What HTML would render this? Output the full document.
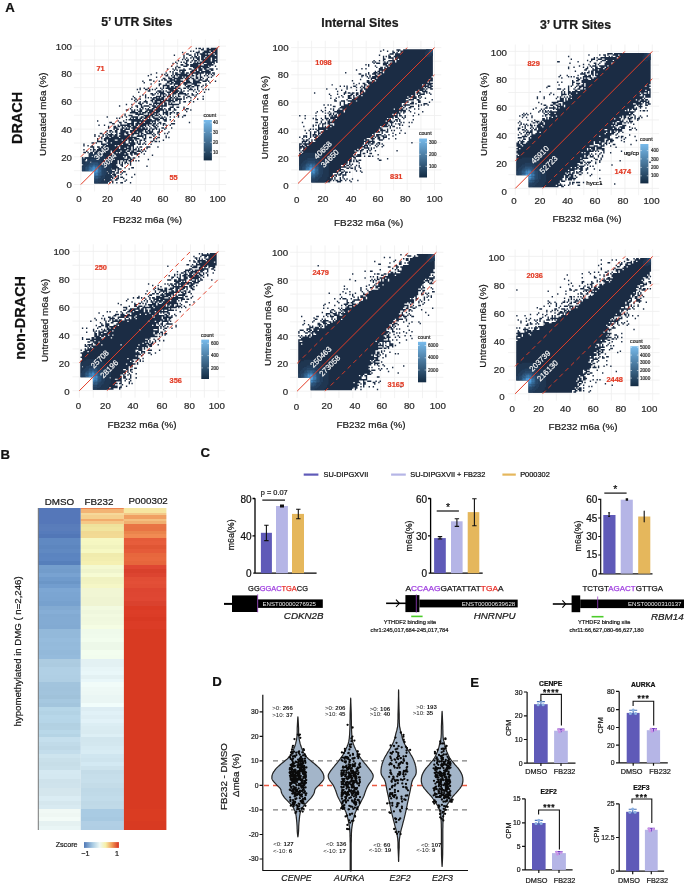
<!DOCTYPE html>
<html><head><meta charset="utf-8"><style>
html,body{margin:0;padding:0;background:#fff;}
svg{display:block;font-family:"Liberation Sans", sans-serif;will-change:transform;}
</style></head><body>
<svg width="685" height="884" viewBox="0 0 685 884">
<rect width="685" height="884" fill="#fff"/>
<defs><linearGradient id="cg" x1="0" y1="1" x2="0" y2="0"><stop offset="0" stop-color="#132B43"/><stop offset="1" stop-color="#78bbec"/></linearGradient></defs>
<path d="M80.8 39.2V191.4M73.9 184.5H226.1M94.6 39.2V191.4M73.9 170.7H226.1M108.5 39.2V191.4M73.9 156.8H226.1M122.3 39.2V191.4M73.9 143H226.1M136.2 39.2V191.4M73.9 129.1H226.1M150 39.2V191.4M73.9 115.3H226.1M163.8 39.2V191.4M73.9 101.5H226.1M177.7 39.2V191.4M73.9 87.6H226.1M191.5 39.2V191.4M73.9 73.8H226.1M205.4 39.2V191.4M73.9 59.9H226.1M219.2 39.2V191.4M73.9 46.1H226.1" stroke="#efefef" stroke-width="0.8" fill="none"/>
<path transform="matrix(1.3702 0 0 1.3702 80.54 47.06)" d="M10 99h10M21 99h1M23 99h1M26 99h1M29 99h2M36 99h1M10 98h11M23 98h1M32 98h1M10 97h7M18 97h5M25 97h2M33 97h1M10 96h12M23 96h1M26 96h2M31 96h1M10 95h14M25 95h1M27 95h1M29 95h2M37 95h1M10 94h13M24 94h2M27 94h1M10 93h12M23 93h3M29 93h1M33 93h1M39 93h1M10 92h10M21 92h2M24 92h1M26 92h2M30 92h1M10 91h9M20 91h5M27 91h1M29 91h1M31 91h2M1 90h22M25 90h1M27 90h1M1 89h11M13 89h9M23 89h3M27 89h3M35 89h1M1 88h27M32 88h1M37 88h2M1 87h26M30 87h1M48 87h1M2 86h24M29 86h2M36 86h1M1 85h26M28 85h1M30 85h1M32 85h1M34 85h1M36 85h1M1 84h6M8 84h11M20 84h2M23 84h4M28 84h1M30 84h1M32 84h2M36 84h1M1 83h2M5 83h22M28 83h1M31 83h1M33 83h1M35 83h2M38 83h1M40 83h1M42 83h1M1 82h3M5 82h12M18 82h6M25 82h10M36 82h2M49 82h1M1 81h1M3 81h29M34 81h3M38 81h2M6 80h2M9 80h3M13 80h18M32 80h1M34 80h2M42 80h1M6 79h9M16 79h19M37 79h1M41 79h1M52 79h1M6 78h3M10 78h3M14 78h18M33 78h2M36 78h2M39 78h4M46 78h1M2 77h2M5 77h1M7 77h2M10 77h5M16 77h6M23 77h3M27 77h1M29 77h5M36 77h5M44 77h1M4 76h1M9 76h1M11 76h11M23 76h6M30 76h3M34 76h2M37 76h2M41 76h3M45 76h1M47 76h1M2 75h1M7 75h1M9 75h2M12 75h22M35 75h2M38 75h3M42 75h1M44 75h1M46 75h1M9 74h1M13 74h15M29 74h3M33 74h4M38 74h1M40 74h1M42 74h1M48 74h1M7 73h3M12 73h2M15 73h13M29 73h5M35 73h2M38 73h1M41 73h1M43 73h2M48 73h3M56 73h1M2 72h1M5 72h1M8 72h1M16 72h9M26 72h1M28 72h11M2 71h1M15 71h4M20 71h10M31 71h4M36 71h4M42 71h2M45 71h1M47 71h1M51 71h1M8 70h2M11 70h1M15 70h1M19 70h3M23 70h10M35 70h5M41 70h1M43 70h1M46 70h1M12 69h4M18 69h1M20 69h13M35 69h1M37 69h2M41 69h1M43 69h1M47 69h1M51 69h2M54 69h2M57 69h1M12 68h1M17 68h2M20 68h5M27 68h3M31 68h3M35 68h4M40 68h1M43 68h2M46 68h1M53 68h1M60 68h1M12 67h1M15 67h1M17 67h21M39 67h4M46 67h2M53 67h1M55 67h1M15 66h1M18 66h3M22 66h6M29 66h12M45 66h1M47 66h1M50 66h2M54 66h1M56 66h2M62 66h1M64 66h1M10 65h1M13 65h1M16 65h1M19 65h1M21 65h2M24 65h3M28 65h8M37 65h1M41 65h5M47 65h1M53 65h1M62 65h1M10 64h1M16 64h1M18 64h1M20 64h4M25 64h2M29 64h3M34 64h2M37 64h2M42 64h1M44 64h1M46 64h2M52 64h1M54 64h1M57 64h1M14 63h2M19 63h1M22 63h1M26 63h1M28 63h4M33 63h2M37 63h6M44 63h2M48 63h4M53 63h1M56 63h1M61 63h1M63 63h1M18 62h1M21 62h1M23 62h1M25 62h2M29 62h6M36 62h2M39 62h2M42 62h3M47 62h2M50 62h3M56 62h2M64 62h1M19 61h1M21 61h2M25 61h2M29 61h4M36 61h10M47 61h1M49 61h2M52 61h1M57 61h1M59 61h1M24 60h1M26 60h2M29 60h2M32 60h4M38 60h2M41 60h8M50 60h1M52 60h2M55 60h1M57 60h1M61 60h1M20 59h1M24 59h3M30 59h2M33 59h1M35 59h1M37 59h7M45 59h2M48 59h1M51 59h1M54 59h2M59 59h2M62 59h1M66 59h1M20 58h1M24 58h2M27 58h2M30 58h1M32 58h1M34 58h3M38 58h3M43 58h3M47 58h1M50 58h1M53 58h2M56 58h1M13 57h1M17 57h1M27 57h1M29 57h7M37 57h2M40 57h2M43 57h5M49 57h1M52 57h2M55 57h1M60 57h1M62 57h1M65 57h1M23 56h2M29 56h1M34 56h5M40 56h12M53 56h2M56 56h1M58 56h1M60 56h2M66 56h3M21 55h2M28 55h2M32 55h2M37 55h2M41 55h2M44 55h2M47 55h4M52 55h1M54 55h1M57 55h2M79 55h1M12 54h1M27 54h1M31 54h1M37 54h18M56 54h1M61 54h2M68 54h1M33 53h1M35 53h9M45 53h1M48 53h4M54 53h4M60 53h3M65 53h1M26 52h1M28 52h1M36 52h1M38 52h1M40 52h2M43 52h2M46 52h3M50 52h1M53 52h4M58 52h3M62 52h1M19 51h1M30 51h1M33 51h1M37 51h5M44 51h2M47 51h4M52 51h2M57 51h1M59 51h1M61 51h1M65 51h1M68 51h1M71 51h1M74 51h1M32 50h1M35 50h3M42 50h1M46 50h7M54 50h3M58 50h1M63 50h1M71 50h1M75 50h2M32 49h1M40 49h6M49 49h1M51 49h3M55 49h1M57 49h1M60 49h1M62 49h2M65 49h1M70 49h1M36 48h6M43 48h1M45 48h3M49 48h3M53 48h4M60 48h4M65 48h2M68 48h1M70 48h2M37 47h3M42 47h3M47 47h2M50 47h4M55 47h3M60 47h1M62 47h2M67 47h1M77 47h1M33 46h2M37 46h1M39 46h1M41 46h1M43 46h2M48 46h5M54 46h7M62 46h1M64 46h2M68 46h2M76 46h1M80 46h1M36 45h1M43 45h1M45 45h1M47 45h1M49 45h1M52 45h2M55 45h5M61 45h1M64 45h2M68 45h1M75 45h1M77 45h2M37 44h1M41 44h1M44 44h2M50 44h1M53 44h5M59 44h1M65 44h3M70 44h2M75 44h1M28 43h1M40 43h2M44 43h1M46 43h4M52 43h3M56 43h7M67 43h1M33 42h1M37 42h1M43 42h2M50 42h2M53 42h1M55 42h1M57 42h1M59 42h1M61 42h2M64 42h8M42 41h2M45 41h1M48 41h1M53 41h7M61 41h2M64 41h1M66 41h1M72 41h1M40 40h1M43 40h1M46 40h3M52 40h1M54 40h2M58 40h4M64 40h2M67 40h2M72 40h1M75 40h2M79 40h1M82 40h1M39 39h1M41 39h1M47 39h1M51 39h2M54 39h5M60 39h8M69 39h2M72 39h1M80 39h1M37 38h1M40 38h1M43 38h1M52 38h2M55 38h6M62 38h1M64 38h2M67 38h1M69 38h5M75 38h1M85 38h1M89 38h1M39 37h1M47 37h1M49 37h1M51 37h1M53 37h3M57 37h1M59 37h2M65 37h2M68 37h1M70 37h1M75 37h1M77 37h1M80 37h1M38 36h1M43 36h1M47 36h1M55 36h4M60 36h2M63 36h3M67 36h1M69 36h1M71 36h2M75 36h1M78 36h2M83 36h1M89 36h1M45 35h1M47 35h1M52 35h2M58 35h1M60 35h1M62 35h1M64 35h2M67 35h1M71 35h1M76 35h2M81 35h2M84 35h1M51 34h2M54 34h1M56 34h1M58 34h4M64 34h1M67 34h3M71 34h6M78 34h1M81 34h1M85 34h1M42 33h1M55 33h1M57 33h4M63 33h3M67 33h4M72 33h3M84 33h1M90 33h1M49 32h2M56 32h3M60 32h1M62 32h1M65 32h7M73 32h1M75 32h1M78 32h1M82 32h1M86 32h1M41 31h1M43 31h1M47 31h2M50 31h1M52 31h1M54 31h1M59 31h1M64 31h4M69 31h2M73 31h1M79 31h3M83 31h1M85 31h1M89 31h1M91 31h1M93 31h1M43 30h1M46 30h1M49 30h1M55 30h1M58 30h1M60 30h1M62 30h8M71 30h2M75 30h2M78 30h1M80 30h1M85 30h1M60 29h1M63 29h2M66 29h2M69 29h2M77 29h3M81 29h2M85 29h1M88 29h1M57 28h1M60 28h5M68 28h1M71 28h2M76 28h1M78 28h3M83 28h4M89 28h1M91 28h1M51 27h1M57 27h2M62 27h1M65 27h2M68 27h5M75 27h3M81 27h4M91 27h1M46 26h1M63 26h2M66 26h2M69 26h4M75 26h6M82 26h6M94 26h1M45 25h1M53 25h1M57 25h1M63 25h4M68 25h7M77 25h3M82 25h5M89 25h3M93 25h1M98 25h1M50 24h2M59 24h1M61 24h2M65 24h4M70 24h3M77 24h2M82 24h2M86 24h3M91 24h2M60 23h2M64 23h3M68 23h7M76 23h4M81 23h2M84 23h2M87 23h1M89 23h1M92 23h1M55 22h1M64 22h1M67 22h2M71 22h3M75 22h1M77 22h2M80 22h1M84 22h2M87 22h2M93 22h1M95 22h1M49 21h1M62 21h2M66 21h1M68 21h1M70 21h1M72 21h8M81 21h2M84 21h1M87 21h1M90 21h1M92 21h1M96 21h1M51 20h1M59 20h1M61 20h1M63 20h1M67 20h1M69 20h9M79 20h1M81 20h1M84 20h2M87 20h1M91 20h1M93 20h1M95 20h1M97 20h1M55 19h1M62 19h1M67 19h1M69 19h2M73 19h3M77 19h2M80 19h10M91 19h4M96 19h2M65 18h1M67 18h1M72 18h1M74 18h2M80 18h3M84 18h3M88 18h7M68 17h1M70 17h1M72 17h5M81 17h4M86 17h3M91 17h3M95 17h2M63 16h1M67 16h1M69 16h1M75 16h1M79 16h2M83 16h2M86 16h3M90 16h2M94 16h3M99 16h1M69 15h1M71 15h2M82 15h6M89 15h5M66 14h1M70 14h1M75 14h3M80 14h13M94 14h1M98 14h1M73 13h2M77 13h2M80 13h6M87 13h1M90 13h7M67 12h1M70 12h1M76 12h2M82 12h6M89 12h1M92 12h4M97 12h1M69 11h1M73 11h1M75 11h1M77 11h1M80 11h1M83 11h1M85 11h1M87 11h11M99 11h1M71 10h1M77 10h2M81 10h1M83 10h2M86 10h1M89 10h6M96 10h4M74 9h1M76 9h1M78 9h1M82 9h1M85 9h2M88 9h7M96 9h2M99 9h1M75 8h1M77 8h1M80 8h1M82 8h1M84 8h3M88 8h2M91 8h4M96 8h4M75 7h1M81 7h1M83 7h2M86 7h1M88 7h3M92 7h8M68 6h1M75 6h1M79 6h2M83 6h1M85 6h1M88 6h10M99 6h1M77 5h2M83 5h1M85 5h1M87 5h4M92 5h1M95 5h2M98 5h2M74 4h1M84 4h3M89 4h6M96 4h4M80 3h1M82 3h1M86 3h1M90 3h4M95 3h2M98 3h2M88 2h2M92 2h8M84 1h1M86 1h2M89 1h1M92 1h2M95 1h5" stroke="#1b2c44" stroke-width="1.1" fill="none"/>
<path transform="matrix(1.3702 0 0 1.3702 80.54 47.06)" d="M13 99h7M15 98h6M16 97h1M18 97h4M17 96h5M18 95h5M18 94h5M19 93h3M19 92h1M21 92h2M20 91h3M19 90h4M19 89h3M19 88h4M1 87h1M18 87h5M18 86h5M1 85h2M17 85h5M1 84h3M16 84h3M20 84h2M1 83h2M15 83h6M1 82h3M5 82h2M13 82h4M18 82h2M1 81h1M3 81h16M6 80h2M9 80h3M13 80h5M6 79h9M16 79h1M6 78h3M10 78h3M14 78h1" stroke="#1f3651" stroke-width="1.1" fill="none"/>
<path transform="matrix(1.3702 0 0 1.3702 80.54 47.06)" d="M10 99h3M10 98h5M13 97h3M14 96h3M15 95h3M16 94h2M17 93h2M17 92h2M17 91h2M1 90h2M17 90h2M1 89h2M17 89h2M1 88h2M17 88h2M2 87h2M16 87h2M2 86h3M15 86h3M3 85h3M14 85h3M4 84h3M13 84h3M5 83h10M7 82h6" stroke="#233f5e" stroke-width="1.1" fill="none"/>
<path transform="matrix(1.3702 0 0 1.3702 80.54 47.06)" d="M10 97h3M13 96h1M14 95h1M15 94h1M16 93h1M16 92h1M16 91h1M3 90h1M16 90h1M3 89h1M16 89h1M3 88h1M16 88h1M4 87h1M15 87h1M5 86h1M14 86h1M6 85h1M13 85h1M8 84h5" stroke="#28486a" stroke-width="1.1" fill="none"/>
<path transform="matrix(1.3702 0 0 1.3702 80.54 47.06)" d="M10 96h3M13 95h1M14 94h1M15 93h1M15 92h1M15 91h1M4 90h1M15 90h1M4 89h1M15 89h1M4 88h1M15 88h1M5 87h1M14 87h1M6 86h1M13 86h1M7 85h6" stroke="#2c5277" stroke-width="1.1" fill="none"/>
<path transform="matrix(1.3702 0 0 1.3702 80.54 47.06)" d="M11 95h2M13 94h1M14 93h1M14 92h1M5 89h1M14 89h1M5 88h1M14 88h1M6 87h1M13 87h1M7 86h2M11 86h2" stroke="#305c84" stroke-width="1.1" fill="none"/>
<path transform="matrix(1.3702 0 0 1.3702 80.54 47.06)" d="M10 95h1M12 94h1M13 93h1M14 91h1M5 90h1M14 90h1M6 88h1M13 88h1M7 87h1M12 87h1M9 86h2" stroke="#346591" stroke-width="1.1" fill="none"/>
<path transform="matrix(1.3702 0 0 1.3702 80.54 47.06)" d="M11 94h1M13 92h1M6 89h1M13 89h1M8 87h1M11 87h1" stroke="#386e9e" stroke-width="1.1" fill="none"/>
<path transform="matrix(1.3702 0 0 1.3702 80.54 47.06)" d="M10 94h1M12 93h1M13 91h1M6 90h1M13 90h1M7 88h1M12 88h1M9 87h2" stroke="#3d78aa" stroke-width="1.1" fill="none"/>
<path transform="matrix(1.3702 0 0 1.3702 80.54 47.06)" d="M11 93h1M12 92h1M7 89h1M8 88h1M11 88h1" stroke="#4182b7" stroke-width="1.1" fill="none"/>
<path transform="matrix(1.3702 0 0 1.3702 80.54 47.06)" d="M10 93h1M12 91h1M7 90h1M12 90h1M9 88h2" stroke="#458bc4" stroke-width="1.1" fill="none"/>
<path transform="matrix(1.3702 0 0 1.3702 80.54 47.06)" d="M11 92h1M8 89h1M11 89h1" stroke="#4994d1" stroke-width="1.1" fill="none"/>
<path transform="matrix(1.3702 0 0 1.3702 80.54 47.06)" d="M10 92h1M11 91h1M8 90h1M11 90h1M9 89h2" stroke="#4e9edd" stroke-width="1.1" fill="none"/>
<path transform="matrix(1.3702 0 0 1.3702 80.54 47.06)" d="M10 91h1M9 90h2" stroke="#52a8ea" stroke-width="1.1" fill="none"/>
<path d="M80.8 184.5L219.2 46.1" stroke="#e23c26" stroke-width="1" fill="none"/>
<path d="M80.8 156.8L191.5 46.1M108.5 184.5L219.2 73.8" stroke="#e23c26" stroke-width="0.95" fill="none" stroke-dasharray="4.5 3.5"/>
<text x="72" y="188.4" font-size="9.7" text-anchor="end" fill="#2a2a2a" stroke="#2a2a2a" stroke-width="0.22">0</text>
<text x="78.9" y="202.3" font-size="9.7" text-anchor="middle" fill="#2a2a2a" stroke="#2a2a2a" stroke-width="0.22">0</text>
<text x="72" y="160.6" font-size="9.7" text-anchor="end" fill="#2a2a2a" stroke="#2a2a2a" stroke-width="0.22">20</text>
<text x="107.4" y="202.3" font-size="9.7" text-anchor="middle" fill="#2a2a2a" stroke="#2a2a2a" stroke-width="0.22">20</text>
<text x="72" y="132.9" font-size="9.7" text-anchor="end" fill="#2a2a2a" stroke="#2a2a2a" stroke-width="0.22">40</text>
<text x="136.1" y="202.3" font-size="9.7" text-anchor="middle" fill="#2a2a2a" stroke="#2a2a2a" stroke-width="0.22">40</text>
<text x="72" y="105.1" font-size="9.7" text-anchor="end" fill="#2a2a2a" stroke="#2a2a2a" stroke-width="0.22">60</text>
<text x="163" y="202.3" font-size="9.7" text-anchor="middle" fill="#2a2a2a" stroke="#2a2a2a" stroke-width="0.22">60</text>
<text x="72" y="77.4" font-size="9.7" text-anchor="end" fill="#2a2a2a" stroke="#2a2a2a" stroke-width="0.22">80</text>
<text x="190.3" y="202.3" font-size="9.7" text-anchor="middle" fill="#2a2a2a" stroke="#2a2a2a" stroke-width="0.22">80</text>
<text x="72" y="49.6" font-size="9.7" text-anchor="end" fill="#2a2a2a" stroke="#2a2a2a" stroke-width="0.22">100</text>
<text x="217.6" y="202.3" font-size="9.7" text-anchor="middle" fill="#2a2a2a" stroke="#2a2a2a" stroke-width="0.22">100</text>
<text x="136.7" y="26.1" font-size="12.3" text-anchor="middle" font-weight="bold" fill="#1a1a1a" stroke="#1a1a1a" stroke-width="0.22">5’ UTR Sites</text>
<text x="46" y="114.2" font-size="9.9" text-anchor="middle" fill="#1a1a1a" transform="rotate(-90 46 114.2)" stroke="#1a1a1a" stroke-width="0.22">Untreated m6a (%)</text>
<text x="147.5" y="222.7" font-size="9.9" text-anchor="middle" fill="#1a1a1a" stroke="#1a1a1a" stroke-width="0.22">FB232 m6a (%)</text>
<text x="100.6" y="70.6" font-size="7.4" text-anchor="middle" font-weight="bold" fill="#e23c26" stroke="#e23c26" stroke-width="0.22">71</text>
<text x="173.5" y="179.5" font-size="7.4" text-anchor="middle" font-weight="bold" fill="#e23c26" stroke="#e23c26" stroke-width="0.22">55</text>
<text x="103.5" y="154.5" font-size="7.8" text-anchor="middle" fill="#f4f4f4" transform="rotate(-45 103.5 154.5)" stroke="#f4f4f4" stroke-width="0.22">3045</text>
<text x="111" y="162.1" font-size="7.8" text-anchor="middle" fill="#f4f4f4" transform="rotate(-45 111 162.1)" stroke="#f4f4f4" stroke-width="0.22">3094</text>
<rect x="203.7" y="120" width="8.2" height="40.4" fill="url(#cg)" />
<text x="203.4" y="117.1" font-size="5.2" fill="#333" stroke="#333" stroke-width="0.22">count</text>
<text x="213" y="124.4" font-size="4.6" fill="#333" stroke="#333" stroke-width="0.22">40</text>
<text x="213" y="134" font-size="4.6" fill="#333" stroke="#333" stroke-width="0.22">30</text>
<text x="213" y="143.9" font-size="4.6" fill="#333" stroke="#333" stroke-width="0.22">20</text>
<text x="213" y="153.7" font-size="4.6" fill="#333" stroke="#333" stroke-width="0.22">10</text>
<path d="M203.7 122.8h1.6M211.9 122.8h-1.6M203.7 132.4h1.6M211.9 132.4h-1.6M203.7 142.3h1.6M211.9 142.3h-1.6M203.7 152.1h1.6M211.9 152.1h-1.6" stroke="#fff" stroke-width="0.5"/>
<path d="M298 40.8V190.3M291.2 183.5H441.3M311.6 40.8V190.3M291.2 169.9H441.3M325.3 40.8V190.3M291.2 156.3H441.3M338.9 40.8V190.3M291.2 142.7H441.3M352.6 40.8V190.3M291.2 129.1H441.3M366.2 40.8V190.3M291.2 115.5H441.3M379.9 40.8V190.3M291.2 102H441.3M393.6 40.8V190.3M291.2 88.4H441.3M407.2 40.8V190.3M291.2 74.8H441.3M420.9 40.8V190.3M291.2 61.2H441.3M434.5 40.8V190.3M291.2 47.6H441.3" stroke="#efefef" stroke-width="0.8" fill="none"/>
<path transform="matrix(1.3514 0 0 1.3454 297.74 48.54)" d="M10 99h14M29 99h3M39 99h1M10 98h15M26 98h1M28 98h2M31 98h2M35 98h1M38 98h1M44 98h1M10 97h16M27 97h1M31 97h1M34 97h1M36 97h1M40 97h1M10 96h14M25 96h1M27 96h1M31 96h1M33 96h1M10 95h17M28 95h1M33 95h1M10 94h16M27 94h2M30 94h2M33 94h3M10 93h16M29 93h1M31 93h2M35 93h1M10 92h20M32 92h2M35 92h2M38 92h1M47 92h1M10 91h19M30 91h2M34 91h1M43 91h1M46 91h1M1 90h33M42 90h1M1 89h31M36 89h2M39 89h2M42 89h1M46 89h1M1 88h35M38 88h1M42 88h1M45 88h1M1 87h31M34 87h1M36 87h2M39 87h1M43 87h1M45 87h1M1 86h35M38 86h1M40 86h1M1 85h36M38 85h1M45 85h1M1 84h36M38 84h2M41 84h1M43 84h2M1 83h39M41 83h1M43 83h1M45 83h2M60 83h2M1 82h39M42 82h1M59 82h1M66 82h1M1 81h39M41 81h2M1 80h41M43 80h4M49 80h1M52 80h2M55 80h1M1 79h40M42 79h1M44 79h3M59 79h1M1 78h1M3 78h39M46 78h1M48 78h2M53 78h2M2 77h1M4 77h39M46 77h1M51 77h1M1 76h1M3 76h39M43 76h2M46 76h2M51 76h1M53 76h1M57 76h1M73 76h1M1 75h1M4 75h40M45 75h1M47 75h2M52 75h1M54 75h1M1 74h2M4 74h43M49 74h4M54 74h1M56 74h1M1 73h4M6 73h44M51 73h1M58 73h1M62 73h1M1 72h1M3 72h1M5 72h2M8 72h40M49 72h3M53 72h1M57 72h1M59 72h1M63 72h1M1 71h2M4 71h45M50 71h1M52 71h1M54 71h2M58 71h1M60 71h1M62 71h1M3 70h1M5 70h1M8 70h41M50 70h4M55 70h2M59 70h2M84 70h1M3 69h4M8 69h1M10 69h1M13 69h38M52 69h5M4 68h1M6 68h2M10 68h1M12 68h37M50 68h3M55 68h1M60 68h3M3 67h1M8 67h1M13 67h38M54 67h3M59 67h2M63 67h1M67 67h1M72 67h1M1 66h1M4 66h1M6 66h1M9 66h1M12 66h2M15 66h39M55 66h1M57 66h1M59 66h2M63 66h3M4 65h3M9 65h1M11 65h1M13 65h2M16 65h41M58 65h2M62 65h2M65 65h1M70 65h1M9 64h1M11 64h3M15 64h1M17 64h38M56 64h1M58 64h4M64 64h1M67 64h1M72 64h1M6 63h1M9 63h1M12 63h1M15 63h2M18 63h39M62 63h1M70 63h1M75 63h1M79 63h1M9 62h1M12 62h2M15 62h1M17 62h44M62 62h1M65 62h2M5 61h1M8 61h1M14 61h2M19 61h41M61 61h4M66 61h1M69 61h1M71 61h1M76 61h1M9 60h1M11 60h1M13 60h1M15 60h6M22 60h38M61 60h2M66 60h1M15 59h47M68 59h1M73 59h1M75 59h1M4 58h1M11 58h1M15 58h1M18 58h1M20 58h1M22 58h2M25 58h36M62 58h5M68 58h1M70 58h2M82 58h1M11 57h1M13 57h1M15 57h1M18 57h1M23 57h3M27 57h39M67 57h1M69 57h1M75 57h1M77 57h1M16 56h1M18 56h3M22 56h2M27 56h40M69 56h1M72 56h1M74 56h2M3 55h1M13 55h2M17 55h1M20 55h1M22 55h45M68 55h3M76 55h1M78 55h1M82 55h1M84 55h1M17 54h1M22 54h2M25 54h40M66 54h4M71 54h1M73 54h1M75 54h1M13 53h2M18 53h1M21 53h1M23 53h1M26 53h43M72 53h2M75 53h1M85 53h1M5 52h1M11 52h1M13 52h1M17 52h1M20 52h3M24 52h4M29 52h37M67 52h1M70 52h1M74 52h1M78 52h1M20 51h1M24 51h47M72 51h2M77 51h1M79 51h1M1 50h1M5 50h1M13 50h1M20 50h1M23 50h1M25 50h1M27 50h2M30 50h44M75 50h2M79 50h1M85 50h1M23 49h2M26 49h1M28 49h1M30 49h40M71 49h1M73 49h1M75 49h1M89 49h1M13 48h1M20 48h1M22 48h1M24 48h1M26 48h1M29 48h47M78 48h1M86 48h1M14 47h1M18 47h1M23 47h1M27 47h7M35 47h40M76 47h1M78 47h2M83 47h1M92 47h1M17 46h1M20 46h1M26 46h1M29 46h5M35 46h45M82 46h1M24 45h1M26 45h1M30 45h1M33 45h38M72 45h3M76 45h2M80 45h1M86 45h1M89 45h1M20 44h1M31 44h45M78 44h1M82 44h2M26 43h2M32 43h46M79 43h1M83 43h3M89 43h1M19 42h1M22 42h1M24 42h1M31 42h1M34 42h43M78 42h5M89 42h1M91 42h1M93 42h1M96 42h1M31 41h1M34 41h1M37 41h40M79 41h1M83 41h3M87 41h1M93 41h3M31 40h1M34 40h1M39 40h41M81 40h1M84 40h2M89 40h2M97 40h1M27 39h2M32 39h3M37 39h6M44 39h38M89 39h2M27 38h1M36 38h1M40 38h40M82 38h4M88 38h2M99 38h1M24 37h1M28 37h1M37 37h3M41 37h41M85 37h3M90 37h1M94 37h1M30 36h1M33 36h1M37 36h2M41 36h1M44 36h37M82 36h6M89 36h1M91 36h1M24 35h1M32 35h1M37 35h3M41 35h1M43 35h1M45 35h2M48 35h36M85 35h2M89 35h2M23 34h1M29 34h1M34 34h1M39 34h2M43 34h2M46 34h41M88 34h1M90 34h4M98 34h1M12 33h1M34 33h2M37 33h2M40 33h2M43 33h2M46 33h1M48 33h39M88 33h3M93 33h1M95 33h1M97 33h1M29 32h1M35 32h1M46 32h3M50 32h37M88 32h2M92 32h4M32 31h1M43 31h1M46 31h2M50 31h39M90 31h3M94 31h1M21 30h1M28 30h1M36 30h1M47 30h1M49 30h45M95 30h1M98 30h2M36 29h1M39 29h1M43 29h1M46 29h1M48 29h2M52 29h41M94 29h1M96 29h3M31 28h1M34 28h1M36 28h1M41 28h2M47 28h1M49 28h1M51 28h46M98 28h2M25 27h1M43 27h1M49 27h2M53 27h39M93 27h2M96 27h3M41 26h1M45 26h1M48 26h2M52 26h48M51 25h45M97 25h1M40 24h1M51 24h2M55 24h2M58 24h42M46 23h1M54 23h1M57 23h40M98 23h2M52 22h1M54 22h4M59 22h41M47 21h1M51 21h1M53 21h1M55 21h44M47 20h2M50 20h1M53 20h1M57 20h2M61 20h39M45 19h2M50 19h1M52 19h1M55 19h3M59 19h2M62 19h38M35 18h1M52 18h1M56 18h3M60 18h3M64 18h36M57 17h1M59 17h2M62 17h1M64 17h36M43 16h1M60 16h40M47 15h1M50 15h1M60 15h3M64 15h36M58 14h1M61 14h2M64 14h1M66 14h34M52 13h1M57 13h1M65 13h2M68 13h32M50 12h1M52 12h1M63 12h3M67 12h33M56 11h1M58 11h3M63 11h4M68 11h32M55 10h1M57 10h1M64 10h1M66 10h1M70 10h2M73 10h27M56 9h1M60 9h1M63 9h1M67 9h5M73 9h27M63 8h2M70 8h1M72 8h2M75 8h25M63 7h1M67 7h4M72 7h28M63 6h1M65 6h1M67 6h2M71 6h29M60 5h1M67 5h1M72 5h28M68 4h3M72 4h28M70 3h2M73 3h1M76 3h24M61 2h1M66 2h1M70 2h1M74 2h1M76 2h24M63 1h1M73 1h3M78 1h22" stroke="#1b2c44" stroke-width="1.1" fill="none"/>
<path transform="matrix(1.3514 0 0 1.3454 297.74 48.54)" d="M13 99h7M15 98h6M16 97h6M17 96h5M18 95h5M18 94h5M19 93h4M19 92h4M19 91h4M19 90h4M19 89h4M19 88h4M1 87h1M18 87h5M1 86h1M18 86h5M1 85h2M17 85h5M1 84h3M16 84h6M1 83h4M15 83h6M1 82h6M13 82h7M1 81h18M2 80h16M3 79h14M5 78h10M95 6h3M94 5h6M94 4h2M99 4h1M94 3h2M95 2h1M95 1h2" stroke="#1f3651" stroke-width="1.1" fill="none"/>
<path transform="matrix(1.3514 0 0 1.3454 297.74 48.54)" d="M10 99h3M10 98h5M13 97h3M14 96h3M15 95h3M16 94h2M17 93h2M17 92h2M17 91h2M1 90h2M17 90h2M1 89h2M17 89h2M1 88h2M17 88h2M2 87h2M16 87h2M2 86h3M15 86h3M3 85h3M14 85h3M4 84h3M13 84h3M5 83h10M7 82h6M96 4h3M96 3h1M96 2h1" stroke="#233f5e" stroke-width="1.1" fill="none"/>
<path transform="matrix(1.3514 0 0 1.3454 297.74 48.54)" d="M10 97h3M13 96h1M14 95h1M15 94h1M16 93h1M16 92h1M16 91h1M3 90h1M16 90h1M3 89h1M16 89h1M3 88h1M16 88h1M4 87h1M15 87h1M5 86h1M14 86h1M6 85h1M13 85h1M7 84h6M97 3h3M97 2h1M97 1h1" stroke="#28486a" stroke-width="1.1" fill="none"/>
<path transform="matrix(1.3514 0 0 1.3454 297.74 48.54)" d="M10 96h3M13 95h1M14 94h1M15 93h1M15 92h1M15 91h1M4 90h1M15 90h1M4 89h1M15 89h1M4 88h1M15 88h1M5 87h1M14 87h1M6 86h1M13 86h1M7 85h6M98 2h2M98 1h2" stroke="#2c5277" stroke-width="1.1" fill="none"/>
<path transform="matrix(1.3514 0 0 1.3454 297.74 48.54)" d="M11 95h2M13 94h1M14 93h1M14 92h1M5 89h1M14 89h1M5 88h1M14 88h1M6 87h1M13 87h1M7 86h2M11 86h2" stroke="#305c84" stroke-width="1.1" fill="none"/>
<path transform="matrix(1.3514 0 0 1.3454 297.74 48.54)" d="M10 95h1M12 94h1M13 93h1M14 91h1M5 90h1M14 90h1M6 88h1M13 88h1M7 87h1M12 87h1M9 86h2" stroke="#346591" stroke-width="1.1" fill="none"/>
<path transform="matrix(1.3514 0 0 1.3454 297.74 48.54)" d="M11 94h1M13 92h1M6 89h1M13 89h1M8 87h1M11 87h1" stroke="#386e9e" stroke-width="1.1" fill="none"/>
<path transform="matrix(1.3514 0 0 1.3454 297.74 48.54)" d="M10 94h1M12 93h1M13 91h1M6 90h1M13 90h1M7 88h1M12 88h1M9 87h2" stroke="#3d78aa" stroke-width="1.1" fill="none"/>
<path transform="matrix(1.3514 0 0 1.3454 297.74 48.54)" d="M11 93h1M12 92h1M7 89h1M12 89h1M8 88h1M11 88h1" stroke="#4182b7" stroke-width="1.1" fill="none"/>
<path transform="matrix(1.3514 0 0 1.3454 297.74 48.54)" d="M10 93h1M12 91h1M7 90h1M12 90h1M9 88h2" stroke="#458bc4" stroke-width="1.1" fill="none"/>
<path transform="matrix(1.3514 0 0 1.3454 297.74 48.54)" d="M11 92h1M8 89h1M11 89h1" stroke="#4994d1" stroke-width="1.1" fill="none"/>
<path transform="matrix(1.3514 0 0 1.3454 297.74 48.54)" d="M10 92h1M11 91h1M8 90h1M11 90h1M9 89h2" stroke="#4e9edd" stroke-width="1.1" fill="none"/>
<path transform="matrix(1.3514 0 0 1.3454 297.74 48.54)" d="M10 91h1M9 90h2" stroke="#52a8ea" stroke-width="1.1" fill="none"/>
<path d="M298 183.5L434.5 47.6" stroke="#e23c26" stroke-width="1" fill="none"/>
<path d="M298 156.3L407.2 47.6M325.3 183.5L434.5 74.8" stroke="#e23c26" stroke-width="0.95" fill="none" stroke-dasharray="4.5 3.5"/>
<text x="288.6" y="189.3" font-size="9.7" text-anchor="end" fill="#2a2a2a" stroke="#2a2a2a" stroke-width="0.22">0</text>
<text x="296.6" y="203.2" font-size="9.7" text-anchor="middle" fill="#2a2a2a" stroke="#2a2a2a" stroke-width="0.22">0</text>
<text x="288.6" y="161.5" font-size="9.7" text-anchor="end" fill="#2a2a2a" stroke="#2a2a2a" stroke-width="0.22">20</text>
<text x="323" y="201.8" font-size="9.7" text-anchor="middle" fill="#2a2a2a" stroke="#2a2a2a" stroke-width="0.22">20</text>
<text x="288.6" y="133.8" font-size="9.7" text-anchor="end" fill="#2a2a2a" stroke="#2a2a2a" stroke-width="0.22">40</text>
<text x="351.1" y="201.8" font-size="9.7" text-anchor="middle" fill="#2a2a2a" stroke="#2a2a2a" stroke-width="0.22">40</text>
<text x="288.6" y="106" font-size="9.7" text-anchor="end" fill="#2a2a2a" stroke="#2a2a2a" stroke-width="0.22">60</text>
<text x="377.9" y="201.8" font-size="9.7" text-anchor="middle" fill="#2a2a2a" stroke="#2a2a2a" stroke-width="0.22">60</text>
<text x="288.6" y="78.3" font-size="9.7" text-anchor="end" fill="#2a2a2a" stroke="#2a2a2a" stroke-width="0.22">80</text>
<text x="405.3" y="201.8" font-size="9.7" text-anchor="middle" fill="#2a2a2a" stroke="#2a2a2a" stroke-width="0.22">80</text>
<text x="288.6" y="50.5" font-size="9.7" text-anchor="end" fill="#2a2a2a" stroke="#2a2a2a" stroke-width="0.22">100</text>
<text x="434.5" y="201.8" font-size="9.7" text-anchor="middle" fill="#2a2a2a" stroke="#2a2a2a" stroke-width="0.22">100</text>
<text x="359.9" y="26.8" font-size="12.3" text-anchor="middle" font-weight="bold" fill="#1a1a1a" stroke="#1a1a1a" stroke-width="0.22">Internal Sites</text>
<text x="268" y="117.5" font-size="9.9" text-anchor="middle" fill="#1a1a1a" transform="rotate(-90 268 117.5)" stroke="#1a1a1a" stroke-width="0.22">Untreated m6a (%)</text>
<text x="368.6" y="226" font-size="9.9" text-anchor="middle" fill="#1a1a1a" stroke="#1a1a1a" stroke-width="0.22">FB232 m6a (%)</text>
<text x="323.5" y="64.9" font-size="7.4" text-anchor="middle" font-weight="bold" fill="#e23c26" stroke="#e23c26" stroke-width="0.22">1098</text>
<text x="396.2" y="179.4" font-size="7.4" text-anchor="middle" font-weight="bold" fill="#e23c26" stroke="#e23c26" stroke-width="0.22">831</text>
<text x="324.7" y="152" font-size="7.8" text-anchor="middle" fill="#f4f4f4" transform="rotate(-45 324.7 152)" stroke="#f4f4f4" stroke-width="0.22">40658</text>
<text x="331.7" y="160.3" font-size="7.8" text-anchor="middle" fill="#f4f4f4" transform="rotate(-45 331.7 160.3)" stroke="#f4f4f4" stroke-width="0.22">34650</text>
<rect x="419.2" y="138.5" width="7.8" height="39" fill="url(#cg)" />
<text x="418.9" y="135.3" font-size="5.2" fill="#333" stroke="#333" stroke-width="0.22">count</text>
<text x="429" y="143.9" font-size="4.6" fill="#333" stroke="#333" stroke-width="0.22">300</text>
<text x="429" y="155.9" font-size="4.6" fill="#333" stroke="#333" stroke-width="0.22">200</text>
<text x="429" y="167.9" font-size="4.6" fill="#333" stroke="#333" stroke-width="0.22">100</text>
<path d="M419.2 142.3h1.6M427 142.3h-1.6M419.2 154.3h1.6M427 154.3h-1.6M419.2 166.3h1.6M427 166.3h-1.6" stroke="#fff" stroke-width="0.5"/>
<path d="M515.3 44.5V195.2M508.4 188.4H659.1M529 44.5V195.2M508.4 174.7H659.1M542.7 44.5V195.2M508.4 161H659.1M556.4 44.5V195.2M508.4 147.3H659.1M570.1 44.5V195.2M508.4 133.6H659.1M583.8 44.5V195.2M508.4 119.9H659.1M597.5 44.5V195.2M508.4 106.2H659.1M611.2 44.5V195.2M508.4 92.5H659.1M624.9 44.5V195.2M508.4 78.8H659.1M638.6 44.5V195.2M508.4 65.1H659.1M652.3 44.5V195.2M508.4 51.4H659.1" stroke="#efefef" stroke-width="0.8" fill="none"/>
<path transform="matrix(1.3563 0 0 1.3563 515.04 52.35)" d="M10 99h22M34 99h2M10 98h20M31 98h4M36 98h1M39 98h1M46 98h2M10 97h22M33 97h1M40 97h1M42 97h1M63 97h1M73 97h1M10 96h23M40 96h1M42 96h2M45 96h3M50 96h1M10 95h23M34 95h3M10 94h25M37 94h1M39 94h3M43 94h1M10 93h25M37 93h1M39 93h6M62 93h1M10 92h26M37 92h2M40 92h3M45 92h1M10 91h26M37 91h3M41 91h2M44 91h1M55 91h1M1 90h37M39 90h4M47 90h2M56 90h1M1 89h36M38 89h1M40 89h1M42 89h2M45 89h2M49 89h1M53 89h1M1 88h40M43 88h1M45 88h1M47 88h2M1 87h38M40 87h4M48 87h2M52 87h1M62 87h1M1 86h45M47 86h3M52 86h2M58 86h1M1 85h40M42 85h2M45 85h2M48 85h2M53 85h1M1 84h45M47 84h4M55 84h1M57 84h1M1 83h46M51 83h1M53 83h1M71 83h1M1 82h45M48 82h2M52 82h1M54 82h1M59 82h1M1 81h49M51 81h1M53 81h3M59 81h1M62 81h1M99 81h1M1 80h47M50 80h1M56 80h1M62 80h1M77 80h1M1 79h49M59 79h2M63 79h1M1 78h47M49 78h5M58 78h1M63 78h1M1 77h50M52 77h1M55 77h3M61 77h1M64 77h1M1 76h1M3 76h48M52 76h2M55 76h1M57 76h1M61 76h1M64 76h1M2 75h53M56 75h1M59 75h1M62 75h1M1 74h48M50 74h1M52 74h3M63 74h1M65 74h1M70 74h1M82 74h1M1 73h57M59 73h1M61 73h1M65 73h1M78 73h1M2 72h51M54 72h2M57 72h2M60 72h1M64 72h2M1 71h2M4 71h49M54 71h1M56 71h3M60 71h6M2 70h57M60 70h4M74 70h1M1 69h4M6 69h49M58 69h3M63 69h3M70 69h1M1 68h3M5 68h53M62 68h2M65 68h1M67 68h1M72 68h2M85 68h1M1 67h2M4 67h2M8 67h50M59 67h5M66 67h2M69 67h1M2 66h1M4 66h3M9 66h49M59 66h3M63 66h3M67 66h1M70 66h2M80 66h1M3 65h1M5 65h1M10 65h56M67 65h2M70 65h3M78 65h1M89 65h1M6 64h2M10 64h56M68 64h4M80 64h1M2 63h3M6 63h1M10 63h1M12 63h58M74 63h2M78 63h1M81 63h1M5 62h4M11 62h51M63 62h7M76 62h1M78 62h2M88 62h1M2 61h1M7 61h1M9 61h1M12 61h59M74 61h1M84 61h1M4 60h1M8 60h1M10 60h1M12 60h1M15 60h51M67 60h6M75 60h1M3 59h1M6 59h1M8 59h5M16 59h2M19 59h48M68 59h2M71 59h3M76 59h1M79 59h1M7 58h1M9 58h1M11 58h2M16 58h54M71 58h2M74 58h1M76 58h3M2 57h1M5 57h2M8 57h1M12 57h1M14 57h2M17 57h49M68 57h11M84 57h2M89 57h1M2 56h2M7 56h1M11 56h1M13 56h1M15 56h1M17 56h55M73 56h2M76 56h1M78 56h3M86 56h1M88 56h1M5 55h1M7 55h1M12 55h1M16 55h4M21 55h53M77 55h4M84 55h1M3 54h1M7 54h1M9 54h1M11 54h2M14 54h1M16 54h3M20 54h51M72 54h1M74 54h2M79 54h3M4 53h1M6 53h1M8 53h1M11 53h1M17 53h4M22 53h52M75 53h4M87 53h1M2 52h1M4 52h1M13 52h2M16 52h1M18 52h3M22 52h50M73 52h1M75 52h4M80 52h2M83 52h1M85 52h1M3 51h1M12 51h1M15 51h3M19 51h1M21 51h54M77 51h3M82 51h1M84 51h3M9 50h1M14 50h1M20 50h58M79 50h1M84 50h1M90 50h1M20 49h2M23 49h1M25 49h48M74 49h4M80 49h1M83 49h3M88 49h1M90 49h2M5 48h1M8 48h1M12 48h1M23 48h1M25 48h2M28 48h49M78 48h1M80 48h2M83 48h1M85 48h2M88 48h1M91 48h1M93 48h1M3 47h1M6 47h1M12 47h1M20 47h1M22 47h1M26 47h4M31 47h48M80 47h2M84 47h1M88 47h1M92 47h1M97 47h1M5 46h1M7 46h1M9 46h1M22 46h2M25 46h61M87 46h1M6 45h1M8 45h1M11 45h1M21 45h1M24 45h1M26 45h3M30 45h54M85 45h2M17 44h1M20 44h1M22 44h2M25 44h63M18 43h1M20 43h1M22 43h1M24 43h1M26 43h1M31 43h50M82 43h1M84 43h1M88 43h1M92 43h1M94 43h2M97 43h1M13 42h1M19 42h1M21 42h1M28 42h1M30 42h53M84 42h2M87 42h3M15 41h1M22 41h2M25 41h5M31 41h1M33 41h55M89 41h1M92 41h1M96 41h1M23 40h1M28 40h1M31 40h5M37 40h51M91 40h3M21 39h2M26 39h2M30 39h2M33 39h1M35 39h1M37 39h52M90 39h1M92 39h1M96 39h2M19 38h1M28 38h2M32 38h2M35 38h52M89 38h5M96 38h1M98 38h2M17 37h1M27 37h5M35 37h58M94 37h1M96 37h3M31 36h5M37 36h54M92 36h5M98 36h1M33 35h3M37 35h1M39 35h50M90 35h2M93 35h2M96 35h2M16 34h1M21 34h1M30 34h1M33 34h3M37 34h1M39 34h2M42 34h52M95 34h1M16 33h1M21 33h1M31 33h1M33 33h1M36 33h1M38 33h1M40 33h55M96 33h4M34 32h1M40 32h1M42 32h50M94 32h1M96 32h4M25 31h1M28 31h1M34 31h4M39 31h1M41 31h52M94 31h6M26 30h1M34 30h1M36 30h1M39 30h6M46 30h46M93 30h2M97 30h1M99 30h1M18 29h1M34 29h1M36 29h1M39 29h2M42 29h56M99 29h1M35 28h1M39 28h1M44 28h2M48 28h48M97 28h3M31 27h3M36 27h1M39 27h1M43 27h1M46 27h2M50 27h1M52 27h48M23 26h1M39 26h1M44 26h1M47 26h2M50 26h49M24 25h2M39 25h1M41 25h1M45 25h1M47 25h4M52 25h44M97 25h3M32 24h1M42 24h1M46 24h1M49 24h2M52 24h47M42 23h1M45 23h3M50 23h1M52 23h48M31 22h1M34 22h1M42 22h2M49 22h51M42 21h1M45 21h2M49 21h51M46 20h2M50 20h4M56 20h44M34 19h1M45 19h2M48 19h1M50 19h1M52 19h1M55 19h2M58 19h42M32 18h1M39 18h1M41 18h1M43 18h1M50 18h6M60 18h40M33 17h1M38 17h1M46 17h1M51 17h2M54 17h2M57 17h1M59 17h41M48 16h4M56 16h2M59 16h1M61 16h39M49 15h1M51 15h1M53 15h2M56 15h2M59 15h41M44 14h1M54 14h1M56 14h2M59 14h41M51 13h2M57 13h4M62 13h38M39 12h1M52 12h2M57 12h1M59 12h6M66 12h34M39 11h1M43 11h1M50 11h1M53 11h1M56 11h1M59 11h2M63 11h3M67 11h33M47 10h1M55 10h1M57 10h3M62 10h6M69 10h31M50 9h1M54 9h1M59 9h1M61 9h1M66 9h34M40 8h1M58 8h2M62 8h1M66 8h5M72 8h28M31 7h2M46 7h1M55 7h1M63 7h1M67 7h33M53 6h1M56 6h1M60 6h1M64 6h3M68 6h4M73 6h27M41 5h1M56 5h3M61 5h3M66 5h34M58 4h1M60 4h1M63 4h12M76 4h24M39 3h1M66 3h1M69 3h1M71 3h1M74 3h26M54 2h1M62 2h1M65 2h2M68 2h1M72 2h4M77 2h23M68 1h4M73 1h27" stroke="#1b2c44" stroke-width="1.1" fill="none"/>
<path transform="matrix(1.3563 0 0 1.3563 515.04 52.35)" d="M13 99h7M15 98h6M16 97h6M17 96h5M18 95h5M18 94h5M19 93h4M19 92h4M19 91h4M19 90h4M19 89h4M19 88h4M1 87h1M18 87h5M1 86h1M18 86h5M1 85h2M17 85h5M1 84h3M16 84h6M1 83h4M15 83h6M1 82h6M13 82h7M1 81h18M2 80h16M3 79h14M5 78h10M95 6h3M94 5h6M94 4h2M99 4h1M94 3h2M95 2h1M95 1h2" stroke="#1f3651" stroke-width="1.1" fill="none"/>
<path transform="matrix(1.3563 0 0 1.3563 515.04 52.35)" d="M10 99h3M10 98h5M13 97h3M14 96h3M15 95h3M16 94h2M17 93h2M17 92h2M17 91h2M1 90h2M17 90h2M1 89h2M17 89h2M1 88h2M17 88h2M2 87h2M16 87h2M2 86h3M15 86h3M3 85h3M14 85h3M4 84h3M13 84h3M5 83h10M7 82h6M96 4h3M96 3h1M96 2h1" stroke="#233f5e" stroke-width="1.1" fill="none"/>
<path transform="matrix(1.3563 0 0 1.3563 515.04 52.35)" d="M10 97h3M13 96h1M14 95h1M15 94h1M16 93h1M16 92h1M16 91h1M3 90h1M16 90h1M3 89h1M16 89h1M3 88h1M16 88h1M4 87h1M15 87h1M5 86h1M14 86h1M6 85h1M13 85h1M7 84h6M97 3h3M97 2h1M97 1h1" stroke="#28486a" stroke-width="1.1" fill="none"/>
<path transform="matrix(1.3563 0 0 1.3563 515.04 52.35)" d="M10 96h3M13 95h1M14 94h1M15 93h1M15 92h1M15 91h1M4 90h1M15 90h1M4 89h1M15 89h1M4 88h1M15 88h1M5 87h1M14 87h1M6 86h1M13 86h1M7 85h6M98 2h2M98 1h2" stroke="#2c5277" stroke-width="1.1" fill="none"/>
<path transform="matrix(1.3563 0 0 1.3563 515.04 52.35)" d="M11 95h2M13 94h1M14 93h1M14 92h1M5 89h1M14 89h1M5 88h1M14 88h1M6 87h1M13 87h1M7 86h2M11 86h2" stroke="#305c84" stroke-width="1.1" fill="none"/>
<path transform="matrix(1.3563 0 0 1.3563 515.04 52.35)" d="M10 95h1M12 94h1M13 93h1M14 91h1M5 90h1M14 90h1M6 88h1M13 88h1M7 87h1M12 87h1M9 86h2" stroke="#346591" stroke-width="1.1" fill="none"/>
<path transform="matrix(1.3563 0 0 1.3563 515.04 52.35)" d="M11 94h1M13 92h1M6 89h1M13 89h1M8 87h1M11 87h1" stroke="#386e9e" stroke-width="1.1" fill="none"/>
<path transform="matrix(1.3563 0 0 1.3563 515.04 52.35)" d="M10 94h1M12 93h1M13 91h1M6 90h1M13 90h1M7 88h1M12 88h1M9 87h2" stroke="#3d78aa" stroke-width="1.1" fill="none"/>
<path transform="matrix(1.3563 0 0 1.3563 515.04 52.35)" d="M11 93h1M12 92h1M7 89h1M12 89h1M8 88h1M11 88h1" stroke="#4182b7" stroke-width="1.1" fill="none"/>
<path transform="matrix(1.3563 0 0 1.3563 515.04 52.35)" d="M10 93h1M12 91h1M7 90h1M12 90h1M9 88h2" stroke="#458bc4" stroke-width="1.1" fill="none"/>
<path transform="matrix(1.3563 0 0 1.3563 515.04 52.35)" d="M11 92h1M8 89h1M11 89h1" stroke="#4994d1" stroke-width="1.1" fill="none"/>
<path transform="matrix(1.3563 0 0 1.3563 515.04 52.35)" d="M10 92h1M11 91h1M8 90h1M11 90h1M9 89h2" stroke="#4e9edd" stroke-width="1.1" fill="none"/>
<path transform="matrix(1.3563 0 0 1.3563 515.04 52.35)" d="M10 91h1M9 90h2" stroke="#52a8ea" stroke-width="1.1" fill="none"/>
<path d="M515.3 188.4L652.3 51.4" stroke="#e23c26" stroke-width="1" fill="none"/>
<path d="M515.3 161L624.9 51.4M542.7 188.4L652.3 78.8" stroke="#e23c26" stroke-width="0.95" fill="none" stroke-dasharray="4.5 3.5"/>
<text x="507" y="194.7" font-size="9.7" text-anchor="end" fill="#2a2a2a" stroke="#2a2a2a" stroke-width="0.22">0</text>
<text x="513.9" y="204.3" font-size="9.7" text-anchor="middle" fill="#2a2a2a" stroke="#2a2a2a" stroke-width="0.22">0</text>
<text x="507" y="166.9" font-size="9.7" text-anchor="end" fill="#2a2a2a" stroke="#2a2a2a" stroke-width="0.22">20</text>
<text x="540" y="204.3" font-size="9.7" text-anchor="middle" fill="#2a2a2a" stroke="#2a2a2a" stroke-width="0.22">20</text>
<text x="507" y="139" font-size="9.7" text-anchor="end" fill="#2a2a2a" stroke="#2a2a2a" stroke-width="0.22">40</text>
<text x="567.6" y="204.3" font-size="9.7" text-anchor="middle" fill="#2a2a2a" stroke="#2a2a2a" stroke-width="0.22">40</text>
<text x="507" y="111.2" font-size="9.7" text-anchor="end" fill="#2a2a2a" stroke="#2a2a2a" stroke-width="0.22">60</text>
<text x="594.9" y="204.3" font-size="9.7" text-anchor="middle" fill="#2a2a2a" stroke="#2a2a2a" stroke-width="0.22">60</text>
<text x="507" y="83.3" font-size="9.7" text-anchor="end" fill="#2a2a2a" stroke="#2a2a2a" stroke-width="0.22">80</text>
<text x="623" y="204.3" font-size="9.7" text-anchor="middle" fill="#2a2a2a" stroke="#2a2a2a" stroke-width="0.22">80</text>
<text x="507" y="55.5" font-size="9.7" text-anchor="end" fill="#2a2a2a" stroke="#2a2a2a" stroke-width="0.22">100</text>
<text x="651.5" y="204.3" font-size="9.7" text-anchor="middle" fill="#2a2a2a" stroke="#2a2a2a" stroke-width="0.22">100</text>
<text x="575.5" y="29" font-size="12.3" text-anchor="middle" font-weight="bold" fill="#1a1a1a" stroke="#1a1a1a" stroke-width="0.22">3’ UTR Sites</text>
<text x="487" y="114.2" font-size="9.9" text-anchor="middle" fill="#1a1a1a" transform="rotate(-90 487 114.2)" stroke="#1a1a1a" stroke-width="0.22">Untreated m6a (%)</text>
<text x="587" y="222" font-size="9.9" text-anchor="middle" fill="#1a1a1a" stroke="#1a1a1a" stroke-width="0.22">FB232 m6a (%)</text>
<text x="533.6" y="66.2" font-size="7.4" text-anchor="middle" font-weight="bold" fill="#e23c26" stroke="#e23c26" stroke-width="0.22">829</text>
<text x="622.8" y="174" font-size="7.4" text-anchor="middle" font-weight="bold" fill="#e23c26" stroke="#e23c26" stroke-width="0.22">1474</text>
<text x="541.8" y="156.7" font-size="7.8" text-anchor="middle" fill="#f4f4f4" transform="rotate(-45 541.8 156.7)" stroke="#f4f4f4" stroke-width="0.22">45910</text>
<text x="550.5" y="166.5" font-size="7.8" text-anchor="middle" fill="#f4f4f4" transform="rotate(-45 550.5 166.5)" stroke="#f4f4f4" stroke-width="0.22">52723</text>
<rect x="640.3" y="144" width="8.1" height="39.4" fill="url(#cg)" />
<text x="640" y="141.2" font-size="5.2" fill="#333" stroke="#333" stroke-width="0.22">count</text>
<text x="651" y="152.2" font-size="4.6" fill="#333" stroke="#333" stroke-width="0.22">400</text>
<text x="651" y="160.5" font-size="4.6" fill="#333" stroke="#333" stroke-width="0.22">300</text>
<text x="651" y="169" font-size="4.6" fill="#333" stroke="#333" stroke-width="0.22">200</text>
<text x="651" y="177.4" font-size="4.6" fill="#333" stroke="#333" stroke-width="0.22">100</text>
<path d="M640.3 150.6h1.6M648.4 150.6h-1.6M640.3 158.9h1.6M648.4 158.9h-1.6M640.3 167.4h1.6M648.4 167.4h-1.6M640.3 175.8h1.6M648.4 175.8h-1.6" stroke="#fff" stroke-width="0.5"/>
<path d="M79.4 244.4V397.7M72.5 390.7H225.2M93.3 244.4V397.7M72.5 376.8H225.2M107.2 244.4V397.7M72.5 362.8H225.2M121.1 244.4V397.7M72.5 348.9H225.2M135 244.4V397.7M72.5 335H225.2M148.9 244.4V397.7M72.5 321.1H225.2M162.7 244.4V397.7M72.5 307.1H225.2M176.6 244.4V397.7M72.5 293.2H225.2M190.5 244.4V397.7M72.5 279.3H225.2M204.4 244.4V397.7M72.5 265.3H225.2M218.3 244.4V397.7M72.5 251.4H225.2" stroke="#efefef" stroke-width="0.8" fill="none"/>
<path transform="matrix(1.3751 0 0 1.3791 79.14 252.37)" d="M10 99h15M29 99h1M10 98h12M23 98h5M29 98h2M10 97h18M30 97h1M34 97h1M10 96h16M31 96h1M10 95h18M29 95h2M36 95h1M38 95h1M10 94h17M30 94h1M36 94h1M10 93h21M33 93h1M37 93h1M10 92h16M28 92h3M34 92h1M36 92h1M10 91h12M23 91h8M32 91h2M37 91h1M41 91h1M1 90h30M32 90h2M37 90h1M1 89h29M32 89h1M35 89h1M37 89h1M1 88h31M33 88h1M36 88h1M41 88h1M1 87h33M35 87h1M38 87h1M1 86h33M35 86h1M37 86h1M1 85h31M34 85h2M37 85h2M1 84h35M40 84h2M1 83h1M3 83h33M37 83h2M1 82h38M1 81h33M35 81h6M42 81h1M1 80h38M42 80h1M1 79h36M38 79h2M41 79h1M44 79h1M46 79h1M2 78h37M42 78h1M44 78h1M2 77h33M36 77h8M46 77h1M1 76h42M2 75h39M42 75h1M45 75h1M2 74h43M46 74h1M52 74h1M1 73h43M45 73h1M47 73h1M50 73h2M55 73h1M3 72h3M7 72h34M42 72h1M45 72h3M1 71h1M4 71h37M43 71h3M50 71h3M58 71h1M4 70h1M6 70h40M47 70h1M6 69h1M8 69h1M10 69h32M43 69h3M47 69h1M49 69h1M4 68h2M7 68h1M9 68h41M51 68h2M4 67h1M6 67h4M12 67h4M17 67h13M31 67h12M44 67h5M50 67h3M57 67h1M9 66h1M11 66h35M47 66h4M52 66h2M6 65h2M10 65h4M15 65h33M49 65h1M51 65h1M53 65h1M55 65h1M8 64h3M12 64h38M51 64h1M55 64h1M58 64h1M61 64h1M2 63h1M5 63h3M9 63h39M50 63h1M54 63h1M57 63h1M2 62h1M9 62h2M12 62h4M18 62h5M24 62h28M11 61h4M16 61h2M19 61h38M58 61h1M11 60h2M14 60h7M22 60h2M25 60h30M60 60h1M62 60h1M11 59h2M14 59h2M17 59h37M55 59h2M58 59h1M60 59h1M62 59h2M5 58h1M11 58h1M14 58h4M20 58h34M55 58h3M59 58h2M10 57h1M12 57h1M14 57h1M17 57h3M21 57h3M25 57h33M62 57h1M10 56h1M16 56h1M18 56h1M20 56h24M45 56h9M57 56h1M61 56h1M2 55h1M5 55h1M13 55h1M20 55h2M23 55h2M26 55h32M59 55h1M62 55h2M67 55h1M14 54h2M19 54h2M22 54h36M59 54h1M61 54h1M64 54h1M70 54h1M12 53h1M16 53h2M19 53h3M25 53h3M29 53h24M54 53h2M58 53h1M60 53h1M62 53h1M70 53h1M16 52h1M19 52h3M27 52h29M57 52h1M59 52h2M63 52h5M15 51h1M19 51h1M23 51h2M28 51h30M60 51h1M64 51h1M8 50h1M19 50h1M21 50h1M24 50h11M36 50h14M51 50h4M56 50h3M60 50h5M66 50h1M12 49h1M18 49h1M22 49h1M24 49h1M26 49h2M29 49h2M33 49h28M62 49h2M65 49h1M11 48h1M16 48h1M18 48h1M22 48h4M28 48h1M33 48h1M36 48h1M38 48h3M42 48h18M61 48h3M65 48h2M21 47h2M24 47h1M28 47h5M34 47h2M38 47h2M41 47h13M55 47h5M61 47h7M17 46h1M25 46h2M30 46h11M42 46h11M54 46h8M63 46h2M67 46h1M70 46h1M26 45h3M30 45h3M35 45h2M38 45h6M45 45h3M49 45h6M56 45h2M62 45h2M65 45h1M69 45h1M14 44h1M31 44h1M34 44h1M38 44h13M52 44h6M59 44h1M61 44h1M64 44h2M20 43h1M22 43h1M27 43h1M30 43h1M35 43h4M40 43h7M48 43h2M51 43h4M56 43h9M73 43h1M32 42h2M36 42h5M43 42h4M48 42h2M51 42h9M61 42h1M64 42h5M70 42h1M34 41h1M37 41h7M45 41h2M48 41h1M52 41h13M66 41h1M32 40h3M42 40h2M46 40h8M55 40h16M72 40h1M74 40h1M77 40h1M36 39h1M40 39h2M43 39h3M47 39h1M51 39h2M54 39h9M64 39h1M66 39h3M70 39h4M76 39h1M30 38h1M40 38h2M48 38h1M50 38h6M57 38h6M64 38h2M67 38h2M71 38h1M74 38h1M80 38h1M28 37h1M40 37h1M43 37h2M46 37h1M48 37h1M53 37h3M57 37h1M60 37h12M73 37h1M38 36h1M45 36h1M49 36h1M52 36h2M55 36h2M58 36h2M61 36h10M77 36h2M83 36h1M34 35h1M47 35h1M49 35h1M52 35h1M54 35h1M56 35h5M62 35h4M67 35h4M72 35h1M74 35h1M35 34h1M48 34h1M51 34h1M54 34h4M59 34h13M74 34h3M78 34h2M39 33h1M42 33h2M45 33h1M47 33h1M51 33h1M53 33h2M56 33h6M65 33h1M67 33h9M81 33h1M43 32h1M50 32h1M56 32h3M60 32h5M66 32h1M70 32h2M75 32h1M77 32h2M82 32h1M51 31h2M59 31h3M63 31h4M68 31h1M70 31h1M72 31h5M48 30h1M53 30h2M56 30h2M60 30h1M62 30h7M75 30h3M81 30h1M55 29h1M58 29h1M61 29h1M63 29h1M65 29h8M74 29h2M77 29h1M79 29h2M49 28h1M55 28h1M59 28h5M67 28h2M70 28h2M73 28h1M76 28h2M80 28h1M54 27h1M57 27h4M62 27h2M65 27h3M70 27h2M73 27h3M78 27h1M82 27h2M55 26h1M57 26h1M62 26h2M66 26h3M70 26h3M75 26h2M78 26h1M81 26h2M59 25h1M68 25h11M80 25h2M83 25h1M53 24h1M57 24h1M65 24h1M67 24h2M70 24h1M72 24h1M74 24h2M80 24h3M85 24h1M50 23h1M62 23h1M64 23h1M66 23h2M69 23h2M72 23h5M78 23h2M81 23h3M70 22h3M74 22h8M83 22h4M69 21h5M75 21h1M77 21h1M82 21h3M86 21h2M64 20h3M69 20h2M72 20h6M80 20h2M84 20h1M86 20h1M88 20h2M96 20h1M67 19h1M72 19h2M76 19h3M81 19h6M88 19h1M67 18h2M71 18h1M73 18h1M76 18h3M80 18h8M90 18h1M65 17h1M69 17h1M73 17h1M75 17h3M79 17h4M84 17h3M88 17h2M93 17h1M69 16h1M71 16h1M73 16h1M76 16h3M80 16h2M83 16h1M85 16h1M87 16h2M90 16h1M93 16h1M74 15h2M77 15h1M80 15h3M84 15h4M90 15h1M92 15h1M97 15h1M71 14h1M76 14h2M79 14h1M81 14h5M88 14h2M93 14h1M77 13h4M82 13h1M84 13h7M93 13h1M98 13h1M80 12h2M87 12h7M96 12h2M82 11h4M87 11h3M91 11h1M94 11h1M97 11h2M64 10h1M81 10h1M83 10h3M88 10h5M94 10h5M78 9h2M82 9h1M85 9h15M85 8h1M87 8h13M83 7h2M86 7h2M89 7h9M99 7h1M80 6h1M83 6h1M86 6h6M93 6h7M85 5h1M87 5h1M89 5h1M92 5h8M84 4h2M87 4h1M91 4h1M94 4h6M83 3h1M88 3h1M91 3h2M94 3h6M89 2h11M87 1h1M89 1h1M93 1h1M95 1h5" stroke="#1b2c44" stroke-width="1.1" fill="none"/>
<path transform="matrix(1.3751 0 0 1.3791 79.14 252.37)" d="M13 99h7M15 98h6M16 97h6M17 96h5M18 95h5M18 94h5M19 93h4M19 92h4M19 91h3M19 90h4M19 89h4M19 88h4M1 87h1M18 87h5M1 86h1M18 86h5M1 85h2M17 85h5M1 84h3M16 84h6M1 83h1M3 83h2M15 83h6M1 82h6M13 82h7M1 81h18M2 80h16M3 79h14M5 78h10" stroke="#1f3651" stroke-width="1.1" fill="none"/>
<path transform="matrix(1.3751 0 0 1.3791 79.14 252.37)" d="M10 99h3M10 98h5M13 97h3M14 96h3M15 95h3M16 94h2M17 93h2M17 92h2M17 91h2M1 90h2M17 90h2M1 89h2M17 89h2M1 88h2M17 88h2M2 87h2M16 87h2M2 86h3M15 86h3M3 85h3M14 85h3M4 84h3M13 84h3M5 83h10M7 82h6" stroke="#233f5e" stroke-width="1.1" fill="none"/>
<path transform="matrix(1.3751 0 0 1.3791 79.14 252.37)" d="M10 97h3M13 96h1M14 95h1M15 94h1M16 93h1M16 92h1M16 91h1M3 90h1M16 90h1M3 89h1M16 89h1M3 88h1M16 88h1M4 87h1M15 87h1M5 86h1M14 86h1M6 85h1M13 85h1M7 84h6" stroke="#28486a" stroke-width="1.1" fill="none"/>
<path transform="matrix(1.3751 0 0 1.3791 79.14 252.37)" d="M10 96h3M13 95h1M14 94h1M15 93h1M15 92h1M15 91h1M4 90h1M15 90h1M4 89h1M15 89h1M4 88h1M15 88h1M5 87h1M14 87h1M6 86h1M13 86h1M7 85h6" stroke="#2c5277" stroke-width="1.1" fill="none"/>
<path transform="matrix(1.3751 0 0 1.3791 79.14 252.37)" d="M11 95h2M13 94h1M14 93h1M14 92h1M5 89h1M14 89h1M5 88h1M14 88h1M6 87h1M13 87h1M7 86h2M11 86h2" stroke="#305c84" stroke-width="1.1" fill="none"/>
<path transform="matrix(1.3751 0 0 1.3791 79.14 252.37)" d="M10 95h1M12 94h1M13 93h1M14 91h1M5 90h1M14 90h1M6 88h1M13 88h1M7 87h1M12 87h1M9 86h2" stroke="#346591" stroke-width="1.1" fill="none"/>
<path transform="matrix(1.3751 0 0 1.3791 79.14 252.37)" d="M11 94h1M13 92h1M6 89h1M13 89h1M8 87h1M11 87h1" stroke="#386e9e" stroke-width="1.1" fill="none"/>
<path transform="matrix(1.3751 0 0 1.3791 79.14 252.37)" d="M10 94h1M12 93h1M13 91h1M6 90h1M13 90h1M7 88h1M12 88h1M9 87h2" stroke="#3d78aa" stroke-width="1.1" fill="none"/>
<path transform="matrix(1.3751 0 0 1.3791 79.14 252.37)" d="M11 93h1M12 92h1M7 89h1M12 89h1M8 88h1M11 88h1" stroke="#4182b7" stroke-width="1.1" fill="none"/>
<path transform="matrix(1.3751 0 0 1.3791 79.14 252.37)" d="M10 93h1M12 91h1M7 90h1M12 90h1M9 88h2" stroke="#458bc4" stroke-width="1.1" fill="none"/>
<path transform="matrix(1.3751 0 0 1.3791 79.14 252.37)" d="M11 92h1M8 89h1M11 89h1" stroke="#4994d1" stroke-width="1.1" fill="none"/>
<path transform="matrix(1.3751 0 0 1.3791 79.14 252.37)" d="M10 92h1M11 91h1M8 90h1M11 90h1M9 89h2" stroke="#4e9edd" stroke-width="1.1" fill="none"/>
<path transform="matrix(1.3751 0 0 1.3791 79.14 252.37)" d="M10 91h1M9 90h2" stroke="#52a8ea" stroke-width="1.1" fill="none"/>
<path d="M79.4 390.7L218.3 251.4" stroke="#e23c26" stroke-width="1" fill="none"/>
<path d="M79.4 362.8L190.5 251.4M107.2 390.7L218.3 279.3" stroke="#e23c26" stroke-width="0.95" fill="none" stroke-dasharray="4.5 3.5"/>
<text x="69.6" y="394.5" font-size="9.7" text-anchor="end" fill="#2a2a2a" stroke="#2a2a2a" stroke-width="0.22">0</text>
<text x="78.5" y="409.2" font-size="9.7" text-anchor="middle" fill="#2a2a2a" stroke="#2a2a2a" stroke-width="0.22">0</text>
<text x="69.6" y="366.6" font-size="9.7" text-anchor="end" fill="#2a2a2a" stroke="#2a2a2a" stroke-width="0.22">20</text>
<text x="105.4" y="409.2" font-size="9.7" text-anchor="middle" fill="#2a2a2a" stroke="#2a2a2a" stroke-width="0.22">20</text>
<text x="69.6" y="338.7" font-size="9.7" text-anchor="end" fill="#2a2a2a" stroke="#2a2a2a" stroke-width="0.22">40</text>
<text x="132.9" y="409.2" font-size="9.7" text-anchor="middle" fill="#2a2a2a" stroke="#2a2a2a" stroke-width="0.22">40</text>
<text x="69.6" y="310.9" font-size="9.7" text-anchor="end" fill="#2a2a2a" stroke="#2a2a2a" stroke-width="0.22">60</text>
<text x="161.9" y="409.2" font-size="9.7" text-anchor="middle" fill="#2a2a2a" stroke="#2a2a2a" stroke-width="0.22">60</text>
<text x="69.6" y="283" font-size="9.7" text-anchor="end" fill="#2a2a2a" stroke="#2a2a2a" stroke-width="0.22">80</text>
<text x="189.5" y="409.2" font-size="9.7" text-anchor="middle" fill="#2a2a2a" stroke="#2a2a2a" stroke-width="0.22">80</text>
<text x="69.6" y="255.1" font-size="9.7" text-anchor="end" fill="#2a2a2a" stroke="#2a2a2a" stroke-width="0.22">100</text>
<text x="216.8" y="409.2" font-size="9.7" text-anchor="middle" fill="#2a2a2a" stroke="#2a2a2a" stroke-width="0.22">100</text>
<text x="48.5" y="320.4" font-size="9.9" text-anchor="middle" fill="#1a1a1a" transform="rotate(-90 48.5 320.4)" stroke="#1a1a1a" stroke-width="0.22">Untreated m6a (%)</text>
<text x="142" y="428.3" font-size="9.9" text-anchor="middle" fill="#1a1a1a" stroke="#1a1a1a" stroke-width="0.22">FB232 m6a (%)</text>
<text x="100.8" y="269.6" font-size="7.4" text-anchor="middle" font-weight="bold" fill="#e23c26" stroke="#e23c26" stroke-width="0.22">250</text>
<text x="175.7" y="383.4" font-size="7.4" text-anchor="middle" font-weight="bold" fill="#e23c26" stroke="#e23c26" stroke-width="0.22">356</text>
<text x="101.7" y="361" font-size="7.8" text-anchor="middle" fill="#f4f4f4" transform="rotate(-45 101.7 361)" stroke="#f4f4f4" stroke-width="0.22">25708</text>
<text x="111.1" y="370.9" font-size="7.8" text-anchor="middle" fill="#f4f4f4" transform="rotate(-45 111.1 370.9)" stroke="#f4f4f4" stroke-width="0.22">28196</text>
<rect x="201.3" y="339.6" width="7.7" height="39.4" fill="url(#cg)" />
<text x="201" y="336.8" font-size="5.2" fill="#333" stroke="#333" stroke-width="0.22">count</text>
<text x="211" y="344.9" font-size="4.6" fill="#333" stroke="#333" stroke-width="0.22">600</text>
<text x="211" y="357.2" font-size="4.6" fill="#333" stroke="#333" stroke-width="0.22">400</text>
<text x="211" y="369.5" font-size="4.6" fill="#333" stroke="#333" stroke-width="0.22">200</text>
<path d="M201.3 343.3h1.6M209 343.3h-1.6M201.3 355.6h1.6M209 355.6h-1.6M201.3 367.9h1.6M209 367.9h-1.6" stroke="#fff" stroke-width="0.5"/>
<path d="M297.1 245.4V398.1M290.1 391.2H443.4M311 245.4V398.1M290.1 377.3H443.4M325 245.4V398.1M290.1 363.4H443.4M338.9 245.4V398.1M290.1 349.5H443.4M352.8 245.4V398.1M290.1 335.6H443.4M366.8 245.4V398.1M290.1 321.8H443.4M380.7 245.4V398.1M290.1 307.9H443.4M394.6 245.4V398.1M290.1 294H443.4M408.5 245.4V398.1M290.1 280.1H443.4M422.5 245.4V398.1M290.1 266.2H443.4M436.4 245.4V398.1M290.1 252.3H443.4" stroke="#efefef" stroke-width="0.8" fill="none"/>
<path transform="matrix(1.3791 0 0 1.3751 296.84 253.27)" d="M10 99h30M42 99h1M46 99h1M58 99h1M10 98h31M42 98h2M10 97h34M46 97h1M48 97h1M52 97h1M55 97h1M75 97h1M10 96h35M48 96h1M10 95h34M46 95h1M48 95h2M56 95h1M10 94h31M42 94h4M48 94h2M55 94h2M59 94h1M10 93h35M48 93h1M51 93h3M57 93h1M60 93h1M10 92h41M10 91h37M50 91h1M1 90h46M50 90h1M58 90h2M1 89h44M46 89h2M49 89h2M1 88h48M51 88h3M1 87h52M54 87h1M73 87h1M1 86h53M66 86h1M1 85h52M54 85h3M60 85h1M1 84h51M59 84h1M61 84h1M65 84h1M1 83h52M54 83h1M69 83h1M1 82h51M59 82h1M63 82h1M77 82h1M1 81h53M56 81h1M58 81h1M62 81h1M1 80h54M56 80h4M1 79h53M55 79h2M61 79h1M1 78h52M54 78h1M56 78h4M1 77h55M57 77h2M1 76h58M62 76h1M1 75h55M58 75h2M64 75h1M1 74h53M55 74h1M57 74h2M60 74h1M64 74h1M1 73h56M58 73h2M62 73h1M71 73h1M73 73h1M1 72h56M58 72h2M61 72h1M67 72h1M1 71h56M61 71h1M63 71h1M1 70h58M1 69h61M63 69h2M66 69h1M1 68h58M62 68h1M65 68h2M69 68h1M1 67h62M64 67h1M67 67h3M71 67h1M1 66h2M4 66h55M60 66h1M62 66h1M67 66h3M1 65h59M62 65h1M64 65h1M67 65h1M74 65h1M1 64h1M4 64h53M58 64h10M1 63h62M66 63h1M69 63h1M72 63h1M79 63h1M3 62h62M66 62h1M83 62h1M2 61h1M4 61h5M10 61h54M65 61h3M71 61h1M74 61h1M1 60h1M3 60h1M6 60h1M8 60h2M11 60h52M65 60h2M73 60h1M78 60h1M82 60h1M9 59h1M11 59h1M14 59h51M66 59h1M70 59h1M1 58h1M6 58h2M10 58h2M13 58h53M67 58h1M72 58h1M74 58h1M79 58h1M1 57h1M5 57h1M8 57h2M11 57h56M69 57h2M77 57h1M83 57h1M2 56h3M7 56h1M9 56h2M12 56h3M16 56h49M69 56h1M81 56h1M7 55h3M12 55h53M66 55h1M68 55h2M72 55h1M74 55h1M9 54h3M13 54h3M17 54h1M20 54h49M70 54h1M9 53h1M11 53h1M16 53h1M18 53h1M20 53h48M69 53h1M71 53h1M80 53h1M4 52h1M8 52h1M15 52h3M20 52h1M22 52h45M69 52h2M73 52h1M5 51h1M15 51h2M19 51h3M24 51h45M70 51h3M81 51h1M89 51h1M11 50h1M18 50h3M23 50h2M26 50h45M77 50h1M83 50h1M88 50h1M5 49h1M12 49h1M17 49h1M19 49h4M26 49h1M28 49h42M72 49h2M79 49h1M13 48h2M18 48h1M20 48h1M25 48h1M27 48h1M29 48h3M33 48h38M72 48h5M79 48h1M12 47h1M25 47h1M29 47h45M78 47h1M3 46h1M14 46h2M19 46h1M22 46h1M24 46h3M29 46h47M77 46h3M83 46h2M21 45h1M24 45h1M27 45h4M33 45h45M80 45h1M82 45h1M95 45h1M21 44h3M26 44h3M30 44h1M32 44h42M76 44h1M81 44h1M18 43h1M24 43h2M28 43h1M30 43h2M33 43h1M35 43h40M76 43h1M79 43h1M93 43h1M24 42h1M27 42h1M32 42h1M34 42h3M38 42h37M77 42h1M81 42h1M83 42h1M25 41h2M31 41h1M33 41h46M81 41h2M90 41h1M19 40h1M22 40h1M30 40h1M32 40h1M35 40h42M79 40h2M84 40h2M98 40h1M36 39h2M40 39h38M80 39h1M82 39h2M86 39h1M19 38h1M27 38h1M32 38h1M35 38h1M37 38h4M42 38h39M84 38h1M88 38h2M20 37h1M34 37h3M40 37h3M44 37h34M82 37h1M91 37h1M23 36h1M30 36h1M36 36h2M39 36h2M45 36h35M81 36h1M83 36h2M88 36h1M92 36h1M29 35h1M36 35h1M40 35h2M46 35h39M88 35h1M90 35h1M36 34h1M41 34h5M48 34h37M86 34h1M89 34h1M92 34h1M95 34h1M27 33h1M31 33h1M33 33h3M39 33h1M44 33h1M48 33h2M51 33h31M83 33h1M86 33h2M92 33h1M32 32h1M41 32h1M44 32h1M46 32h4M51 32h34M86 32h1M92 32h1M94 32h1M97 32h1M40 31h1M46 31h2M50 31h37M95 31h1M97 31h1M31 30h1M38 30h1M40 30h1M48 30h40M90 30h2M94 30h1M23 29h1M35 29h1M42 29h1M48 29h1M52 29h36M90 29h1M93 29h1M95 29h1M33 28h1M38 28h1M47 28h1M52 28h36M91 28h1M98 28h2M46 27h1M51 27h1M54 27h36M91 27h2M34 26h1M36 26h1M46 26h1M50 26h1M59 26h29M90 26h1M98 26h1M46 25h1M53 25h2M57 25h2M60 25h30M91 25h2M97 25h1M34 24h1M50 24h1M55 24h1M57 24h33M91 24h1M52 23h1M56 23h1M59 23h3M63 23h28M57 22h1M59 22h33M96 22h3M55 21h1M59 21h34M95 21h1M97 21h1M42 20h1M53 20h1M55 20h1M57 20h1M61 20h1M63 20h3M67 20h25M93 20h3M98 20h1M38 19h1M54 19h1M56 19h1M58 19h2M61 19h1M63 19h3M67 19h26M94 19h1M96 19h3M49 18h1M58 18h1M60 18h4M65 18h35M53 17h1M55 17h1M58 17h1M63 17h33M99 17h1M61 16h2M66 16h5M72 16h25M98 16h1M40 15h1M56 15h1M58 15h2M63 15h2M66 15h31M68 14h2M71 14h1M75 14h25M49 13h1M53 13h2M67 13h1M73 13h26M60 12h1M71 12h1M73 12h1M76 12h23M69 11h1M72 11h1M76 11h24M66 10h2M72 10h2M75 10h25M15 9h1M71 9h2M77 9h23M59 8h2M74 8h2M81 8h19M67 7h1M74 7h2M78 7h1M80 7h20M56 6h1M70 6h1M75 6h1M81 6h19M71 5h1M79 5h2M82 5h18M77 4h1M79 4h2M82 4h18M63 3h1M67 3h1M84 3h16M80 2h3M85 2h1M88 2h12M75 1h1M79 1h1M87 1h13" stroke="#1b2c44" stroke-width="1.1" fill="none"/>
<path transform="matrix(1.3791 0 0 1.3751 296.84 253.27)" d="M13 99h7M15 98h6M16 97h6M17 96h5M18 95h5M18 94h5M19 93h4M19 92h4M19 91h4M19 90h4M19 89h4M19 88h4M1 87h1M18 87h5M1 86h1M18 86h5M1 85h2M17 85h5M1 84h3M16 84h6M1 83h4M15 83h6M1 82h6M13 82h7M1 81h18M2 80h16M3 79h14M5 78h10M95 6h3M94 5h6M94 4h2M99 4h1M94 3h2M95 2h1M95 1h2" stroke="#1f3651" stroke-width="1.1" fill="none"/>
<path transform="matrix(1.3791 0 0 1.3751 296.84 253.27)" d="M10 99h3M10 98h5M13 97h3M14 96h3M15 95h3M16 94h2M17 93h2M17 92h2M17 91h2M1 90h2M17 90h2M1 89h2M17 89h2M1 88h2M17 88h2M2 87h2M16 87h2M2 86h3M15 86h3M3 85h3M14 85h3M4 84h3M13 84h3M5 83h10M7 82h6M96 4h3M96 3h1M96 2h1" stroke="#233f5e" stroke-width="1.1" fill="none"/>
<path transform="matrix(1.3791 0 0 1.3751 296.84 253.27)" d="M10 97h3M13 96h1M14 95h1M15 94h1M16 93h1M16 92h1M16 91h1M3 90h1M16 90h1M3 89h1M16 89h1M3 88h1M16 88h1M4 87h1M15 87h1M5 86h1M14 86h1M6 85h1M13 85h1M7 84h6M97 3h3M97 2h1M97 1h1" stroke="#28486a" stroke-width="1.1" fill="none"/>
<path transform="matrix(1.3791 0 0 1.3751 296.84 253.27)" d="M10 96h3M13 95h1M14 94h1M15 93h1M15 92h1M15 91h1M4 90h1M15 90h1M4 89h1M15 89h1M4 88h1M15 88h1M5 87h1M14 87h1M6 86h1M13 86h1M7 85h6M98 2h2M98 1h2" stroke="#2c5277" stroke-width="1.1" fill="none"/>
<path transform="matrix(1.3791 0 0 1.3751 296.84 253.27)" d="M11 95h2M13 94h1M14 93h1M14 92h1M5 89h1M14 89h1M5 88h1M14 88h1M6 87h1M13 87h1M7 86h2M11 86h2" stroke="#305c84" stroke-width="1.1" fill="none"/>
<path transform="matrix(1.3791 0 0 1.3751 296.84 253.27)" d="M10 95h1M12 94h1M13 93h1M14 91h1M5 90h1M14 90h1M6 88h1M13 88h1M7 87h1M12 87h1M9 86h2" stroke="#346591" stroke-width="1.1" fill="none"/>
<path transform="matrix(1.3791 0 0 1.3751 296.84 253.27)" d="M11 94h1M13 92h1M6 89h1M13 89h1M8 87h1M11 87h1" stroke="#386e9e" stroke-width="1.1" fill="none"/>
<path transform="matrix(1.3791 0 0 1.3751 296.84 253.27)" d="M10 94h1M12 93h1M13 91h1M6 90h1M13 90h1M7 88h1M12 88h1M9 87h2" stroke="#3d78aa" stroke-width="1.1" fill="none"/>
<path transform="matrix(1.3791 0 0 1.3751 296.84 253.27)" d="M11 93h1M12 92h1M7 89h1M12 89h1M8 88h1M11 88h1" stroke="#4182b7" stroke-width="1.1" fill="none"/>
<path transform="matrix(1.3791 0 0 1.3751 296.84 253.27)" d="M10 93h1M12 91h1M7 90h1M12 90h1M9 88h2" stroke="#458bc4" stroke-width="1.1" fill="none"/>
<path transform="matrix(1.3791 0 0 1.3751 296.84 253.27)" d="M11 92h1M8 89h1M11 89h1" stroke="#4994d1" stroke-width="1.1" fill="none"/>
<path transform="matrix(1.3791 0 0 1.3751 296.84 253.27)" d="M10 92h1M11 91h1M8 90h1M11 90h1M9 89h2" stroke="#4e9edd" stroke-width="1.1" fill="none"/>
<path transform="matrix(1.3791 0 0 1.3751 296.84 253.27)" d="M10 91h1M9 90h2" stroke="#52a8ea" stroke-width="1.1" fill="none"/>
<path d="M297.1 391.2L436.4 252.3" stroke="#e23c26" stroke-width="1" fill="none"/>
<path d="M297.1 363.4L408.5 252.3M325 391.2L436.4 280.1" stroke="#e23c26" stroke-width="0.95" fill="none" stroke-dasharray="4.5 3.5"/>
<text x="288.1" y="395.4" font-size="9.7" text-anchor="end" fill="#2a2a2a" stroke="#2a2a2a" stroke-width="0.22">0</text>
<text x="296.5" y="409.9" font-size="9.7" text-anchor="middle" fill="#2a2a2a" stroke="#2a2a2a" stroke-width="0.22">0</text>
<text x="288.1" y="367.4" font-size="9.7" text-anchor="end" fill="#2a2a2a" stroke="#2a2a2a" stroke-width="0.22">20</text>
<text x="326.9" y="408.7" font-size="9.7" text-anchor="middle" fill="#2a2a2a" stroke="#2a2a2a" stroke-width="0.22">20</text>
<text x="288.1" y="339.5" font-size="9.7" text-anchor="end" fill="#2a2a2a" stroke="#2a2a2a" stroke-width="0.22">40</text>
<text x="354.9" y="408.7" font-size="9.7" text-anchor="middle" fill="#2a2a2a" stroke="#2a2a2a" stroke-width="0.22">40</text>
<text x="288.1" y="311.5" font-size="9.7" text-anchor="end" fill="#2a2a2a" stroke="#2a2a2a" stroke-width="0.22">60</text>
<text x="381.8" y="408.7" font-size="9.7" text-anchor="middle" fill="#2a2a2a" stroke="#2a2a2a" stroke-width="0.22">60</text>
<text x="288.1" y="283.6" font-size="9.7" text-anchor="end" fill="#2a2a2a" stroke="#2a2a2a" stroke-width="0.22">80</text>
<text x="409.3" y="408.7" font-size="9.7" text-anchor="middle" fill="#2a2a2a" stroke="#2a2a2a" stroke-width="0.22">80</text>
<text x="288.1" y="255.6" font-size="9.7" text-anchor="end" fill="#2a2a2a" stroke="#2a2a2a" stroke-width="0.22">100</text>
<text x="437.8" y="408.7" font-size="9.7" text-anchor="middle" fill="#2a2a2a" stroke="#2a2a2a" stroke-width="0.22">100</text>
<text x="271" y="324.3" font-size="9.9" text-anchor="middle" fill="#1a1a1a" transform="rotate(-90 271 324.3)" stroke="#1a1a1a" stroke-width="0.22">Untreated m6a (%)</text>
<text x="371" y="427.7" font-size="9.9" text-anchor="middle" fill="#1a1a1a" stroke="#1a1a1a" stroke-width="0.22">FB232 m6a (%)</text>
<text x="320.7" y="275.4" font-size="7.4" text-anchor="middle" font-weight="bold" fill="#e23c26" stroke="#e23c26" stroke-width="0.22">2479</text>
<text x="395.8" y="387.1" font-size="7.4" text-anchor="middle" font-weight="bold" fill="#e23c26" stroke="#e23c26" stroke-width="0.22">3165</text>
<text x="322.8" y="358.8" font-size="7.8" text-anchor="middle" fill="#f4f4f4" transform="rotate(-45 322.8 358.8)" stroke="#f4f4f4" stroke-width="0.22">250463</text>
<text x="331.6" y="367.6" font-size="7.8" text-anchor="middle" fill="#f4f4f4" transform="rotate(-45 331.6 367.6)" stroke="#f4f4f4" stroke-width="0.22">273058</text>
<rect x="418" y="341.8" width="8.2" height="40.5" fill="url(#cg)" />
<text x="417.7" y="339" font-size="5.2" fill="#333" stroke="#333" stroke-width="0.22">count</text>
<text x="428" y="347.1" font-size="4.6" fill="#333" stroke="#333" stroke-width="0.22">6000</text>
<text x="428" y="359.4" font-size="4.6" fill="#333" stroke="#333" stroke-width="0.22">4000</text>
<text x="428" y="371.6" font-size="4.6" fill="#333" stroke="#333" stroke-width="0.22">2000</text>
<path d="M418 345.5h1.6M426.2 345.5h-1.6M418 357.8h1.6M426.2 357.8h-1.6M418 370h1.6M426.2 370h-1.6" stroke="#fff" stroke-width="0.5"/>
<path d="M515.1 249.5V400.7M508.2 393.8H659.6M528.9 249.5V400.7M508.2 380.1H659.6M542.6 249.5V400.7M508.2 366.3H659.6M556.4 249.5V400.7M508.2 352.6H659.6M570.1 249.5V400.7M508.2 338.8H659.6M583.9 249.5V400.7M508.2 325.1H659.6M597.7 249.5V400.7M508.2 311.4H659.6M611.4 249.5V400.7M508.2 297.6H659.6M625.2 249.5V400.7M508.2 283.9H659.6M638.9 249.5V400.7M508.2 270.1H659.6M652.7 249.5V400.7M508.2 256.4H659.6" stroke="#efefef" stroke-width="0.8" fill="none"/>
<path transform="matrix(1.3622 0 0 1.3603 514.84 257.35)" d="M10 99h32M43 99h2M54 99h1M10 98h32M44 98h2M47 98h2M50 98h1M55 98h1M10 97h35M46 97h3M10 96h34M45 96h1M47 96h2M50 96h1M10 95h37M54 95h1M56 95h1M10 94h36M47 94h1M50 94h1M71 94h1M10 93h36M47 93h2M66 93h1M10 92h37M49 92h1M51 92h1M59 92h1M10 91h35M46 91h4M55 91h1M1 90h45M47 90h2M50 90h2M57 90h1M60 90h1M62 90h1M1 89h45M47 89h2M50 89h3M1 88h47M50 88h2M1 87h46M48 87h3M57 87h1M1 86h51M53 86h2M1 85h49M51 85h2M55 85h2M64 85h1M1 84h49M52 84h3M74 84h1M1 83h49M51 83h2M60 83h1M1 82h54M1 81h55M57 81h3M61 81h1M1 80h55M58 80h1M61 80h1M65 80h1M70 80h1M1 79h56M67 79h1M1 78h55M57 78h2M1 77h53M56 77h1M60 77h1M1 76h54M56 76h2M61 76h1M67 76h1M1 75h54M57 75h4M1 74h57M59 74h1M61 74h1M64 74h2M1 73h54M56 73h2M62 73h1M64 73h1M67 73h2M1 72h59M61 72h1M1 71h59M61 71h2M66 71h1M1 70h57M60 70h2M63 70h2M75 70h1M1 69h59M61 69h2M64 69h1M77 69h1M1 68h61M63 68h3M69 68h1M1 67h62M70 67h2M1 66h58M60 66h6M1 65h60M62 65h1M64 65h1M67 65h1M70 65h1M72 65h1M1 64h59M62 64h1M64 64h1M68 64h1M1 63h63M69 63h1M1 62h66M71 62h1M78 62h1M2 61h61M64 61h2M68 61h2M1 60h67M71 60h2M74 60h1M1 59h1M4 59h67M73 59h1M75 59h1M78 59h1M1 58h4M6 58h61M68 58h1M75 58h1M2 57h3M6 57h5M12 57h56M69 57h1M73 57h2M1 56h9M11 56h60M78 56h1M2 55h2M7 55h58M66 55h2M2 54h1M7 54h1M9 54h3M13 54h55M69 54h1M6 53h4M14 53h2M18 53h53M87 53h1M1 52h1M3 52h1M7 52h1M10 52h1M12 52h1M14 52h3M18 52h51M71 52h3M15 51h1M17 51h51M72 51h1M8 50h2M21 50h46M68 50h2M71 50h1M76 50h1M82 50h1M9 49h1M11 49h2M15 49h1M17 49h1M22 49h51M75 49h1M79 49h1M83 49h1M4 48h1M11 48h1M16 48h1M21 48h4M27 48h42M70 48h1M73 48h1M75 48h1M78 48h1M80 48h1M4 47h1M8 47h1M15 47h1M18 47h1M21 47h1M30 47h46M82 47h1M2 46h1M10 46h1M14 46h1M16 46h1M18 46h1M23 46h3M27 46h1M29 46h1M31 46h39M71 46h1M73 46h4M8 45h1M11 45h1M18 45h2M24 45h1M26 45h45M72 45h1M74 45h1M76 45h3M88 45h1M20 44h1M24 44h1M27 44h1M29 44h1M32 44h41M78 44h1M82 44h1M1 43h1M7 43h1M22 43h1M27 43h1M29 43h1M34 43h44M81 43h1M83 43h1M86 43h1M90 43h1M11 42h1M16 42h1M20 42h1M23 42h1M31 42h2M35 42h1M37 42h1M39 42h35M75 42h4M80 42h2M83 42h1M17 41h1M29 41h1M32 41h4M37 41h41M80 41h1M82 41h1M23 40h1M26 40h1M33 40h2M36 40h1M38 40h39M78 40h1M23 39h1M27 39h1M29 39h1M31 39h1M36 39h2M39 39h1M41 39h36M78 39h2M82 39h1M18 38h2M29 38h2M34 38h3M38 38h1M41 38h44M87 38h1M94 38h1M16 37h1M32 37h1M40 37h1M42 37h1M44 37h1M46 37h32M80 37h1M83 37h1M86 37h1M21 36h1M25 36h1M30 36h1M33 36h1M36 36h3M40 36h3M44 36h37M83 36h1M85 36h1M87 36h1M90 36h1M30 35h1M39 35h1M47 35h37M85 35h1M90 35h1M24 34h1M26 34h1M30 34h1M34 34h1M40 34h2M45 34h2M48 34h33M82 34h2M87 34h1M25 33h1M29 33h1M35 33h2M38 33h1M41 33h1M43 33h2M48 33h33M82 33h3M87 33h1M91 33h1M96 33h1M24 32h1M36 32h1M39 32h1M44 32h3M48 32h1M50 32h33M84 32h2M89 32h4M39 31h1M41 31h1M43 31h1M45 31h1M47 31h1M50 31h34M85 31h1M89 31h3M36 30h1M41 30h1M49 30h1M51 30h1M54 30h32M88 30h2M92 30h1M27 29h1M40 29h2M43 29h1M46 29h1M48 29h1M50 29h1M54 29h31M86 29h1M88 29h2M94 29h1M50 28h1M55 28h1M57 28h28M86 28h2M90 28h2M93 28h1M31 27h1M37 27h1M46 27h1M48 27h2M52 27h2M58 27h31M90 27h1M92 27h1M48 26h1M53 26h1M56 26h31M88 26h1M90 26h1M92 26h1M24 25h1M37 25h1M43 25h1M50 25h1M52 25h1M54 25h3M58 25h1M60 25h29M91 25h1M1 24h1M40 24h2M44 24h2M51 24h3M55 24h1M57 24h33M93 24h3M40 23h1M48 23h3M54 23h2M58 23h3M62 23h27M91 23h2M94 23h2M97 23h1M99 23h1M33 22h1M50 22h1M53 22h2M56 22h1M58 22h2M61 22h30M92 22h1M42 21h1M47 21h1M51 21h1M56 21h1M59 21h1M62 21h28M92 21h3M39 20h1M53 20h1M55 20h2M62 20h2M65 20h27M94 20h3M41 19h1M49 19h1M56 19h2M66 19h29M96 19h1M99 19h1M49 18h2M56 18h1M60 18h1M62 18h1M65 18h4M70 18h24M98 18h2M39 17h1M60 17h1M64 17h3M69 17h1M71 17h22M94 17h1M36 16h1M62 16h1M65 16h1M67 16h28M98 16h1M49 15h1M58 15h2M68 15h2M72 15h22M96 15h2M58 14h1M65 14h1M71 14h27M99 14h1M38 13h1M62 13h1M65 13h1M67 13h2M71 13h26M98 13h1M49 12h1M55 12h1M68 12h1M70 12h1M72 12h27M54 11h1M58 11h1M61 11h1M66 11h2M71 11h1M75 11h1M77 11h22M68 10h1M74 10h2M77 10h23M63 9h1M72 9h1M74 9h5M80 9h20M63 8h1M73 8h1M79 8h21M75 7h2M80 7h2M83 7h17M61 6h1M74 6h1M77 6h1M81 6h19M63 5h1M77 5h2M81 5h2M85 5h15M68 4h2M76 4h1M78 4h1M82 4h4M87 4h13M80 3h1M85 3h1M87 3h2M90 3h10M63 2h1M71 2h1M74 2h1M82 2h2M88 2h12M82 1h1M87 1h1M89 1h2M92 1h8" stroke="#1b2c44" stroke-width="1.1" fill="none"/>
<path transform="matrix(1.3622 0 0 1.3603 514.84 257.35)" d="M13 99h7M15 98h6M16 97h6M17 96h5M18 95h5M18 94h5M19 93h4M19 92h4M19 91h4M19 90h4M19 89h4M19 88h4M1 87h1M18 87h5M1 86h1M18 86h5M1 85h2M17 85h5M1 84h3M16 84h6M1 83h4M15 83h6M1 82h6M13 82h7M1 81h18M2 80h16M3 79h14M5 78h10M95 6h3M94 5h6M94 4h2M99 4h1M94 3h2M95 2h1M95 1h2" stroke="#1f3651" stroke-width="1.1" fill="none"/>
<path transform="matrix(1.3622 0 0 1.3603 514.84 257.35)" d="M10 99h3M10 98h5M13 97h3M14 96h3M15 95h3M16 94h2M17 93h2M17 92h2M17 91h2M1 90h2M17 90h2M1 89h2M17 89h2M1 88h2M17 88h2M2 87h2M16 87h2M2 86h3M15 86h3M3 85h3M14 85h3M4 84h3M13 84h3M5 83h10M7 82h6M96 4h3M96 3h1M96 2h1" stroke="#233f5e" stroke-width="1.1" fill="none"/>
<path transform="matrix(1.3622 0 0 1.3603 514.84 257.35)" d="M10 97h3M13 96h1M14 95h1M15 94h1M16 93h1M16 92h1M16 91h1M3 90h1M16 90h1M3 89h1M16 89h1M3 88h1M16 88h1M4 87h1M15 87h1M5 86h1M14 86h1M6 85h1M13 85h1M7 84h6M97 3h3M97 2h1M97 1h1" stroke="#28486a" stroke-width="1.1" fill="none"/>
<path transform="matrix(1.3622 0 0 1.3603 514.84 257.35)" d="M10 96h3M13 95h1M14 94h1M15 93h1M15 92h1M15 91h1M4 90h1M15 90h1M4 89h1M15 89h1M4 88h1M15 88h1M5 87h1M14 87h1M6 86h1M13 86h1M7 85h6M98 2h2M98 1h2" stroke="#2c5277" stroke-width="1.1" fill="none"/>
<path transform="matrix(1.3622 0 0 1.3603 514.84 257.35)" d="M11 95h2M13 94h1M14 93h1M14 92h1M5 89h1M14 89h1M5 88h1M14 88h1M6 87h1M13 87h1M7 86h2M11 86h2" stroke="#305c84" stroke-width="1.1" fill="none"/>
<path transform="matrix(1.3622 0 0 1.3603 514.84 257.35)" d="M10 95h1M12 94h1M13 93h1M14 91h1M5 90h1M14 90h1M6 88h1M13 88h1M7 87h1M12 87h1M9 86h2" stroke="#346591" stroke-width="1.1" fill="none"/>
<path transform="matrix(1.3622 0 0 1.3603 514.84 257.35)" d="M11 94h1M13 92h1M6 89h1M13 89h1M8 87h1M11 87h1" stroke="#386e9e" stroke-width="1.1" fill="none"/>
<path transform="matrix(1.3622 0 0 1.3603 514.84 257.35)" d="M10 94h1M12 93h1M13 91h1M6 90h1M13 90h1M7 88h1M12 88h1M9 87h2" stroke="#3d78aa" stroke-width="1.1" fill="none"/>
<path transform="matrix(1.3622 0 0 1.3603 514.84 257.35)" d="M11 93h1M12 92h1M7 89h1M12 89h1M8 88h1M11 88h1" stroke="#4182b7" stroke-width="1.1" fill="none"/>
<path transform="matrix(1.3622 0 0 1.3603 514.84 257.35)" d="M10 93h1M12 91h1M7 90h1M12 90h1M9 88h2" stroke="#458bc4" stroke-width="1.1" fill="none"/>
<path transform="matrix(1.3622 0 0 1.3603 514.84 257.35)" d="M11 92h1M8 89h1M11 89h1" stroke="#4994d1" stroke-width="1.1" fill="none"/>
<path transform="matrix(1.3622 0 0 1.3603 514.84 257.35)" d="M10 92h1M11 91h1M8 90h1M11 90h1M9 89h2" stroke="#4e9edd" stroke-width="1.1" fill="none"/>
<path transform="matrix(1.3622 0 0 1.3603 514.84 257.35)" d="M10 91h1M9 90h2" stroke="#52a8ea" stroke-width="1.1" fill="none"/>
<path d="M515.1 393.8L652.7 256.4" stroke="#e23c26" stroke-width="1" fill="none"/>
<path d="M515.1 366.3L625.2 256.4M542.6 393.8L652.7 283.9" stroke="#e23c26" stroke-width="0.95" fill="none" stroke-dasharray="4.5 3.5"/>
<text x="504.6" y="400.3" font-size="9.7" text-anchor="end" fill="#2a2a2a" stroke="#2a2a2a" stroke-width="0.22">0</text>
<text x="512.2" y="411.9" font-size="9.7" text-anchor="middle" fill="#2a2a2a" stroke="#2a2a2a" stroke-width="0.22">0</text>
<text x="504.6" y="372.5" font-size="9.7" text-anchor="end" fill="#2a2a2a" stroke="#2a2a2a" stroke-width="0.22">20</text>
<text x="538.6" y="411.9" font-size="9.7" text-anchor="middle" fill="#2a2a2a" stroke="#2a2a2a" stroke-width="0.22">20</text>
<text x="504.6" y="344.6" font-size="9.7" text-anchor="end" fill="#2a2a2a" stroke="#2a2a2a" stroke-width="0.22">40</text>
<text x="565.4" y="411.9" font-size="9.7" text-anchor="middle" fill="#2a2a2a" stroke="#2a2a2a" stroke-width="0.22">40</text>
<text x="504.6" y="316.8" font-size="9.7" text-anchor="end" fill="#2a2a2a" stroke="#2a2a2a" stroke-width="0.22">60</text>
<text x="593.2" y="411.9" font-size="9.7" text-anchor="middle" fill="#2a2a2a" stroke="#2a2a2a" stroke-width="0.22">60</text>
<text x="504.6" y="288.9" font-size="9.7" text-anchor="end" fill="#2a2a2a" stroke="#2a2a2a" stroke-width="0.22">80</text>
<text x="620.8" y="411.9" font-size="9.7" text-anchor="middle" fill="#2a2a2a" stroke="#2a2a2a" stroke-width="0.22">80</text>
<text x="504.6" y="261.1" font-size="9.7" text-anchor="end" fill="#2a2a2a" stroke="#2a2a2a" stroke-width="0.22">100</text>
<text x="649.3" y="411.9" font-size="9.7" text-anchor="middle" fill="#2a2a2a" stroke="#2a2a2a" stroke-width="0.22">100</text>
<text x="486" y="326" font-size="9.9" text-anchor="middle" fill="#1a1a1a" transform="rotate(-90 486 326)" stroke="#1a1a1a" stroke-width="0.22">Untreated m6a (%)</text>
<text x="583" y="429.8" font-size="9.9" text-anchor="middle" fill="#1a1a1a" stroke="#1a1a1a" stroke-width="0.22">FB232 m6a (%)</text>
<text x="534.7" y="278.3" font-size="7.4" text-anchor="middle" font-weight="bold" fill="#e23c26" stroke="#e23c26" stroke-width="0.22">2036</text>
<text x="614.7" y="382.3" font-size="7.4" text-anchor="middle" font-weight="bold" fill="#e23c26" stroke="#e23c26" stroke-width="0.22">2448</text>
<text x="541.8" y="362.8" font-size="7.8" text-anchor="middle" fill="#f4f4f4" transform="rotate(-45 541.8 362.8)" stroke="#f4f4f4" stroke-width="0.22">203739</text>
<text x="549.4" y="372.6" font-size="7.8" text-anchor="middle" fill="#f4f4f4" transform="rotate(-45 549.4 372.6)" stroke="#f4f4f4" stroke-width="0.22">216130</text>
<rect x="630.4" y="346.2" width="8.1" height="40" fill="url(#cg)" />
<text x="630.1" y="342.9" font-size="5.2" fill="#333" stroke="#333" stroke-width="0.22">count</text>
<text x="640" y="348.9" font-size="4.6" fill="#333" stroke="#333" stroke-width="0.22">5000</text>
<text x="640" y="356.7" font-size="4.6" fill="#333" stroke="#333" stroke-width="0.22">4000</text>
<text x="640" y="364.4" font-size="4.6" fill="#333" stroke="#333" stroke-width="0.22">3000</text>
<text x="640" y="372.1" font-size="4.6" fill="#333" stroke="#333" stroke-width="0.22">2000</text>
<text x="640" y="379.7" font-size="4.6" fill="#333" stroke="#333" stroke-width="0.22">1000</text>
<path d="M630.4 347.3h1.6M638.5 347.3h-1.6M630.4 355.1h1.6M638.5 355.1h-1.6M630.4 362.8h1.6M638.5 362.8h-1.6M630.4 370.5h1.6M638.5 370.5h-1.6M630.4 378.1h1.6M638.5 378.1h-1.6" stroke="#fff" stroke-width="0.5"/>
<text x="5.3" y="11.7" font-size="13.2" font-weight="bold" fill="#111" stroke="#111" stroke-width="0.22">A</text>
<text x="22" y="117.9" font-size="14.5" text-anchor="middle" font-weight="bold" fill="#111" transform="rotate(-90 22 117.9)" stroke="#111" stroke-width="0.22">DRACH</text>
<text x="25" y="317.8" font-size="14.5" text-anchor="middle" font-weight="bold" fill="#111" transform="rotate(-90 25 317.8)" stroke="#111" stroke-width="0.22">non-DRACH</text>
<text x="631.5" y="155" font-size="6.2" text-anchor="middle" stroke="#222" stroke-width="0.22">ug/cp</text>
<text x="594.3" y="184.9" font-size="6.2" text-anchor="middle" stroke="#222" stroke-width="0.22">hycc1</text>
<rect x="38.5" y="508" width="42.3" height="1" fill="#5577b9" />
<rect x="38.5" y="509" width="42.3" height="4" fill="#5577b9" />
<rect x="38.5" y="513" width="42.3" height="2" fill="#5577b9" />
<rect x="38.5" y="515" width="42.3" height="4" fill="#5577b9" />
<rect x="38.5" y="519" width="42.3" height="2" fill="#5577b9" />
<rect x="38.5" y="521" width="42.3" height="3" fill="#5577b9" />
<rect x="38.5" y="524" width="42.3" height="3" fill="#597cba" />
<rect x="38.5" y="527" width="42.3" height="4" fill="#5a7dbb" />
<rect x="38.5" y="531" width="42.3" height="3" fill="#567bbb" />
<rect x="38.5" y="534" width="42.3" height="4" fill="#5277b7" />
<rect x="38.5" y="538" width="42.3" height="3" fill="#6089c2" />
<rect x="38.5" y="541" width="42.3" height="4" fill="#6089c2" />
<rect x="38.5" y="545" width="42.3" height="4" fill="#5d86bf" />
<rect x="38.5" y="549" width="42.3" height="4" fill="#6089c2" />
<rect x="38.5" y="553" width="42.3" height="4" fill="#5b84c0" />
<rect x="38.5" y="557" width="42.3" height="4" fill="#5c85c1" />
<rect x="38.5" y="561" width="42.3" height="4" fill="#567fbb" />
<rect x="38.5" y="565" width="42.3" height="4" fill="#749ecd" />
<rect x="38.5" y="569" width="42.3" height="4" fill="#729ccb" />
<rect x="38.5" y="573" width="42.3" height="4" fill="#78a2d1" />
<rect x="38.5" y="577" width="42.3" height="4" fill="#709bcc" />
<rect x="38.5" y="581" width="42.3" height="3" fill="#6b96c7" />
<rect x="38.5" y="584" width="42.3" height="4" fill="#729dce" />
<rect x="38.5" y="588" width="42.3" height="4" fill="#7da7d4" />
<rect x="38.5" y="592" width="42.3" height="5" fill="#7ba5d2" />
<rect x="38.5" y="597" width="42.3" height="4" fill="#7aa4d1" />
<rect x="38.5" y="601" width="42.3" height="5" fill="#77a1ce" />
<rect x="38.5" y="606" width="42.3" height="4" fill="#82aad2" />
<rect x="38.5" y="610" width="42.3" height="4" fill="#86aed6" />
<rect x="38.5" y="614" width="42.3" height="3" fill="#82aad2" />
<rect x="38.5" y="617" width="42.3" height="4" fill="#83abd3" />
<rect x="38.5" y="621" width="42.3" height="4" fill="#83abd3" />
<rect x="38.5" y="625" width="42.3" height="4" fill="#82aad2" />
<rect x="38.5" y="629" width="42.3" height="5" fill="#93b9da" />
<rect x="38.5" y="634" width="42.3" height="4" fill="#93b9da" />
<rect x="38.5" y="638" width="42.3" height="4" fill="#96bcdd" />
<rect x="38.5" y="642" width="42.3" height="4" fill="#94badb" />
<rect x="38.5" y="646" width="42.3" height="4" fill="#95bbdc" />
<rect x="38.5" y="650" width="42.3" height="5" fill="#93b9da" />
<rect x="38.5" y="655" width="42.3" height="4" fill="#95bbdc" />
<rect x="38.5" y="659" width="42.3" height="4" fill="#adcce1" />
<rect x="38.5" y="663" width="42.3" height="4" fill="#accbe0" />
<rect x="38.5" y="667" width="42.3" height="4" fill="#b1d0e5" />
<rect x="38.5" y="671" width="42.3" height="4" fill="#b1d0e5" />
<rect x="38.5" y="675" width="42.3" height="4" fill="#b0cfe4" />
<rect x="38.5" y="679" width="42.3" height="3" fill="#afcee3" />
<rect x="38.5" y="682" width="42.3" height="5" fill="#a2c4dd" />
<rect x="38.5" y="687" width="42.3" height="4" fill="#a1c3dc" />
<rect x="38.5" y="691" width="42.3" height="4" fill="#a2c4dd" />
<rect x="38.5" y="695" width="42.3" height="4" fill="#a0c2da" />
<rect x="38.5" y="699" width="42.3" height="4" fill="#a6c8e0" />
<rect x="38.5" y="703" width="42.3" height="4" fill="#a3c5dd" />
<rect x="38.5" y="707" width="42.3" height="4" fill="#b6d6e8" />
<rect x="38.5" y="711" width="42.3" height="4" fill="#b3d3e5" />
<rect x="38.5" y="715" width="42.3" height="4" fill="#b7d7e9" />
<rect x="38.5" y="719" width="42.3" height="4" fill="#b6d6e8" />
<rect x="38.5" y="723" width="42.3" height="3" fill="#b2d1e2" />
<rect x="38.5" y="726" width="42.3" height="4" fill="#b3d2e3" />
<rect x="38.5" y="730" width="42.3" height="4" fill="#b9d8e9" />
<rect x="38.5" y="734" width="42.3" height="3" fill="#b5d4e5" />
<rect x="38.5" y="737" width="42.3" height="5" fill="#c5dfed" />
<rect x="38.5" y="742" width="42.3" height="4" fill="#c1dbe9" />
<rect x="38.5" y="746" width="42.3" height="4" fill="#bed8e6" />
<rect x="38.5" y="750" width="42.3" height="4" fill="#c3ddeb" />
<rect x="38.5" y="754" width="42.3" height="4" fill="#cde4ee" />
<rect x="38.5" y="758" width="42.3" height="4" fill="#c9e0ea" />
<rect x="38.5" y="762" width="42.3" height="4" fill="#c7dee8" />
<rect x="38.5" y="766" width="42.3" height="4" fill="#c9e0ea" />
<rect x="38.5" y="770" width="42.3" height="4" fill="#d5e9f2" />
<rect x="38.5" y="774" width="42.3" height="5" fill="#d4e8f1" />
<rect x="38.5" y="779" width="42.3" height="4" fill="#cee2eb" />
<rect x="38.5" y="783" width="42.3" height="5" fill="#cfe3ec" />
<rect x="38.5" y="788" width="42.3" height="4" fill="#d4e6ed" />
<rect x="38.5" y="792" width="42.3" height="4" fill="#d4e6ed" />
<rect x="38.5" y="796" width="42.3" height="5" fill="#daecf3" />
<rect x="38.5" y="801" width="42.3" height="4" fill="#d5e7ee" />
<rect x="38.5" y="805" width="42.3" height="4" fill="#d8eaf1" />
<rect x="38.5" y="809" width="42.3" height="4" fill="#f1f9f5" />
<rect x="38.5" y="813" width="42.3" height="4" fill="#eff7f3" />
<rect x="38.5" y="817" width="42.3" height="4" fill="#f3fbf7" />
<rect x="38.5" y="821" width="42.3" height="5" fill="#e5f1f1" />
<rect x="38.5" y="826" width="42.3" height="4" fill="#e9f5f5" />
<rect x="80.8" y="508" width="43.1" height="1" fill="#ee8550" />
<rect x="80.8" y="509" width="43.1" height="4" fill="#f3b474" />
<rect x="80.8" y="513" width="43.1" height="2" fill="#f6d89a" />
<rect x="80.8" y="515" width="43.1" height="4" fill="#f5d08e" />
<rect x="80.8" y="519" width="43.1" height="2" fill="#f2ac6c" />
<rect x="80.8" y="521" width="43.1" height="3" fill="#f5c886" />
<rect x="80.8" y="524" width="43.1" height="3" fill="#eee29c" />
<rect x="80.8" y="527" width="43.1" height="4" fill="#f1e59f" />
<rect x="80.8" y="531" width="43.1" height="3" fill="#f1d993" />
<rect x="80.8" y="534" width="43.1" height="4" fill="#f2da94" />
<rect x="80.8" y="538" width="43.1" height="3" fill="#f6f8c3" />
<rect x="80.8" y="541" width="43.1" height="4" fill="#f5f7c2" />
<rect x="80.8" y="545" width="43.1" height="4" fill="#f1f3be" />
<rect x="80.8" y="549" width="43.1" height="4" fill="#f6f8c3" />
<rect x="80.8" y="553" width="43.1" height="4" fill="#f0ebad" />
<rect x="80.8" y="557" width="43.1" height="4" fill="#f2edaf" />
<rect x="80.8" y="561" width="43.1" height="4" fill="#f5f0b2" />
<rect x="80.8" y="565" width="43.1" height="4" fill="#f4f9d1" />
<rect x="80.8" y="569" width="43.1" height="4" fill="#eff4cc" />
<rect x="80.8" y="573" width="43.1" height="4" fill="#f6fbd3" />
<rect x="80.8" y="577" width="43.1" height="4" fill="#f0f2c1" />
<rect x="80.8" y="581" width="43.1" height="3" fill="#f1f3c2" />
<rect x="80.8" y="584" width="43.1" height="4" fill="#f5f7c6" />
<rect x="80.8" y="588" width="43.1" height="4" fill="#f1f6d4" />
<rect x="80.8" y="592" width="43.1" height="5" fill="#f1f6d4" />
<rect x="80.8" y="597" width="43.1" height="4" fill="#eff4d2" />
<rect x="80.8" y="601" width="43.1" height="5" fill="#eff4d2" />
<rect x="80.8" y="606" width="43.1" height="4" fill="#f2fae0" />
<rect x="80.8" y="610" width="43.1" height="4" fill="#eff7dd" />
<rect x="80.8" y="614" width="43.1" height="3" fill="#f2fae0" />
<rect x="80.8" y="617" width="43.1" height="4" fill="#f0f8de" />
<rect x="80.8" y="621" width="43.1" height="4" fill="#f1f9df" />
<rect x="80.8" y="625" width="43.1" height="4" fill="#f5fde3" />
<rect x="80.8" y="629" width="43.1" height="5" fill="#effaeb" />
<rect x="80.8" y="634" width="43.1" height="4" fill="#f0fbec" />
<rect x="80.8" y="638" width="43.1" height="4" fill="#f2fdee" />
<rect x="80.8" y="642" width="43.1" height="4" fill="#edf8e9" />
<rect x="80.8" y="646" width="43.1" height="4" fill="#edf8e9" />
<rect x="80.8" y="650" width="43.1" height="5" fill="#f3feef" />
<rect x="80.8" y="655" width="43.1" height="4" fill="#f2fdee" />
<rect x="80.8" y="659" width="43.1" height="4" fill="#e3f1f3" />
<rect x="80.8" y="663" width="43.1" height="4" fill="#e3f1f3" />
<rect x="80.8" y="667" width="43.1" height="4" fill="#e7f5f7" />
<rect x="80.8" y="671" width="43.1" height="4" fill="#e9f7f9" />
<rect x="80.8" y="675" width="43.1" height="4" fill="#e3f1f3" />
<rect x="80.8" y="679" width="43.1" height="3" fill="#e9f7f9" />
<rect x="80.8" y="682" width="43.1" height="5" fill="#f1fcf9" />
<rect x="80.8" y="687" width="43.1" height="4" fill="#eef9f6" />
<rect x="80.8" y="691" width="43.1" height="4" fill="#edf8f5" />
<rect x="80.8" y="695" width="43.1" height="4" fill="#eaf6f4" />
<rect x="80.8" y="699" width="43.1" height="4" fill="#eaf6f4" />
<rect x="80.8" y="703" width="43.1" height="4" fill="#f1fdfb" />
<rect x="80.8" y="707" width="43.1" height="4" fill="#ddedf3" />
<rect x="80.8" y="711" width="43.1" height="4" fill="#e1f1f7" />
<rect x="80.8" y="715" width="43.1" height="4" fill="#deeef4" />
<rect x="80.8" y="719" width="43.1" height="4" fill="#e2f2f8" />
<rect x="80.8" y="723" width="43.1" height="3" fill="#dceef4" />
<rect x="80.8" y="726" width="43.1" height="4" fill="#daecf2" />
<rect x="80.8" y="730" width="43.1" height="4" fill="#d9ebf1" />
<rect x="80.8" y="734" width="43.1" height="3" fill="#ddeff5" />
<rect x="80.8" y="737" width="43.1" height="5" fill="#d2e6ee" />
<rect x="80.8" y="742" width="43.1" height="4" fill="#d3e7ef" />
<rect x="80.8" y="746" width="43.1" height="4" fill="#d6eaf2" />
<rect x="80.8" y="750" width="43.1" height="4" fill="#d8ecf4" />
<rect x="80.8" y="754" width="43.1" height="4" fill="#d0e6f0" />
<rect x="80.8" y="758" width="43.1" height="4" fill="#cee4ee" />
<rect x="80.8" y="762" width="43.1" height="4" fill="#d3e9f3" />
<rect x="80.8" y="766" width="43.1" height="4" fill="#cde3ed" />
<rect x="80.8" y="770" width="43.1" height="4" fill="#c4dce8" />
<rect x="80.8" y="774" width="43.1" height="5" fill="#c6deea" />
<rect x="80.8" y="779" width="43.1" height="4" fill="#c7dfeb" />
<rect x="80.8" y="783" width="43.1" height="5" fill="#c4dce8" />
<rect x="80.8" y="788" width="43.1" height="4" fill="#bfd9e7" />
<rect x="80.8" y="792" width="43.1" height="4" fill="#c0dae8" />
<rect x="80.8" y="796" width="43.1" height="5" fill="#c2dcea" />
<rect x="80.8" y="801" width="43.1" height="4" fill="#bfd9e7" />
<rect x="80.8" y="805" width="43.1" height="4" fill="#c0dae8" />
<rect x="80.8" y="809" width="43.1" height="4" fill="#a9cbe3" />
<rect x="80.8" y="813" width="43.1" height="4" fill="#a9cbe3" />
<rect x="80.8" y="817" width="43.1" height="4" fill="#a7c9e1" />
<rect x="80.8" y="821" width="43.1" height="5" fill="#b1cfe5" />
<rect x="80.8" y="826" width="43.1" height="4" fill="#b0cee4" />
<rect x="123.9" y="508" width="42.5" height="1" fill="#f6e6a0" />
<rect x="123.9" y="509" width="42.5" height="4" fill="#f6e6a0" />
<rect x="123.9" y="513" width="42.5" height="2" fill="#f4c888" />
<rect x="123.9" y="515" width="42.5" height="4" fill="#f0a062" />
<rect x="123.9" y="519" width="42.5" height="2" fill="#f4c080" />
<rect x="123.9" y="521" width="42.5" height="3" fill="#f0b070" />
<rect x="123.9" y="524" width="42.5" height="3" fill="#e97545" />
<rect x="123.9" y="527" width="42.5" height="4" fill="#e87444" />
<rect x="123.9" y="531" width="42.5" height="3" fill="#ea844c" />
<rect x="123.9" y="534" width="42.5" height="4" fill="#f18b53" />
<rect x="123.9" y="538" width="42.5" height="3" fill="#e55b39" />
<rect x="123.9" y="541" width="42.5" height="4" fill="#e75d3b" />
<rect x="123.9" y="545" width="42.5" height="4" fill="#e05634" />
<rect x="123.9" y="549" width="42.5" height="4" fill="#e55b39" />
<rect x="123.9" y="553" width="42.5" height="4" fill="#e7673d" />
<rect x="123.9" y="557" width="42.5" height="4" fill="#e9693f" />
<rect x="123.9" y="561" width="42.5" height="4" fill="#e6663c" />
<rect x="123.9" y="565" width="42.5" height="4" fill="#df4733" />
<rect x="123.9" y="569" width="42.5" height="4" fill="#d8402c" />
<rect x="123.9" y="573" width="42.5" height="4" fill="#dc4430" />
<rect x="123.9" y="577" width="42.5" height="4" fill="#e14d35" />
<rect x="123.9" y="581" width="42.5" height="3" fill="#e34f37" />
<rect x="123.9" y="584" width="42.5" height="4" fill="#e14d35" />
<rect x="123.9" y="588" width="42.5" height="4" fill="#dd4531" />
<rect x="123.9" y="592" width="42.5" height="5" fill="#de4632" />
<rect x="123.9" y="597" width="42.5" height="4" fill="#df4733" />
<rect x="123.9" y="601" width="42.5" height="5" fill="#da422e" />
<rect x="123.9" y="606" width="42.5" height="4" fill="#da3b25" />
<rect x="123.9" y="610" width="42.5" height="4" fill="#dc3d27" />
<rect x="123.9" y="614" width="42.5" height="3" fill="#db3c26" />
<rect x="123.9" y="617" width="42.5" height="4" fill="#d83923" />
<rect x="123.9" y="621" width="42.5" height="4" fill="#db3c26" />
<rect x="123.9" y="625" width="42.5" height="4" fill="#db3c26" />
<rect x="123.9" y="629" width="42.5" height="30" fill="#d83a22" />
<rect x="123.9" y="659" width="42.5" height="23" fill="#d83a22" />
<rect x="123.9" y="682" width="42.5" height="13" fill="#d83a22" />
<rect x="123.9" y="695" width="42.5" height="12" fill="#d83a22" />
<rect x="123.9" y="707" width="42.5" height="16" fill="#d83a22" />
<rect x="123.9" y="723" width="42.5" height="14" fill="#d83a22" />
<rect x="123.9" y="737" width="42.5" height="17" fill="#d83a22" />
<rect x="123.9" y="754" width="42.5" height="16" fill="#d83a22" />
<rect x="123.9" y="770" width="42.5" height="18" fill="#d83a22" />
<rect x="123.9" y="788" width="42.5" height="21" fill="#d83a22" />
<rect x="123.9" y="809" width="42.5" height="12" fill="#da3c22" />
<rect x="123.9" y="821" width="42.5" height="9" fill="#d83a22" />
<path d="M38.3 508L38.3 830" stroke="#555" stroke-width="0.8" />
<text x="0.6" y="459.4" font-size="13.2" font-weight="bold" fill="#111" stroke="#111" stroke-width="0.22">B</text>
<text x="59.4" y="504.8" font-size="9.8" text-anchor="middle" fill="#1a1a1a" stroke="#1a1a1a" stroke-width="0.22">DMSO</text>
<text x="99" y="505.3" font-size="9.8" text-anchor="middle" fill="#1a1a1a" stroke="#1a1a1a" stroke-width="0.22">FB232</text>
<text x="148.2" y="504" font-size="9.8" text-anchor="middle" fill="#1a1a1a" stroke="#1a1a1a" stroke-width="0.22">P000302</text>
<text x="21.2" y="651.4" font-size="9.65" text-anchor="middle" fill="#1a1a1a" transform="rotate(-90 21.2 651.4)" stroke="#1a1a1a" stroke-width="0.22">hypomethylated in DMG ( n=2,246)</text>
<defs><linearGradient id="zg" x1="0" y1="0" x2="1" y2="0"><stop offset="0" stop-color="#4f78b6"/><stop offset="0.25" stop-color="#a9cbe3"/><stop offset="0.45" stop-color="#eef8f4"/><stop offset="0.62" stop-color="#f6f0a8"/><stop offset="0.8" stop-color="#f19a56"/><stop offset="1" stop-color="#d7301f"/></linearGradient></defs>
<rect x="84" y="842.1" width="34.9" height="5.8" fill="url(#zg)" />
<text x="77.6" y="846.8" font-size="7.2" text-anchor="end" fill="#1a1a1a" stroke="#1a1a1a" stroke-width="0.22">Zscore</text>
<text x="85.3" y="855.6" font-size="7.2" text-anchor="middle" fill="#1a1a1a" stroke="#1a1a1a" stroke-width="0.22">−1</text>
<text x="117" y="855.6" font-size="7.2" text-anchor="middle" fill="#1a1a1a" stroke="#1a1a1a" stroke-width="0.22">1</text>
<text x="200.6" y="457.4" font-size="13.2" font-weight="bold" fill="#111" stroke="#111" stroke-width="0.22">C</text>
<path d="M303.7 474.6L318.4 474.6" stroke="#5f5ab8" stroke-width="2.2" />
<text x="323.5" y="477.2" font-size="7.4" stroke="#222" stroke-width="0.22">SU-DIPGXVII</text>
<path d="M391.1 474.6L405.8 474.6" stroke="#b5b5e6" stroke-width="2.2" />
<text x="410.3" y="477.2" font-size="7.4" stroke="#222" stroke-width="0.22">SU-DIPGXVII + FB232</text>
<path d="M502.4 474.6L515.8 474.6" stroke="#e5b75c" stroke-width="2.2" />
<text x="520.2" y="477.2" font-size="7.4" stroke="#222" stroke-width="0.22">P000302</text>
<path d="M255 498.2V573.4M253.3 573.2H316.6M252.5 498.5H255M252.5 535.9H255" stroke="#000" stroke-width="1.3" fill="none"/>
<text x="251.5" y="502.5" font-size="10" text-anchor="end" fill="#111" stroke="#111" stroke-width="0.22">80</text>
<text x="251.5" y="539.7" font-size="10" text-anchor="end" fill="#111" stroke="#111" stroke-width="0.22">40</text>
<text x="251.5" y="576.5" font-size="10" text-anchor="end" fill="#111" stroke="#111" stroke-width="0.22">0</text>
<rect x="260.9" y="532.8" width="11" height="40.4" fill="#5f5ab8" />
<rect x="276" y="506" width="11.9" height="67.2" fill="#b5b5e6" />
<rect x="292" y="513.9" width="12" height="59.3" fill="#e5b75c" />
<path d="M266.4 525.3V540.6M264.2 525.3h4.4M264.2 540.6h4.4" stroke="#111" stroke-width="1.1" fill="none"/>
<path d="M282 505.4V506.6M280 505.4h4M280 506.6h4" stroke="#111" stroke-width="1.6" fill="none"/>
<path d="M298.3 509.2V518.7M296.1 509.2h4.4M296.1 518.7h4.4" stroke="#111" stroke-width="1.1" fill="none"/>
<path d="M262.3 500.1L285 500.1" stroke="#111" stroke-width="1.2" />
<text x="274.2" y="495.4" font-size="7.4" text-anchor="middle" fill="#1a1a1a" stroke="#1a1a1a" stroke-width="0.22">p = 0.07</text>
<text x="234.2" y="534.8" font-size="8.8" text-anchor="middle" fill="#1a1a1a" transform="rotate(-90 234.2 534.8)" stroke="#1a1a1a" stroke-width="0.22">m6a(%)</text>
<path d="M430.6 498.2V573.4M428.7 573.2H482.7M428 498.5H430.6M428 535.9H430.6" stroke="#000" stroke-width="1.3" fill="none"/>
<text x="427" y="502.5" font-size="10" text-anchor="end" fill="#111" stroke="#111" stroke-width="0.22">60</text>
<text x="427" y="539.7" font-size="10" text-anchor="end" fill="#111" stroke="#111" stroke-width="0.22">30</text>
<text x="427" y="576.5" font-size="10" text-anchor="end" fill="#111" stroke="#111" stroke-width="0.22">0</text>
<rect x="434.1" y="538.1" width="11.7" height="35.1" fill="#5f5ab8" />
<rect x="451" y="521.3" width="11.6" height="51.9" fill="#b5b5e6" />
<rect x="467.7" y="512.1" width="11.6" height="61.1" fill="#e5b75c" />
<path d="M440 536.6V539M437.8 536.6h4.4M437.8 539h4.4" stroke="#111" stroke-width="1.2" fill="none"/>
<path d="M456.9 518.7V526.4M454.7 518.7h4.4M454.7 526.4h4.4" stroke="#111" stroke-width="1.1" fill="none"/>
<path d="M474.4 498.7V525.7M472.2 498.7h4.4M472.2 525.7h4.4" stroke="#111" stroke-width="1.1" fill="none"/>
<path d="M436.7 511L458.9 511" stroke="#111" stroke-width="1.2" />
<text x="448.1" y="510.9" font-size="10.5" text-anchor="middle" fill="#111" stroke="#111" stroke-width="0.22">*</text>
<text x="411.6" y="536" font-size="8.8" text-anchor="middle" fill="#1a1a1a" transform="rotate(-90 411.6 536)" stroke="#1a1a1a" stroke-width="0.22">m6a(%)</text>
<path d="M600.7 498.7V574.2M598.5 573.9H652.5M598.2 499.4H600.7M598.2 518.0H600.7M598.2 536.5H600.7M598.2 555.0H600.7" stroke="#111" stroke-width="1.2" fill="none"/>
<text x="597.3" y="503.1" font-size="10" text-anchor="end" fill="#111" stroke="#111" stroke-width="0.22">60</text>
<text x="597.3" y="521.6" font-size="10" text-anchor="end" fill="#111" stroke="#111" stroke-width="0.22">45</text>
<text x="597.3" y="539.9" font-size="10" text-anchor="end" fill="#111" stroke="#111" stroke-width="0.22">30</text>
<text x="597.3" y="558.1" font-size="10" text-anchor="end" fill="#111" stroke="#111" stroke-width="0.22">15</text>
<text x="597.3" y="576.5" font-size="10" text-anchor="end" fill="#111" stroke="#111" stroke-width="0.22">0</text>
<rect x="603.3" y="515" width="12.2" height="58.6" fill="#5f5ab8" />
<rect x="620.7" y="499.7" width="12.1" height="73.9" fill="#b5b5e6" />
<rect x="638.2" y="516.5" width="12.1" height="57.1" fill="#e5b75c" />
<path d="M609.1 512.8V516.5M608.1 512.8h2M608.1 516.5h2" stroke="#111" stroke-width="1.1" fill="none"/>
<path d="M626.9 499V500M625.7 499h2.4M625.7 500h2.4" stroke="#111" stroke-width="1.6" fill="none"/>
<path d="M644.2 510.7V522.3M644.2 510.7h0.1M644.2 522.3h0.1" stroke="#111" stroke-width="1.1" fill="none"/>
<path d="M604.3 493.1L626.6 493.1" stroke="#111" stroke-width="1.2" />
<text x="615.3" y="492.9" font-size="10.5" text-anchor="middle" fill="#111" stroke="#111" stroke-width="0.22">*</text>
<text x="581" y="536" font-size="8.8" text-anchor="middle" fill="#1a1a1a" transform="rotate(-90 581 536)" stroke="#1a1a1a" stroke-width="0.22">m6a(%)</text>
<text x="248.1" y="591.4" font-size="7.7" stroke-width="0.25" textLength="59.9" lengthAdjust="spacingAndGlyphs"><tspan fill="#1a1a1a" stroke="#1a1a1a">GG</tspan><tspan fill="#a040e0" stroke="#a040e0">GGAC</tspan><tspan fill="#e8302a" stroke="#e8302a">TGA</tspan><tspan fill="#1a1a1a" stroke="#1a1a1a">CG</tspan></text>
<text x="405.4" y="591.4" font-size="7.7" stroke-width="0.25" textLength="98.1" lengthAdjust="spacingAndGlyphs"><tspan fill="#1a1a1a" stroke="#1a1a1a">A</tspan><tspan fill="#a040e0" stroke="#a040e0">CCAAG</tspan><tspan fill="#1a1a1a" stroke="#1a1a1a">GATATTAT</tspan><tspan fill="#e8302a" stroke="#e8302a">TGA</tspan><tspan fill="#1a1a1a" stroke="#1a1a1a">A</tspan></text>
<text x="582.4" y="591.4" font-size="7.7" stroke-width="0.25" textLength="80.7" lengthAdjust="spacingAndGlyphs"><tspan fill="#1a1a1a" stroke="#1a1a1a">TCTGT</tspan><tspan fill="#a040e0" stroke="#a040e0">AGACT</tspan><tspan fill="#1a1a1a" stroke="#1a1a1a">GTTGA</tspan></text>
<path d="M224 603.9L233 603.9" stroke="#000" stroke-width="2" />
<rect x="232" y="595.4" width="25.7" height="16.6" fill="#000" />
<rect x="257.7" y="599.4" width="65.1" height="8.5" fill="#000" />
<path d="M257.7 594.3L257.7 612.3" stroke="#9b40c8" stroke-width="0.8" />
<text x="316" y="606" font-size="6.1" text-anchor="end" fill="#eee" stroke-width="0">ENST00000276925</text>
<text x="323.6" y="619.2" font-size="9.8" text-anchor="end" fill="#1a1a1a" font-style="italic" stroke="#1a1a1a" stroke-width="0.22">CDKN2B</text>
<path d="M386.1 603.3L406 603.3" stroke="#000" stroke-width="1.6" />
<path d="M396 599.6L399.4 603.3L396 607" stroke="#000" stroke-width="1.1" fill="none"/>
<rect x="405.4" y="595.1" width="14" height="17" fill="#000" />
<rect x="419.4" y="599.6" width="98.3" height="7.8" fill="#000" />
<path d="M416.3 594.3L416.3 612.7" stroke="#9b40c8" stroke-width="0.8" />
<path d="M411.2 616.4L422.6 616.4" stroke="#4ccc2a" stroke-width="1.6" />
<text x="515.2" y="605.6" font-size="6.1" text-anchor="end" fill="#eee" stroke-width="0">ENST00000639628</text>
<text x="515.6" y="619" font-size="9.8" text-anchor="end" fill="#1a1a1a" font-style="italic" stroke="#1a1a1a" stroke-width="0.22">HNRNPU</text>
<text x="410" y="624.2" font-size="5.7" text-anchor="middle" fill="#1a1a1a" stroke="#1a1a1a" stroke-width="0.22">YTHDF2 binding site</text>
<text x="409.5" y="631.6" font-size="5.7" text-anchor="middle" fill="#1a1a1a" stroke="#1a1a1a" stroke-width="0.22">chr1:245,017,684-245,017,784</text>
<path d="M552.8 604L572 604" stroke="#000" stroke-width="1.6" />
<path d="M562.4 600.3L565.6 604L562.4 607.7" stroke="#000" stroke-width="1.1" fill="none"/>
<rect x="571.6" y="595.4" width="8.6" height="16.8" fill="#000" />
<rect x="580.2" y="599.5" width="103.8" height="8.6" fill="#000" />
<path d="M597.7 596.5L597.7 608.7" stroke="#9b40c8" stroke-width="0.8" />
<path d="M591.6 616.7L603.5 616.7" stroke="#4ccc2a" stroke-width="1.6" />
<text x="681.5" y="606.1" font-size="6.1" text-anchor="end" fill="#eee" stroke-width="0">ENST00000310137</text>
<text x="683.6" y="619.6" font-size="9.8" text-anchor="end" fill="#1a1a1a" font-style="italic" stroke="#1a1a1a" stroke-width="0.22">RBM14</text>
<text x="604.2" y="624.4" font-size="5.7" text-anchor="middle" fill="#1a1a1a" stroke="#1a1a1a" stroke-width="0.22">YTHDF2 binding site</text>
<text x="606.5" y="631.8" font-size="5.7" text-anchor="middle" fill="#1a1a1a" stroke="#1a1a1a" stroke-width="0.22">chr11:66,627,080-66,627,180</text>
<text x="212.2" y="686.3" font-size="13.2" font-weight="bold" fill="#111" stroke="#111" stroke-width="0.22">D</text>
<path d="M273 760.9H468M273 809.9H468" stroke="#5e5e5e" stroke-width="1" stroke-dasharray="5 4" fill="none"/>
<path d="M264 785.4H468" stroke="#ea5a42" stroke-width="1.5" stroke-dasharray="5 4" fill="none"/>
<path d="M297.9 716.9L298 717.9L298.1 719.4L298.2 721L298.3 722.9L298.4 724.7L298.5 726.5L298.6 728.2L298.6 730L298.6 731.9L298.7 733.7L298.8 735.5L298.9 737L299.1 738.5L299.3 739.8L299.6 741.1L299.9 742.3L300.1 743.4L300.4 744.4L300.7 745.3L300.9 746.1L301.2 746.8L301.4 747.4L301.7 748.1L302 748.8L302.3 749.6L302.6 750.4L303 751.2L303.3 752L303.7 752.8L304.1 753.5L304.5 754.2L304.9 754.8L305.3 755.4L305.7 756L306.2 756.6L306.7 757.2L307.3 757.8L307.9 758.3L308.5 758.9L309.2 759.4L309.9 760L310.6 760.6L311.3 761.2L312 761.8L312.8 762.4L313.6 763L314.3 763.6L315.1 764.3L315.9 765L316.7 765.7L317.5 766.4L318.3 767.2L319.1 767.9L319.8 768.7L320.4 769.5L321.1 770.3L321.6 771.1L322.2 771.9L322.6 772.6L323 773.4L323.3 774L323.5 774.7L323.7 775.3L323.8 775.9L323.9 776.5L323.9 777.1L323.9 777.6L323.9 778L323.9 778.5L323.8 778.9L323.6 779.4L323.3 780L322.9 780.7L322.3 781.4L321.7 782.1L321 782.9L320.3 783.7L319.6 784.4L318.9 785.2L318.1 785.9L317.3 786.6L316.6 787.4L315.9 788.1L315.4 788.8L315 789.5L314.8 790.2L314.6 790.9L314.5 791.6L314.4 792.3L314.1 793L313.8 793.7L313.4 794.5L313 795.2L312.5 795.9L312 796.7L311.5 797.4L310.9 798.2L310.2 798.9L309.5 799.6L308.7 800.4L308 801.1L307.3 801.8L306.6 802.6L305.9 803.3L305.2 804.1L304.6 804.8L304 805.5L303.4 806.3L302.9 807L302.4 807.7L302 808.5L301.7 809.2L301.3 809.9L301 810.7L300.7 811.4L300.5 812L300.3 812.6L300.1 813.3L300 814.1L299.8 815.1L299.6 816.3L299.5 817.7L299.3 819.2L299.2 820.7L299 822.2L298.9 823.7L298.8 825.1L298.7 826.6L298.7 828.1L298.6 829.5L298.6 830.9L298.5 832L298.4 833.1L298.3 834.1L298.2 835L298.1 835.8L298 836.5L297.9 837L297.9 837L297.8 836.5L297.7 835.8L297.6 835L297.5 834.1L297.4 833.1L297.3 832L297.2 830.9L297.2 829.5L297.1 828.1L297.1 826.6L297 825.1L296.9 823.7L296.8 822.2L296.6 820.7L296.5 819.2L296.3 817.7L296.2 816.3L296 815.1L295.8 814.1L295.7 813.3L295.5 812.6L295.3 812L295.1 811.4L294.8 810.7L294.5 809.9L294.1 809.2L293.8 808.5L293.4 807.7L292.9 807L292.4 806.3L291.8 805.5L291.2 804.8L290.6 804.1L289.9 803.3L289.2 802.6L288.5 801.8L287.8 801.1L287.1 800.4L286.3 799.6L285.6 798.9L284.9 798.2L284.3 797.4L283.8 796.7L283.3 795.9L282.8 795.2L282.4 794.5L282 793.7L281.7 793L281.4 792.3L281.3 791.6L281.1 790.9L281 790.2L280.8 789.5L280.4 788.8L279.9 788.1L279.2 787.4L278.4 786.6L277.7 785.9L276.9 785.2L276.2 784.4L275.5 783.7L274.8 782.9L274.1 782.1L273.5 781.4L272.9 780.7L272.5 780L272.2 779.4L272 778.9L271.9 778.5L271.9 778L271.9 777.6L271.9 777.1L271.9 776.5L272 775.9L272.1 775.3L272.3 774.7L272.5 774L272.8 773.4L273.2 772.6L273.6 771.9L274.2 771.1L274.7 770.3L275.4 769.5L276 768.7L276.7 767.9L277.5 767.2L278.3 766.4L279.1 765.7L279.9 765L280.7 764.3L281.5 763.6L282.2 763L283 762.4L283.8 761.8L284.5 761.2L285.2 760.6L285.9 760L286.6 759.4L287.3 758.9L287.9 758.3L288.5 757.8L289.1 757.2L289.6 756.6L290.1 756L290.5 755.4L290.9 754.8L291.3 754.2L291.7 753.5L292.1 752.8L292.5 752L292.8 751.2L293.2 750.4L293.5 749.6L293.8 748.8L294.1 748.1L294.4 747.4L294.6 746.8L294.9 746.1L295.1 745.3L295.4 744.4L295.7 743.4L295.9 742.3L296.2 741.1L296.5 739.8L296.7 738.5L296.9 737L297 735.5L297.1 733.7L297.2 731.9L297.2 730L297.2 728.2L297.3 726.5L297.4 724.7L297.5 722.9L297.6 721L297.7 719.4L297.8 717.9L297.9 716.9Z" fill="#a3b5c9" stroke="#222" stroke-width="1.2" stroke-linejoin="round"/>
<path d="M293.1 762.8h0M293.4 773.3h0M302.9 767h0M290.1 797.4h0M305.6 774.6h0M303.3 785.7h0M295.2 778.4h0M290 775.7h0M291.5 767.4h0M292.8 776.4h0M297.1 782.1h0M291 784.1h0M298.8 774.7h0M298.9 753h0M292.3 763.8h0M294.6 787.5h0M301.5 808.4h0M300.9 785.1h0M304.3 785h0M303.8 803.4h0M290.3 775.8h0M296.5 795.1h0M295.1 802.7h0M289.9 772.2h0M299.3 765.6h0M302.5 771.4h0M299 735.3h0M305.7 795.2h0M297.2 809.2h0M298.6 761h0M293.1 789.5h0M302.6 803h0M301.5 770.1h0M292 749.4h0M294 751.7h0M290.1 757.4h0M304.7 783.9h0M298.7 792h0M301.9 765.7h0M303.2 769.1h0M302.2 808.1h0M300.4 763.9h0M296 779.3h0M290.2 782.8h0M301.4 780h0M296 778.1h0M305.8 775.5h0M304.5 775h0M305 758.6h0M303.4 784.2h0M291.9 790.5h0M294.5 769.8h0M305.7 777.6h0M295.1 756.8h0M303.8 789.6h0M305.4 793.5h0M299.9 777.2h0M295.9 793.2h0M305.7 793.9h0M289.5 757.1h0M294.7 770.5h0M295.7 778.3h0M293.2 782.7h0M303.3 801.1h0M297.4 765.2h0M294.5 794.1h0M299.7 811.2h0M290.4 801h0M298.7 803.7h0M301.8 782.2h0M303.5 772.2h0M295.4 799h0M292.4 771.6h0M302.6 758.9h0M302.2 764.6h0M305.2 761.7h0M292.9 771.2h0M299.2 806.1h0M305.2 799.2h0M298.1 772.4h0M302.5 780.9h0M295.8 795.6h0M298.5 775.2h0M303.4 777.9h0M300.7 783.5h0M306.4 767.4h0M301.9 800.4h0M300.1 777.7h0M304.1 765.9h0M291.9 790.9h0M293.1 758.7h0M294.4 756h0M292.7 761.5h0M296.4 805.2h0M301.7 761.1h0M297.9 766.2h0M302.2 785.9h0M298.1 762.7h0M299.4 778.2h0M297.7 767.2h0M293.1 789.2h0M298.5 751.9h0M292.9 765.8h0M289.6 772.6h0M304.9 791.3h0M305.1 767.5h0M295.2 771.7h0M290.3 783.9h0M294.9 792.6h0M295.8 779.3h0M295.6 776.6h0M292.6 791.2h0M293 800.1h0M300.5 760h0M298.4 778.6h0M299.5 785.1h0M304.6 776.1h0M293.9 763.5h0M298.1 774.4h0M294.4 780.3h0M297.1 805.6h0M291.8 751.7h0M297 773.5h0M291.4 783.7h0M303.6 787.3h0M301.3 763.6h0M303.3 787h0M303.1 799h0M303.8 769.7h0M302.3 763.9h0M293.1 790.8h0M303.9 783.3h0M294.6 796.3h0M306.3 780.1h0M303.1 770.2h0M290.7 755.2h0M299.7 768h0M302.1 783.1h0M302.4 801.3h0M304.9 798h0M295.4 790.4h0M298.5 771.1h0M295.5 812.9h0M303.6 788h0M302.5 760.8h0M299.9 758.4h0M291 771.9h0M296.4 755.1h0M293.8 771.3h0M294.4 763.3h0M298.1 771.1h0M301 780.3h0M301.2 759.3h0M294.4 780.3h0M300.8 784.9h0M304.6 775.1h0M296.7 785.2h0M302.9 801.4h0M296.3 762h0M298.1 759.6h0M295.1 801.9h0M306 782.8h0M295.5 772.3h0M291.1 774.5h0M303.3 783.1h0M302.9 762h0M292.9 756.5h0M290.9 779h0M305.9 777h0M293.8 789h0M304 750.1h0M304.8 773.2h0M296.2 752.7h0M293.3 774.9h0M292.3 793.6h0M299.8 754.6h0M295.3 775.6h0M300.5 785.2h0M294.8 769.9h0M293.9 802.8h0M306 772.4h0M302.7 787.5h0M300.2 795.8h0M292.1 760.1h0M300.3 776.3h0M293.8 771.7h0M300.3 794.9h0M305.1 760.8h0M305.4 762.8h0M305.6 787.4h0M292.9 791.6h0M293.9 770.1h0M299.2 771.9h0M294.7 782.3h0M299.4 804h0M298.2 772.2h0M291.9 779.9h0M305.3 780.7h0M293.6 792.9h0M290.5 776.9h0M301.5 787.7h0M297.6 779.8h0M290.7 764.9h0M290.8 776.7h0M303.3 784.8h0M295.8 772.6h0M300.6 765.7h0M290.7 783.2h0M301.1 764.7h0M302.7 761.9h0M300.1 790.6h0M301.6 786.6h0M297.1 795h0M296.8 791.1h0M300.4 777.9h0M302.3 790.5h0M301.7 780.2h0M291.1 787.4h0M301.8 787.2h0M291.4 765.7h0M291.8 778.9h0M295.7 780h0M294.9 766h0M294.6 775.7h0M296.7 779.9h0M294.1 781.6h0M299.9 770h0M304.3 771h0M297.1 779.1h0M296.3 811.7h0M305.2 771.8h0M299.9 779.6h0M293.7 806h0M306 772.5h0M292.9 779.3h0M299 785.4h0M293.3 786.5h0M299.4 774.3h0M299.1 751.4h0M304.2 784.3h0M298.6 794.1h0M303.1 755.3h0M298.4 777.2h0M293.2 777.2h0M302.7 811.6h0M294.6 778.1h0M305 782.5h0M298.5 764.1h0M293.6 766.5h0M290.9 786.9h0M302.8 773.3h0M293.4 778.3h0M299.9 734.6h0M294 804.6h0M293.1 765.1h0M299.7 760h0M304.6 769.8h0M291.1 752.5h0M294.5 788.5h0M303.5 749.1h0M299.9 792.4h0M300.3 737.8h0M303.4 776.8h0M293.8 777.8h0M291.2 787.8h0M293 745.8h0M290.6 778h0M301.3 795.7h0M301.2 786.7h0M303.5 808.8h0M299 783.8h0M297.9 734.6h0M304.3 792.2h0M292 780.8h0M297.4 779.1h0M299.8 798.2h0M305.4 805.8h0M301.5 802.6h0M298.9 809h0M291.5 765.4h0M289.8 773.1h0M301.9 794.4h0M296.3 784.5h0M304.9 776.4h0M298.6 778.5h0M297.1 790.2h0M300.8 776h0M290.7 779.7h0M289.9 768.2h0M304.3 781.1h0M301.8 766.6h0M302.9 766.3h0M296.9 772.7h0M300.2 769.1h0M305.5 756.2h0M304.1 767.7h0M304.8 754.5h0M300.6 771.1h0M292.1 768.9h0M294.8 782.9h0M292.4 772.7h0M292.3 774.3h0M299.6 793.4h0M292.2 774.5h0M301.2 757h0M292.3 776.2h0M295.8 790.7h0M303.5 792.6h0M290.5 799.9h0M301 756.7h0M302.4 772h0M295.8 798.6h0M292.3 782.1h0M298.6 765.7h0M298 772.7h0M301.6 795.9h0M296.1 779.4h0M289.8 789.7h0M295 794.2h0M290.8 805.7h0M292.6 753.5h0M304.7 773.7h0M298.2 808.7h0M295.7 761.6h0M290.1 790.1h0M299.5 761.7h0M302.1 796.6h0M294.2 793.6h0M297.1 779.9h0M293.9 801.3h0M296 780h0M303.9 768.9h0M302.5 769.5h0M296.4 798.5h0M300.3 761.7h0M295.7 788.4h0M299.7 794.6h0M297.5 807.2h0M301.6 800.7h0M299.2 777.5h0M303.9 784.5h0M290.8 758.9h0M292.7 747.2h0M301.2 767.5h0M295.9 781.4h0M299.6 785.1h0M292 766.4h0M296.7 772.4h0M304.9 776.1h0M299.6 773.4h0M301 763.7h0M297.2 789.9h0M291.3 769.8h0M292 774.7h0M302.3 752.3h0M292.5 804.3h0M292.8 802.5h0M298.6 779.5h0M295.4 769.7h0M296.2 775.9h0M305.4 778.1h0M306.3 793.4h0M298.7 788.3h0M294.1 792.4h0M302.4 779.3h0M299 775.4h0M301.6 786.5h0M295.1 777.9h0M297.8 775.7h0M293.1 763.8h0M299.5 772.2h0M303.1 773.9h0M297.9 793.2h0M298 773.8h0M295.7 770.9h0M299.8 771h0M301.1 768.3h0M294.5 739.1h0M303 790h0M289.8 769.6h0M290.2 785.4h0M291.6 790.8h0M300.6 801.1h0M303.1 763.5h0M294.5 777.3h0M295.8 787.7h0M293.8 780.2h0M295.3 774.3h0M301.9 791.2h0M304.8 760.6h0" stroke="#0a0a0a" stroke-width="2.3" stroke-linecap="round" fill="none"/>
<path d="M350.7 698.2L350.8 699.7L350.8 701.5L350.9 703.8L351 706.3L351.1 709L351.2 711.8L351.3 714.7L351.3 718L351.4 721.4L351.4 724.8L351.5 728L351.6 730.7L351.7 732.9L351.8 734.8L352 736.5L352.1 738.1L352.3 739.4L352.5 740.7L352.7 741.9L353 742.8L353.2 743.6L353.5 744.4L353.8 745.1L354.1 745.9L354.4 746.7L354.8 747.5L355.1 748.3L355.5 749.1L355.9 750L356.3 750.8L356.7 751.6L357.2 752.5L357.6 753.3L358.1 754.2L358.6 755.1L359.1 755.9L359.7 756.8L360.3 757.6L360.9 758.5L361.6 759.4L362.2 760.2L362.9 761.1L363.6 762L364.3 762.9L365.1 763.8L365.9 764.7L366.6 765.6L367.3 766.5L368 767.4L368.7 768.2L369.3 769L370 769.9L370.6 770.7L371.1 771.4L371.6 772.1L372 772.8L372.4 773.4L372.7 774L373 774.7L373.1 775.3L373.2 776L373.1 776.7L373 777.3L372.8 778L372.5 778.8L372.2 779.5L371.7 780.3L371.1 781.1L370.5 782L369.8 782.9L369.1 783.8L368.5 784.7L368 785.6L367.5 786.5L367 787.5L366.6 788.4L366.2 789.4L365.8 790.3L365.5 791.2L365.2 792.1L364.9 793L364.6 793.9L364.3 794.8L364 795.7L363.6 796.6L363.2 797.4L362.8 798.3L362.3 799.2L361.8 800L361.4 800.9L361 801.7L360.5 802.6L360.1 803.4L359.7 804.3L359.3 805.2L358.8 806L358.3 806.9L357.8 807.7L357.3 808.6L356.8 809.5L356.3 810.3L355.9 811.2L355.5 812L355.2 812.9L354.9 813.8L354.7 814.6L354.4 815.5L354.2 816.3L354 817.2L353.7 818L353.5 818.9L353.3 819.8L353.1 820.6L352.9 821.5L352.7 822.4L352.6 823.3L352.4 824.2L352.3 825.1L352.1 826L352 826.9L351.9 827.7L351.8 828.3L351.7 828.9L351.6 829.6L351.6 830.6L351.5 832L351.4 833.8L351.4 835.9L351.3 838.2L351.3 840.8L351.2 843.7L351.2 846.8L351.2 850.5L351.2 855L351.2 859.7L351.2 864.3L351.2 868.1L351.2 870.8L350.2 870.8L350.2 868.1L350.2 864.3L350.2 859.7L350.2 855L350.2 850.5L350.2 846.8L350.2 843.7L350.1 840.8L350.1 838.2L350 835.9L350 833.8L349.9 832L349.8 830.6L349.8 829.6L349.7 828.9L349.6 828.3L349.5 827.7L349.4 826.9L349.3 826L349.1 825.1L349 824.2L348.8 823.3L348.7 822.4L348.5 821.5L348.3 820.6L348.1 819.8L347.9 818.9L347.7 818L347.4 817.2L347.2 816.3L347 815.5L346.7 814.6L346.4 813.8L346.2 812.9L345.9 812L345.5 811.2L345.1 810.3L344.6 809.5L344.1 808.6L343.6 807.7L343.1 806.9L342.6 806L342.1 805.2L341.7 804.3L341.3 803.4L340.9 802.6L340.4 801.7L340 800.9L339.6 800L339.1 799.2L338.6 798.3L338.2 797.4L337.8 796.6L337.4 795.7L337.1 794.8L336.8 793.9L336.5 793L336.2 792.1L335.9 791.2L335.6 790.3L335.2 789.4L334.8 788.4L334.4 787.5L333.9 786.5L333.4 785.6L332.9 784.7L332.3 783.8L331.6 782.9L330.9 782L330.3 781.1L329.7 780.3L329.2 779.5L328.9 778.8L328.6 778L328.4 777.3L328.3 776.7L328.2 776L328.3 775.3L328.4 774.7L328.7 774L329 773.4L329.4 772.8L329.8 772.1L330.3 771.4L330.8 770.7L331.4 769.9L332.1 769L332.7 768.2L333.4 767.4L334.1 766.5L334.8 765.6L335.5 764.7L336.3 763.8L337.1 762.9L337.8 762L338.5 761.1L339.2 760.2L339.8 759.4L340.5 758.5L341.1 757.6L341.7 756.8L342.3 755.9L342.8 755.1L343.3 754.2L343.8 753.3L344.2 752.5L344.7 751.6L345.1 750.8L345.5 750L345.9 749.1L346.3 748.3L346.6 747.5L347 746.7L347.3 745.9L347.6 745.1L347.9 744.4L348.2 743.6L348.4 742.8L348.7 741.9L348.9 740.7L349.1 739.4L349.3 738.1L349.4 736.5L349.6 734.8L349.7 732.9L349.8 730.7L349.9 728L350 724.8L350 721.4L350.1 718L350.1 714.7L350.2 711.8L350.3 709L350.4 706.3L350.5 703.8L350.6 701.5L350.6 699.7L350.7 698.2Z" fill="#a3b5c9" stroke="#222" stroke-width="1.2" stroke-linejoin="round"/>
<path d="M344.7 761.9h0M353.6 775h0M353.3 773.6h0M359 785.5h0M352.6 727.5h0M355.6 773h0M342.7 801.5h0M350.1 755.5h0M352.7 771h0M345.2 784.4h0M351.8 770.7h0M354.9 775.2h0M355.2 763.3h0M342.9 783.8h0M345.6 793.8h0M351.2 790.5h0M347.2 781.9h0M349.9 766.5h0M357.5 792.8h0M357.4 807.4h0M349.9 746.6h0M341.5 770.8h0M346.3 772.4h0M349.5 761.7h0M351.6 778.9h0M359.9 763.5h0M346.3 766.8h0M345.2 797.1h0M349.9 814.1h0M351.5 741.2h0M341.9 807.9h0M357.7 792.5h0M351.7 787.4h0M355.3 778.8h0M354.9 802.2h0M349.5 762.2h0M346.6 794.6h0M342.9 794h0M355.9 780.4h0M341.4 786.8h0M341.6 776.1h0M357.8 791.4h0M352.2 787.5h0M350.8 747.1h0M349 794.7h0M347.9 792.2h0M350 774.5h0M350.1 791.4h0M358.2 767.7h0M350.3 781.7h0M349.9 744.7h0M360 797.1h0M348.8 759.3h0M357.5 770.3h0M348.8 764.5h0M357.6 754.2h0M352.9 754h0M344.9 761.4h0M350.9 797.5h0M344.3 807.7h0M356.1 797.1h0M359.8 802.6h0M354.1 802.9h0M352.4 801.6h0M351.8 781.5h0M342.7 802.8h0M341.8 793h0M348.5 776.4h0M348.3 768.2h0M342.2 773.4h0M352.5 758.5h0M357.6 751.5h0M342.4 789.9h0M349.1 820.3h0M357.1 787.9h0M356.5 789.2h0M359.6 780h0M354.7 803.7h0M343.8 774.3h0M350.4 764.8h0M357.5 756.2h0M349.3 805.8h0M358.6 799.8h0M356.4 780.9h0M349.4 765.9h0M353.5 783.3h0M358.2 794h0M353 783.5h0M352.7 785.4h0M352.4 778.1h0M351.8 768.2h0M343.1 774.3h0M343.9 753h0M341.9 757.6h0M342.6 806.3h0M345.6 816.4h0M346.6 786.5h0M347.6 786.8h0M351.5 770.8h0M345.5 799.6h0M354 792.2h0M348.7 753h0M353.3 808.9h0M351 773.7h0M343.8 793h0M354.5 790.2h0M350.6 768.7h0M348 800.4h0M345.7 792.7h0M346.8 767.6h0M341.7 760.2h0M341.6 781.9h0M353.3 784.2h0M343.2 805.7h0M355.1 816.5h0M346.7 777.1h0M355 799.2h0M347.2 758.6h0M356.3 802.3h0M359.2 783.2h0M344.4 805.1h0M357.6 767.7h0M353.9 790.4h0M356.9 809.1h0M353.4 820.6h0M353.8 786.2h0M345.7 775.8h0M352.4 780.5h0M348 793.4h0M352 800.5h0M345.2 792h0M344.9 748.9h0M352.1 777.9h0M356.2 776.2h0M360.2 766.9h0M348.8 787.7h0M353.4 772.9h0M341.6 775.7h0M342.9 775.1h0M352.1 795.1h0M346.6 794h0M348.6 809.4h0M355.2 794.3h0M356.1 804.2h0M342.2 791.7h0M341.9 752.4h0M347.6 724.8h0M352.3 785.7h0M350 814.8h0M345.9 774.4h0M358.2 792.7h0M341.4 774.2h0M348.3 782.5h0M355.6 775.9h0M354.9 774.3h0M348.9 787.7h0M348.7 772.3h0M351.9 786h0M351.3 770.6h0M354.6 758h0M356.6 769h0M347.1 829h0M357.7 770.6h0M346.8 768.1h0M342.2 803.2h0M356 773.6h0M354.5 800.4h0M352.9 770.6h0M341.2 808.2h0M354.7 801.8h0M346.6 796.3h0M355.4 777.2h0M350.6 784.3h0M343 773.2h0M354.4 740.6h0M357.6 799.9h0M344.5 781.1h0M349.1 790h0M346.3 785.2h0M359.6 802.9h0M348.3 753.2h0M353.3 758.5h0M359.1 754.6h0M345.1 757.4h0M355.1 792.2h0M357.8 751.5h0M345.9 761.3h0M351.8 786.4h0M356.8 782.1h0M352.5 784.4h0M353.8 771.8h0M352.2 772.8h0M341.8 787.6h0M353.5 776.1h0M356.5 793h0M346.5 778.4h0M349.3 798.1h0M358.2 756.6h0M351.4 738.5h0M350.4 776.6h0M343.7 786.9h0M349.2 774.9h0M354.9 807.6h0M346 801.4h0M355.4 788.1h0M348.8 768.5h0M345.7 762.5h0M354.8 764.9h0M346.8 757.3h0M351.6 793h0M347.8 785.3h0M350.2 822.6h0M341.5 773h0M345.1 750.8h0M355.8 802.4h0M341.7 795h0M343.5 805.9h0M342.3 779h0M342 798.7h0M347.1 815.6h0M344 757.7h0M345.2 776.2h0M352.3 806.8h0M357.3 783.5h0M353 793.8h0M345.3 766.9h0M351.2 775.8h0M352.5 793.6h0M342.2 790.3h0M359.8 777.4h0M358.9 777.4h0M348.9 829.2h0M355.7 777.3h0M356.2 771.4h0M356.1 781.7h0M347.9 794.3h0M356.5 778.6h0M354.7 782.3h0M347.4 824.9h0M352.4 736.6h0M342.9 767.6h0M357 769.6h0M344.9 792.4h0M355.5 795.1h0M343.1 780.3h0M343.8 772.5h0M344.5 800.3h0M342.4 784.1h0M343.4 781.8h0M350.5 765.7h0M358.6 768.1h0M343.8 792.7h0M352.8 764.5h0M343.2 793.9h0M355.2 777.6h0M352.1 820.9h0M346 802.6h0M342.4 795.7h0M343.1 766.6h0M346 798.2h0M343.9 781.7h0M359.9 782h0M344.2 779h0M344.2 808.7h0M346.5 765.6h0M346.5 788.6h0M356.4 776.8h0M344.1 784.8h0M352.7 785.4h0M358.5 772.7h0M358 774.2h0M351.6 780.6h0M347.4 795.1h0M342.2 806.5h0M348.2 783.9h0M348.4 773.1h0M357.4 808.9h0M354.9 815.8h0M351.3 784.7h0M359.4 801.3h0M341.6 773h0M359.5 765.2h0M346 784h0M353.9 796.4h0M346 782.8h0M348.8 767.2h0M348.1 757.7h0M349.5 772.8h0M347.9 792h0M347.2 757.2h0M353.7 761.3h0M359.4 754.3h0M355.9 777.3h0M349.4 749.4h0M348.8 767h0M352.5 791.4h0M341.7 796.3h0M356.4 795.1h0M353 754.8h0M358.3 758h0M354.7 801.4h0M343.6 789.8h0M353.3 758.3h0M353.4 775.1h0M350.8 806.5h0M344.8 758.8h0M348.9 778h0M346.4 792.8h0M355.6 804.9h0M351.3 744.3h0M351 770.9h0M356.9 788.2h0M345.8 756.8h0M349.6 783h0M352.9 786.4h0M344.2 770.7h0M347.6 779.2h0M342.8 770.3h0M347.7 786.6h0M342.9 808.9h0M359.3 764.5h0M353.2 780.6h0M341.8 784.1h0M354.8 766.3h0M346.8 795.4h0M350.1 760.2h0M349 809.3h0M352.1 813.7h0M342.5 760.8h0M351 777.5h0M350.9 770.9h0M348 769.4h0M343.5 767.7h0M344 800.6h0M346.4 770.4h0M354.2 787.8h0M347.8 794h0M358 792.2h0M352.9 766.2h0M353.8 781h0" stroke="#0a0a0a" stroke-width="2.3" stroke-linecap="round" fill="none"/>
<path d="M398.6 689.9L398.7 692.4L398.7 695.9L398.8 700.1L398.9 704.4L399 708.4L399.1 711.8L399.2 714.4L399.2 716.8L399.2 718.8L399.3 720.7L399.3 722.3L399.4 723.8L399.5 725L399.5 725.9L399.6 726.7L399.7 727.3L399.9 727.9L400 728.7L400.2 729.5L400.4 730.4L400.7 731.3L400.9 732.1L401.2 733L401.4 733.8L401.6 734.7L401.8 735.6L402 736.4L402.1 737.3L402.4 738.2L402.6 739L402.9 739.8L403.2 740.6L403.5 741.5L403.8 742.3L404.2 743.1L404.6 743.9L405 744.8L405.5 745.6L406 746.5L406.5 747.3L407 748.2L407.5 749.1L408 749.9L408.5 750.8L409.1 751.6L409.6 752.5L410.1 753.4L410.6 754.2L411.1 755.1L411.6 755.9L412.1 756.8L412.6 757.7L413 758.5L413.4 759.4L413.8 760.2L414.1 761.1L414.4 762L414.7 762.8L415 763.7L415.2 764.5L415.4 765.4L415.6 766.2L415.8 767L415.9 767.8L416 768.6L416.1 769.4L416.2 770.3L416.2 771.1L416.2 771.9L416.2 772.8L416 773.7L415.8 774.6L415.4 775.5L414.8 776.4L414.2 777.3L413.5 778.3L412.9 779.4L412.3 780.7L411.8 782.3L411.4 784L411.1 785.8L410.7 787.8L410.4 789.7L410 791.5L409.6 793.3L409.2 795.1L408.8 797L408.5 798.8L408.1 800.6L407.7 802.3L407.3 804.1L407 805.9L406.6 807.6L406.3 809.4L405.9 811.1L405.5 812.9L405.1 814.7L404.6 816.6L404.2 818.4L403.7 820.3L403.2 822L402.8 823.7L402.4 825.3L402 826.8L401.6 828.2L401.2 829.6L400.9 830.9L400.6 832.3L400.3 833.6L400.1 834.8L399.9 836L399.7 837.3L399.5 838.5L399.4 839.9L399.3 841.3L399.2 842.8L399.2 844.3L399.2 845.8L399.2 847.5L399.1 849.2L399 851.2L398.9 853.6L398.8 856L398.7 858.2L398.7 860.1L398.6 861.5L398.6 861.5L398.5 860.1L398.5 858.2L398.4 856L398.3 853.6L398.2 851.2L398.1 849.2L398 847.5L398 845.8L398 844.3L398 842.8L397.9 841.3L397.8 839.9L397.7 838.5L397.5 837.3L397.3 836L397.1 834.8L396.9 833.6L396.6 832.3L396.3 830.9L396 829.6L395.6 828.2L395.2 826.8L394.8 825.3L394.4 823.7L394 822L393.5 820.3L393.1 818.4L392.6 816.6L392.1 814.7L391.7 812.9L391.3 811.1L390.9 809.4L390.6 807.6L390.2 805.9L389.9 804.1L389.5 802.3L389.1 800.6L388.7 798.8L388.4 797L388 795.1L387.6 793.3L387.2 791.5L386.8 789.7L386.5 787.8L386.1 785.8L385.8 784L385.4 782.3L384.9 780.7L384.3 779.4L383.7 778.3L383 777.3L382.4 776.4L381.8 775.5L381.4 774.6L381.2 773.7L381 772.8L381 771.9L381 771.1L381 770.3L381.1 769.4L381.2 768.6L381.3 767.8L381.4 767L381.6 766.2L381.8 765.4L382 764.5L382.2 763.7L382.5 762.8L382.8 762L383.1 761.1L383.4 760.2L383.8 759.4L384.2 758.5L384.6 757.7L385.1 756.8L385.6 755.9L386.1 755.1L386.6 754.2L387.1 753.4L387.6 752.5L388.1 751.6L388.7 750.8L389.2 749.9L389.7 749.1L390.2 748.2L390.7 747.3L391.2 746.5L391.7 745.6L392.2 744.8L392.6 743.9L393 743.1L393.4 742.3L393.7 741.5L394 740.6L394.3 739.8L394.6 739L394.8 738.2L395.1 737.3L395.2 736.4L395.4 735.6L395.6 734.7L395.8 733.8L396 733L396.3 732.1L396.5 731.3L396.8 730.4L397 729.5L397.2 728.7L397.3 727.9L397.5 727.3L397.6 726.7L397.7 725.9L397.7 725L397.8 723.8L397.9 722.3L397.9 720.7L398 718.8L398 716.8L398 714.4L398.1 711.8L398.2 708.4L398.3 704.4L398.4 700.1L398.5 695.9L398.5 692.4L398.6 689.9Z" fill="#a3b5c9" stroke="#222" stroke-width="1.2" stroke-linejoin="round"/>
<path d="M403.5 772.3h0M395.7 832.1h0M392.4 793.1h0M403.9 776.3h0M397.3 776.3h0M393.2 776.6h0M394.9 790h0M399.1 756.1h0M401.9 808.2h0M406.8 808.8h0M401.3 762.1h0M394.1 797.1h0M400.6 758.2h0M400.2 772.2h0M394 766h0M405.6 774.3h0M400.5 811.4h0M396.2 822.2h0M391.4 774.2h0M390.4 770.3h0M403.2 786.9h0M395.1 818.3h0M405.7 787.3h0M390.6 753h0M400.2 818.5h0M394 746h0M408 790.3h0M387.2 803.4h0M399.4 774.9h0M391.7 760.3h0M398.1 780.4h0M394.7 785.7h0M399.5 772.5h0M396.1 819h0M401.5 796.7h0M390.5 763.2h0M398.2 754h0M392.4 779.3h0M403.5 734.8h0M403.7 739.7h0M398.1 774.2h0M405.8 795.7h0M397.2 804.3h0M398.6 765.5h0M391.8 753.7h0M389.9 789.2h0M398.6 746.2h0M400.9 779.5h0M393.9 811.4h0M403.4 736.7h0M394.6 759.3h0M397.2 767.9h0M398.7 831.8h0M395.2 759.8h0M392 786.9h0M398.7 803.3h0M390 794.2h0M392.5 785.8h0M402.3 783.4h0M406 771.5h0M394.1 795.5h0M407.2 764h0M404.2 741.6h0M405.5 799.9h0M395.8 819.3h0M403.7 759.2h0M406 784h0M400 810.1h0M394.2 829h0M391.5 781.2h0M403.6 759.9h0M397.5 758.7h0M399.3 772.1h0M406.6 752.8h0M397.3 806.1h0M392 794.3h0M404 760.8h0M392.9 751.9h0M390.8 758.2h0M389.9 796.3h0M391.2 798.4h0M398.1 756.1h0M396.2 762.3h0M396.5 742.8h0M396.8 797.4h0M396.5 806.8h0M398.8 763.9h0M400.8 732.5h0M407.3 771.6h0M400.4 763h0M406.7 767.7h0M392.3 805.5h0M389.4 812.3h0M392 787.4h0M389.7 796h0M396.4 751.8h0M400.9 758.1h0M400.6 834.1h0M404.3 799.4h0M406.9 747.9h0M400 774.3h0M391.8 781.8h0M398.9 819.8h0M403.2 774.2h0M396.7 798.4h0M406.8 762.8h0M397.1 833.8h0M406.6 750.4h0M402.6 780.1h0M395.5 795.1h0M401.6 798.8h0M398.3 752.8h0M399.7 764.1h0M407.5 780.1h0M404.4 778.8h0M399.6 767.7h0M394.5 795.5h0M398.1 791.2h0M405.9 746.8h0M397 780.2h0M392.3 803h0M395.5 737.6h0M390.3 756.7h0M392.9 795.9h0M389.2 776.8h0M390.6 745.5h0M405.4 771h0M401.7 747.3h0M402.8 762.9h0M397.4 805.6h0M410.1 749.9h0M401.9 806.6h0M407.2 766.8h0M407.3 795.4h0M390.2 812.9h0M389.4 764.6h0M390.8 772.4h0M393.6 777.1h0M389.7 802.9h0M402.1 801.5h0M391.6 764.2h0M397.8 783.2h0M395.3 784.5h0M397.1 757.8h0M397.9 756.3h0M403.9 771h0M404.6 742.1h0M395.6 749.3h0M395.3 781.2h0M390.4 793.1h0M406.2 787.5h0M394.7 767.5h0M403.5 756.5h0M405.9 756.2h0M397.5 803.1h0M393.5 777.9h0M406.8 763.2h0M406.6 770h0M397.3 748.7h0M394.7 779.9h0M406.7 788.7h0M400.3 773.8h0M394.9 792.2h0M390.3 772.8h0M398.1 759.1h0M406.6 787.6h0" stroke="#0a0a0a" stroke-width="2.3" stroke-linecap="round" fill="none"/>
<path d="M442.1 711.3L442.2 712.6L442.3 714.6L442.4 716.8L442.5 719.3L442.6 721.7L442.7 724L442.8 726.3L442.8 728.7L442.9 731.1L442.9 733.4L443 735.5L443.1 737.3L443.3 738.6L443.4 739.7L443.6 740.5L443.9 741.2L444.1 741.9L444.3 742.7L444.5 743.6L444.7 744.5L444.9 745.4L445.1 746.3L445.3 747.2L445.6 748.1L445.9 749L446.2 749.9L446.5 750.8L446.8 751.7L447.2 752.6L447.6 753.5L448 754.4L448.4 755.3L448.9 756.2L449.3 757.1L449.8 758L450.4 758.9L451 759.8L451.7 760.7L452.5 761.6L453.2 762.5L454 763.4L454.7 764.3L455.4 765.2L456.2 766L456.9 766.9L457.7 767.7L458.4 768.6L459 769.4L459.6 770.3L460.2 771.2L460.7 772.1L461.2 773L461.6 773.9L462 774.8L462.3 775.7L462.5 776.6L462.7 777.5L462.8 778.4L462.9 779.3L462.9 780.2L462.9 781.1L462.8 782L462.6 782.9L462.4 783.8L462.1 784.7L461.7 785.6L461.2 786.5L460.6 787.4L460 788.3L459.3 789.2L458.5 790.1L457.8 791L457 791.9L456.2 792.8L455.4 793.7L454.5 794.6L453.7 795.5L452.9 796.4L452.1 797.4L451.4 798.5L450.6 799.5L449.9 800.6L449.2 801.6L448.6 802.6L448 803.5L447.4 804.4L446.9 805.2L446.4 806L446 806.8L445.6 807.5L445.3 808.1L445.1 808.6L444.9 809.1L444.7 809.6L444.6 810.2L444.4 810.9L444.2 811.8L444 812.6L443.8 813.6L443.6 814.6L443.4 815.9L443.3 817.3L443.2 818.9L443.1 820.5L443 822.3L442.9 824.4L442.9 826.8L442.8 829.6L442.8 833.1L442.8 837.3L442.8 841.9L442.8 846.4L442.7 850.6L442.7 854.1L442.6 857L442.5 859.6L442.4 861.8L442.3 863.7L442.2 865.2L442.1 866.4L442.1 866.4L442 865.2L441.9 863.7L441.8 861.8L441.7 859.6L441.6 857L441.5 854.1L441.5 850.6L441.4 846.4L441.4 841.9L441.4 837.3L441.4 833.1L441.4 829.6L441.3 826.8L441.3 824.4L441.2 822.3L441.1 820.5L441 818.9L440.9 817.3L440.8 815.9L440.6 814.6L440.4 813.6L440.2 812.6L440 811.8L439.8 810.9L439.6 810.2L439.5 809.6L439.3 809.1L439.1 808.6L438.9 808.1L438.6 807.5L438.2 806.8L437.8 806L437.3 805.2L436.8 804.4L436.2 803.5L435.6 802.6L435 801.6L434.3 800.6L433.6 799.5L432.8 798.5L432.1 797.4L431.3 796.4L430.5 795.5L429.7 794.6L428.8 793.7L428 792.8L427.2 791.9L426.4 791L425.7 790.1L424.9 789.2L424.2 788.3L423.6 787.4L423 786.5L422.5 785.6L422.1 784.7L421.8 783.8L421.6 782.9L421.4 782L421.3 781.1L421.3 780.2L421.3 779.3L421.4 778.4L421.5 777.5L421.7 776.6L421.9 775.7L422.2 774.8L422.6 773.9L423 773L423.5 772.1L424 771.2L424.6 770.3L425.2 769.4L425.8 768.6L426.5 767.7L427.3 766.9L428 766L428.8 765.2L429.5 764.3L430.2 763.4L431 762.5L431.7 761.6L432.5 760.7L433.2 759.8L433.8 758.9L434.4 758L434.9 757.1L435.3 756.2L435.8 755.3L436.2 754.4L436.6 753.5L437 752.6L437.4 751.7L437.7 750.8L438 749.9L438.3 749L438.6 748.1L438.9 747.2L439.1 746.3L439.3 745.4L439.5 744.5L439.7 743.6L439.9 742.7L440.1 741.9L440.3 741.2L440.6 740.5L440.8 739.7L440.9 738.6L441.1 737.3L441.2 735.5L441.3 733.4L441.3 731.1L441.4 728.7L441.4 726.3L441.5 724L441.6 721.7L441.7 719.3L441.8 716.8L441.9 714.6L442 712.6L442.1 711.3Z" fill="#a3b5c9" stroke="#222" stroke-width="1.2" stroke-linejoin="round"/>
<path d="M443 743.5h0M448.1 792.4h0M433.7 795.3h0M439 755h0M447.3 769.4h0M438.5 777.3h0M438.8 782.2h0M446.5 794.3h0M442 789.1h0M446.9 789.7h0M441.7 760.3h0M439.3 761.5h0M437.6 775.3h0M434.1 801.3h0M444.5 773.1h0M442.8 794.8h0M448.6 771.6h0M438.8 805.4h0M434 780.8h0M448.9 774.5h0M434.6 800.4h0M433.6 768.3h0M435.3 794.7h0M435.5 776.2h0M438.4 768.2h0M446.2 779.4h0M444.1 749h0M445.6 738.9h0M435.9 777.1h0M443 811.8h0M448.6 774.1h0M440.3 741.5h0M441.1 789.7h0M437.3 768.2h0M441.8 764.2h0M448.8 758.8h0M436.8 757.3h0M436.1 796.9h0M445.4 738.4h0M440.9 775.1h0M438.3 780h0M447.6 774.1h0M440.6 784.3h0M447.6 788.3h0M435.9 801.9h0M440.2 768.1h0M448.3 788.7h0M449.9 791.8h0M437.4 760.8h0M442.2 775.4h0M438.9 785.7h0M448.7 762.6h0M447.7 782.7h0M446.3 777.2h0M446.6 781h0M443.9 772.8h0M434.2 790.5h0M441 772.7h0M439.8 771.6h0M443.1 764.3h0M449.2 789.1h0M441.7 752.3h0M439.7 784.2h0M441.8 773.5h0M450.3 764.9h0M447.6 756.8h0M450.3 801.5h0M446.8 765.4h0M451.6 801.7h0M433.2 801.8h0M441.9 799.5h0M449 767h0M449.1 777.7h0M444.6 763.5h0M436.6 772.1h0M433.6 788.3h0M436 769.8h0M444.5 798.1h0M448.4 794.2h0M441.7 776.7h0M449.3 768.4h0M444 795.3h0M438.3 764.8h0M448.4 797.9h0M444.7 783.3h0M437.7 779.3h0M445.1 796.1h0M446.7 764.7h0M447.6 806.8h0M443.8 754.5h0M444.7 775.5h0M434.5 789.5h0M435.7 767h0M440.8 756.2h0M436.1 786.6h0M446.9 788.7h0M443.2 816.3h0M437.3 796.8h0M446.7 785.8h0M434.9 793.3h0M434.9 752h0M452.6 799.7h0M441.2 795.8h0M438.5 790.3h0M446.6 783.3h0M446.6 745.9h0M447.6 785.7h0M449.4 783.6h0M451.5 800.1h0M448.2 779.8h0M435.1 787.5h0M439 791.3h0M445.7 748.1h0M444.8 761.9h0M443.8 763.4h0M444.1 793.1h0M446.8 801.2h0M449 759.8h0M441.1 765.1h0M441.7 818.7h0M446.5 791.6h0M445.8 785.1h0M435 753.4h0M447.8 767h0M438.6 807.5h0M440.8 743.5h0M444.3 796.7h0M448.6 794.5h0M444.9 764.4h0M438.6 772.9h0M448.5 793.7h0M440.5 797h0M445.8 769.3h0M449.7 793.3h0M439.3 782.3h0M443.6 751.2h0M449.4 798.5h0M445.1 813.8h0M445.5 801.5h0M448.5 781h0M435.8 774.9h0M446.4 778.2h0M448 760.7h0M447.5 768.3h0M441.8 748.9h0M450.3 795.4h0M446.6 797.5h0M442.5 812.5h0M450.1 782.3h0M440.8 782h0M442 775.5h0M448.3 795.6h0M439.3 782.2h0M440.2 775.5h0M441.5 791.5h0M443.6 763.9h0M441.9 788.5h0M445.5 790.2h0M443.4 790.1h0M445.6 761.1h0M447.4 766.1h0M448.6 772.3h0M445.5 746.8h0M446.5 785.1h0M441.6 785.1h0M448.5 784h0M449.1 783.8h0M448 794.1h0M441 773.6h0M446.8 767.9h0M444.1 806.1h0M440.5 779.3h0M443 748.7h0M447.9 784.8h0M439.1 783.9h0M435.2 770h0M444.2 790.9h0M435.2 773.1h0M438.6 791.7h0M441.4 761.6h0M442.3 755.6h0M449.4 764.5h0M443.1 765.1h0M443.5 801.7h0M450.1 786h0M447.8 766h0M448.7 758.6h0M445.6 783.5h0M445.7 779.7h0M436.8 769.7h0M439.7 774.4h0M443.7 808.8h0M440.4 780h0M441 786.6h0M443.6 773.5h0M446.1 783.5h0M439.9 775.2h0M445.2 739h0M445.6 776.3h0M440.1 768.3h0M446.6 806.3h0M441.9 788.3h0M445 774.4h0M440 814.1h0M439.6 788.6h0M446.6 770.9h0M444 798h0M435.4 783.6h0M439.4 793.2h0M445 777h0M441.8 792.8h0M437.1 762.7h0M441.3 784.1h0M439.4 806.3h0M447.9 797.7h0M445.8 760h0M448.8 776.9h0M434.3 764.7h0M445.7 806.4h0M444.5 797.9h0M441.3 773.8h0M441.9 804.8h0M436.3 758.6h0M446.6 790.9h0M445.8 809.8h0M444 774.2h0M450.1 781.3h0M445.9 788.7h0M435.7 768.4h0M443.6 762h0M441.6 794.4h0M445.9 787.4h0M441.1 782h0M448.5 780.8h0M444.1 770.6h0M445.8 770.6h0M445.7 786.7h0M445.6 771.6h0M439 796.9h0M434.7 772.8h0M450.1 761.9h0M444.1 775.7h0M446 781.4h0M442.2 766.4h0M441.5 756.4h0M434.3 803.6h0M450.3 791.2h0M447.1 800.2h0M436.6 777.2h0M437.1 772.8h0M441.4 758.2h0M441.8 789.4h0M444.7 773.3h0M448.2 796.8h0M448.4 762.3h0M448.1 787.1h0M445.7 795.1h0M440.2 817.3h0M443.5 780.2h0M440.5 783.6h0M443 758h0M436.6 789h0M437.7 759.4h0M438.8 786h0M441.4 765.8h0M437.1 763.4h0M443.1 775.4h0M436.6 794.2h0M447.6 780h0M441.6 779.9h0M437 782.1h0M446 796.5h0M446.3 791h0M437.6 749.8h0M436.9 774.9h0M438.6 781.8h0M446.2 754.4h0M443.5 768.1h0M434.4 760.6h0M440 795.8h0M449.5 780h0M450.5 763.5h0M441.4 793.7h0M450.5 767.6h0M442.9 759.4h0M436.4 769.7h0M436.3 772.2h0M441.2 765.1h0M440.8 776h0M440.4 810.7h0M442.6 778.2h0M451.8 801.8h0M438.7 793.1h0M443.8 785.1h0M447.9 763.2h0M448.6 762.5h0M450.3 775.5h0M443.3 820.4h0M440.4 813.8h0M447.6 796.3h0" stroke="#0a0a0a" stroke-width="2.3" stroke-linecap="round" fill="none"/>
<path d="M262.8 694.8V870.5M262.3 870.5H468M259.6 711.8H262.8M259.6 736.3H262.8M259.6 760.9H262.8M259.6 785.4H262.8M259.6 809.9H262.8M259.6 834.5H262.8M259.6 859H262.8" stroke="#111" stroke-width="1.2" fill="none"/>
<text x="258.6" y="714.1" font-size="6.8" text-anchor="end" fill="#1a1a1a" stroke="#1a1a1a" stroke-width="0.22">30</text>
<text x="258.6" y="738.7" font-size="6.8" text-anchor="end" fill="#1a1a1a" stroke="#1a1a1a" stroke-width="0.22">20</text>
<text x="258.6" y="763.2" font-size="6.8" text-anchor="end" fill="#1a1a1a" stroke="#1a1a1a" stroke-width="0.22">10</text>
<text x="258.6" y="787.8" font-size="6.8" text-anchor="end" fill="#1a1a1a" stroke="#1a1a1a" stroke-width="0.22">0</text>
<text x="258.6" y="812.3" font-size="6.8" text-anchor="end" fill="#1a1a1a" stroke="#1a1a1a" stroke-width="0.22">-10</text>
<text x="258.6" y="836.9" font-size="6.8" text-anchor="end" fill="#1a1a1a" stroke="#1a1a1a" stroke-width="0.22">-20</text>
<text x="258.6" y="861.4" font-size="6.8" text-anchor="end" fill="#1a1a1a" stroke="#1a1a1a" stroke-width="0.22">-30</text>
<text x="227.4" y="776.5" font-size="9.8" text-anchor="middle" fill="#1a1a1a" transform="rotate(-90 227.4 776.5)" stroke="#1a1a1a" stroke-width="0.22">FB232 - DMSO</text>
<text x="239" y="775.3" font-size="9.8" text-anchor="middle" fill="#1a1a1a" transform="rotate(-90 239 775.3)" stroke="#1a1a1a" stroke-width="0.22">Δm6a (%)</text>
<text x="296.5" y="880.6" font-size="8.8" text-anchor="middle" fill="#1a1a1a" font-style="italic" stroke="#1a1a1a" stroke-width="0.22">CENPE</text>
<text x="349.2" y="880.6" font-size="8.8" text-anchor="middle" fill="#1a1a1a" font-style="italic" stroke="#1a1a1a" stroke-width="0.22">AURKA</text>
<text x="400.1" y="880.6" font-size="8.8" text-anchor="middle" fill="#1a1a1a" font-style="italic" stroke="#1a1a1a" stroke-width="0.22">E2F2</text>
<text x="442.4" y="880.6" font-size="8.8" text-anchor="middle" fill="#1a1a1a" font-style="italic" stroke="#1a1a1a" stroke-width="0.22">E2F3</text>
<text x="272.3" y="710" font-size="6.1" fill="#1a1a1a">&gt;0: <tspan font-weight="bold">266</tspan></text>
<text x="272.3" y="716.7" font-size="6.1" fill="#1a1a1a">&gt;10: <tspan font-weight="bold">37</tspan></text>
<text x="293.7" y="846" font-size="6.1" fill="#1a1a1a" text-anchor="end">&lt;0: <tspan font-weight="bold">127</tspan></text>
<text x="292.2" y="852.7" font-size="6.1" fill="#1a1a1a" text-anchor="end">&lt;-10: <tspan font-weight="bold">6</tspan></text>
<text x="325" y="710" font-size="6.1" fill="#1a1a1a">&gt;0: <tspan font-weight="bold">206</tspan></text>
<text x="325" y="715.5" font-size="6.1" fill="#1a1a1a">&gt;10: <tspan font-weight="bold">45</tspan></text>
<text x="346.4" y="846" font-size="6.1" fill="#1a1a1a" text-anchor="end">&lt;0: <tspan font-weight="bold">136</tspan></text>
<text x="345.8" y="852.7" font-size="6.1" fill="#1a1a1a" text-anchor="end">&lt;-10: <tspan font-weight="bold">17</tspan></text>
<text x="369.7" y="711.2" font-size="6.1" fill="#1a1a1a">&gt;0: <tspan font-weight="bold">106</tspan></text>
<text x="369.7" y="716.1" font-size="6.1" fill="#1a1a1a">&gt;10: <tspan font-weight="bold">40</tspan></text>
<text x="390.3" y="846.6" font-size="6.1" fill="#1a1a1a" text-anchor="end">&lt;0: <tspan font-weight="bold">60</tspan></text>
<text x="391.2" y="852.1" font-size="6.1" fill="#1a1a1a" text-anchor="end">&lt;-10: <tspan font-weight="bold">19</tspan></text>
<text x="416.3" y="708.8" font-size="6.1" fill="#1a1a1a">&gt;0: <tspan font-weight="bold">193</tspan></text>
<text x="412.7" y="715.2" font-size="6.1" fill="#1a1a1a">&gt;10: <tspan font-weight="bold">35</tspan></text>
<text x="441.5" y="846.6" font-size="6.1" fill="#1a1a1a" text-anchor="end">&lt;0: <tspan font-weight="bold">107</tspan></text>
<text x="435.4" y="852.1" font-size="6.1" fill="#1a1a1a" text-anchor="end">&lt;-10: <tspan font-weight="bold">9</tspan></text>
<text x="470.3" y="686.9" font-size="13.2" font-weight="bold" fill="#111" stroke="#111" stroke-width="0.22">E</text>
<path d="M527.1 692V763.1M524.4 763.1H575.5M523.9 692H527.1M523.9 715.8H527.1M523.9 739.5H527.1M523.9 763.1H527.1M540.9 763.1v3M561 763.1v3" stroke="#111" stroke-width="1.2" fill="none"/>
<text x="522.5" y="694.5" font-size="6.9" text-anchor="end" fill="#1a1a1a" stroke="#1a1a1a" stroke-width="0.22">30</text>
<text x="522.5" y="718.3" font-size="6.9" text-anchor="end" fill="#1a1a1a" stroke="#1a1a1a" stroke-width="0.22">20</text>
<text x="522.5" y="742" font-size="6.9" text-anchor="end" fill="#1a1a1a" stroke="#1a1a1a" stroke-width="0.22">10</text>
<text x="522.5" y="765.6" font-size="6.9" text-anchor="end" fill="#1a1a1a" stroke="#1a1a1a" stroke-width="0.22">0</text>
<rect x="534" y="704.2" width="13.7" height="58.9" fill="#5f5ab8" />
<rect x="554.1" y="730.7" width="13.7" height="32.4" fill="#b5b5e6" />
<path d="M536.9 701.6h8M540.9 701.6V706.4" stroke="#4a70b8" stroke-width="1.1" fill="none"/>
<circle cx="538.1" cy="704.7" r="1.5" fill="#8db2e2"/>
<circle cx="540.9" cy="701.4" r="1.5" fill="#8db2e2"/>
<circle cx="543.2" cy="704.7" r="1.5" fill="#8db2e2"/>
<path d="M557.5 729.1h7M561 729.1V732.3" stroke="#6a38c0" stroke-width="1.1" fill="none"/>
<circle cx="558.5" cy="729.7" r="1.4" fill="#c792e6"/>
<circle cx="563.2" cy="730.2" r="1.4" fill="#c792e6"/>
<circle cx="559.5" cy="731.9" r="1.4" fill="#c792e6"/>
<path d="M540.9 701.3V694.4H561.4V725.4" stroke="#111" stroke-width="1.1" fill="none"/>
<text x="550.7" y="686.2" font-size="6.8" text-anchor="middle" font-weight="bold" fill="#111" stroke="#111" stroke-width="0.22">CENPE</text>
<text x="551.2" y="694.7" font-size="8.4" text-anchor="middle" font-weight="bold" fill="#111" letter-spacing="0.8" stroke="#111" stroke-width="0.22">****</text>
<text x="536.2" y="774.4" font-size="7.3" text-anchor="middle" fill="#1a1a1a" stroke="#1a1a1a" stroke-width="0.22">DMSO</text>
<text x="564.6" y="774.4" font-size="7.3" text-anchor="middle" fill="#1a1a1a" stroke="#1a1a1a" stroke-width="0.22">FB232</text>
<text x="510.6" y="727.8" font-size="7.3" text-anchor="middle" fill="#1a1a1a" transform="rotate(-90 510.6 727.8)" stroke="#1a1a1a" stroke-width="0.22">CPM</text>
<path d="M619.2 691.4V762.8M616.4 762.8H667.8M616 691.4H619.2M616 709.7H619.2M616 727.5H619.2M616 745.2H619.2M616 762.8H619.2M633.2 762.8v3M653.5 762.8v3" stroke="#111" stroke-width="1.2" fill="none"/>
<text x="614.6" y="693.9" font-size="6.9" text-anchor="end" fill="#1a1a1a" stroke="#1a1a1a" stroke-width="0.22">80</text>
<text x="614.6" y="712.2" font-size="6.9" text-anchor="end" fill="#1a1a1a" stroke="#1a1a1a" stroke-width="0.22">60</text>
<text x="614.6" y="730" font-size="6.9" text-anchor="end" fill="#1a1a1a" stroke="#1a1a1a" stroke-width="0.22">40</text>
<text x="614.6" y="747.7" font-size="6.9" text-anchor="end" fill="#1a1a1a" stroke="#1a1a1a" stroke-width="0.22">20</text>
<text x="614.6" y="765.3" font-size="6.9" text-anchor="end" fill="#1a1a1a" stroke="#1a1a1a" stroke-width="0.22">0</text>
<rect x="626.7" y="712.9" width="12.9" height="49.9" fill="#5f5ab8" />
<rect x="646.8" y="730.2" width="13.3" height="32.6" fill="#b5b5e6" />
<path d="M629.2 710.3h8M633.2 710.3V715.1" stroke="#4a70b8" stroke-width="1.1" fill="none"/>
<circle cx="630.4" cy="713.4" r="1.5" fill="#8db2e2"/>
<circle cx="633.2" cy="710.1" r="1.5" fill="#8db2e2"/>
<circle cx="635.6" cy="713.4" r="1.5" fill="#8db2e2"/>
<path d="M650 728.6h7M653.5 728.6V731.8" stroke="#6a38c0" stroke-width="1.1" fill="none"/>
<circle cx="651" cy="729.2" r="1.4" fill="#c792e6"/>
<circle cx="655.7" cy="729.7" r="1.4" fill="#c792e6"/>
<circle cx="652" cy="731.4" r="1.4" fill="#c792e6"/>
<path d="M633.1 706.1V701.3H653.7V725.4" stroke="#111" stroke-width="1.1" fill="none"/>
<text x="643.2" y="687" font-size="6.8" text-anchor="middle" font-weight="bold" fill="#111" stroke="#111" stroke-width="0.22">AURKA</text>
<text x="643.6" y="700.8" font-size="8.4" text-anchor="middle" font-weight="bold" fill="#111" letter-spacing="0.8" stroke="#111" stroke-width="0.22">***</text>
<text x="631.6" y="774.4" font-size="7.3" text-anchor="middle" fill="#1a1a1a" stroke="#1a1a1a" stroke-width="0.22">DMSO</text>
<text x="660.1" y="774.4" font-size="7.3" text-anchor="middle" fill="#1a1a1a" stroke="#1a1a1a" stroke-width="0.22">FB232</text>
<text x="603" y="725.4" font-size="7.3" text-anchor="middle" fill="#1a1a1a" transform="rotate(-90 603 725.4)" stroke="#1a1a1a" stroke-width="0.22">CPM</text>
<path d="M525.2 798.8V869.9M522 869.9H572.6M522 798.8H525.2M522 822.9H525.2M522 846.3H525.2M522 869.9H525.2M538.8 869.9v3M559 869.9v3" stroke="#111" stroke-width="1.2" fill="none"/>
<text x="520.6" y="801.3" font-size="6.9" text-anchor="end" fill="#1a1a1a" stroke="#1a1a1a" stroke-width="0.22">15</text>
<text x="520.6" y="825.4" font-size="6.9" text-anchor="end" fill="#1a1a1a" stroke="#1a1a1a" stroke-width="0.22">10</text>
<text x="520.6" y="848.8" font-size="6.9" text-anchor="end" fill="#1a1a1a" stroke="#1a1a1a" stroke-width="0.22">5</text>
<text x="520.6" y="872.4" font-size="6.9" text-anchor="end" fill="#1a1a1a" stroke="#1a1a1a" stroke-width="0.22">0</text>
<rect x="532" y="823" width="13.6" height="46.9" fill="#5f5ab8" />
<rect x="552" y="853.1" width="13.9" height="16.8" fill="#b5b5e6" />
<path d="M534.8 820.4h8M538.8 820.4V825.2" stroke="#4a70b8" stroke-width="1.1" fill="none"/>
<circle cx="536" cy="823.5" r="1.5" fill="#8db2e2"/>
<circle cx="538.8" cy="820.2" r="1.5" fill="#8db2e2"/>
<circle cx="541.2" cy="823.5" r="1.5" fill="#8db2e2"/>
<path d="M555.5 851.5h7M559 851.5V854.7" stroke="#6a38c0" stroke-width="1.1" fill="none"/>
<circle cx="556.5" cy="852.1" r="1.4" fill="#c792e6"/>
<circle cx="561.2" cy="852.6" r="1.4" fill="#c792e6"/>
<circle cx="557.5" cy="854.3" r="1.4" fill="#c792e6"/>
<path d="M538.6 814.5V810H559.4V849.4" stroke="#111" stroke-width="1.1" fill="none"/>
<text x="548.7" y="794.1" font-size="6.8" text-anchor="middle" font-weight="bold" fill="#111" stroke="#111" stroke-width="0.22">E2F2</text>
<text x="549.3" y="810" font-size="8.4" text-anchor="middle" font-weight="bold" fill="#111" letter-spacing="0.8" stroke="#111" stroke-width="0.22">***</text>
<text x="536.5" y="883.2" font-size="7.3" text-anchor="middle" fill="#1a1a1a" stroke="#1a1a1a" stroke-width="0.22">DMSO</text>
<text x="564.5" y="883.2" font-size="7.3" text-anchor="middle" fill="#1a1a1a" stroke="#1a1a1a" stroke-width="0.22">FB232</text>
<text x="510.6" y="830.6" font-size="7.3" text-anchor="middle" fill="#1a1a1a" transform="rotate(-90 510.6 830.6)" stroke="#1a1a1a" stroke-width="0.22">CPM</text>
<path d="M619.2 803.8V871.2M616.4 871.2H664.1M616 803.8H619.2M616 837.5H619.2M616 871.2H619.2M632.7 871.2v3M651.3 871.2v3" stroke="#111" stroke-width="1.2" fill="none"/>
<text x="614.6" y="806.3" font-size="6.9" text-anchor="end" fill="#1a1a1a" stroke="#1a1a1a" stroke-width="0.22">25</text>
<text x="614.6" y="840" font-size="6.9" text-anchor="end" fill="#1a1a1a" stroke="#1a1a1a" stroke-width="0.22">12.5</text>
<text x="614.6" y="873.7" font-size="6.9" text-anchor="end" fill="#1a1a1a" stroke="#1a1a1a" stroke-width="0.22">0</text>
<rect x="626.1" y="811.8" width="13.1" height="59.4" fill="#5f5ab8" />
<rect x="644.9" y="829.8" width="12.8" height="41.4" fill="#b5b5e6" />
<path d="M628.7 809.2h8M632.7 809.2V814" stroke="#4a70b8" stroke-width="1.1" fill="none"/>
<circle cx="629.9" cy="812.3" r="1.5" fill="#8db2e2"/>
<circle cx="632.7" cy="809" r="1.5" fill="#8db2e2"/>
<circle cx="635.1" cy="812.3" r="1.5" fill="#8db2e2"/>
<path d="M647.8 828.2h7M651.3 828.2V831.4" stroke="#6a38c0" stroke-width="1.1" fill="none"/>
<circle cx="648.8" cy="828.8" r="1.4" fill="#c792e6"/>
<circle cx="653.5" cy="829.3" r="1.4" fill="#c792e6"/>
<circle cx="649.8" cy="831" r="1.4" fill="#c792e6"/>
<path d="M632 803.3V799H651.8V823" stroke="#111" stroke-width="1.1" fill="none"/>
<text x="641.4" y="790.2" font-size="6.8" text-anchor="middle" font-weight="bold" fill="#111" stroke="#111" stroke-width="0.22">E2F3</text>
<text x="641.7" y="799.6" font-size="8.4" text-anchor="middle" font-weight="bold" fill="#111" letter-spacing="0.8" stroke="#111" stroke-width="0.22">***</text>
<text x="629" y="883.2" font-size="7.3" text-anchor="middle" fill="#1a1a1a" stroke="#1a1a1a" stroke-width="0.22">DMSO</text>
<text x="657.3" y="883.2" font-size="7.3" text-anchor="middle" fill="#1a1a1a" stroke="#1a1a1a" stroke-width="0.22">FB232</text>
<text x="599" y="834.6" font-size="7.3" text-anchor="middle" fill="#1a1a1a" transform="rotate(-90 599 834.6)" stroke="#1a1a1a" stroke-width="0.22">CPM</text>
</svg>
</body></html>
